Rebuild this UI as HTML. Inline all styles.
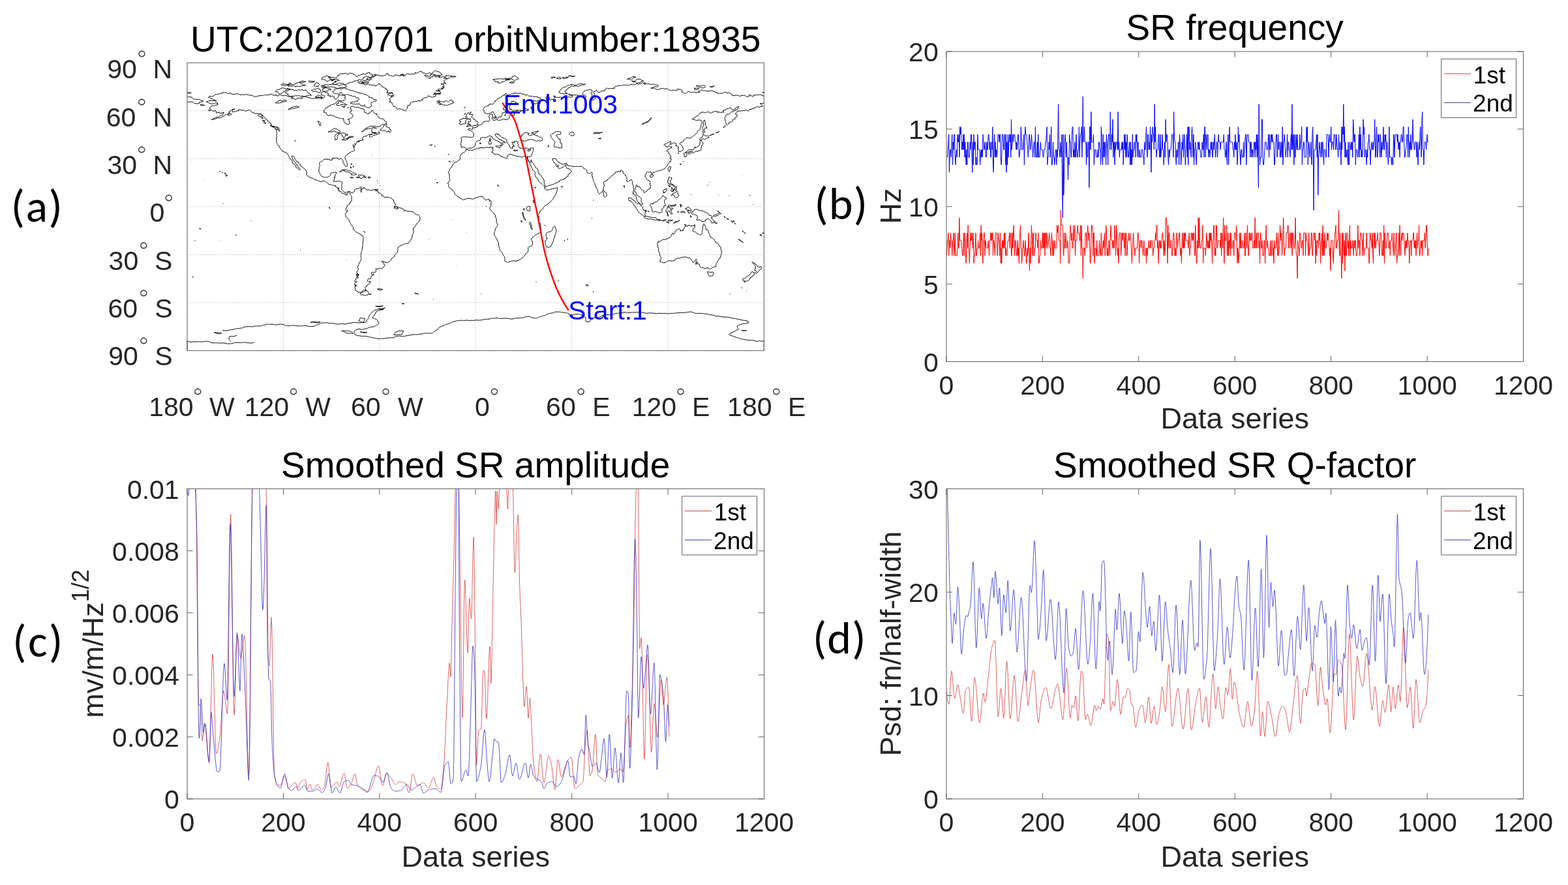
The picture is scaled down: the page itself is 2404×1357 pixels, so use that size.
<!DOCTYPE html><html><head><meta charset="utf-8"><title>figure</title><style>html,body{margin:0;padding:0;background:#fff;overflow:hidden}svg{display:block}</style></head><body><svg xmlns="http://www.w3.org/2000/svg" width="2404" height="1357" viewBox="0 0 2404 1357">
<rect width="2404" height="1357" fill="#fff"/>
<text x="16.8" y="340.0" font-size="70" text-anchor="start" fill="#000" font-family="Carlito, Calibri, 'Liberation Sans', sans-serif" letter-spacing="1.5">(a)</text>
<text x="1248.4" y="335.5" font-size="70" text-anchor="start" fill="#000" font-family="Carlito, Calibri, 'Liberation Sans', sans-serif" letter-spacing="1.2">(b)</text>
<text x="19.2" y="1007.0" font-size="70" text-anchor="start" fill="#000" font-family="Carlito, Calibri, 'Liberation Sans', sans-serif" letter-spacing="2.5">(c)</text>
<text x="1245.9" y="1002.0" font-size="70" text-anchor="start" fill="#000" font-family="Carlito, Calibri, 'Liberation Sans', sans-serif" letter-spacing="1.2">(d)</text>
<g>
<polyline points="1451.7,392.0 1452.5,368.8 1453.2,368.8 1453.9,357.1 1454.7,392.0 1455.4,368.8 1456.2,368.8 1456.9,380.4 1457.6,357.1 1458.4,368.8 1459.1,368.8 1459.8,392.0 1460.6,368.8 1461.3,368.8 1462.1,357.1 1462.8,392.0 1463.5,380.4 1464.3,357.1 1465.0,392.0 1465.7,392.0 1466.5,392.0 1467.2,392.0 1468.0,380.4 1468.7,357.1 1469.4,380.4 1470.2,380.4 1470.9,333.9 1471.6,368.8 1472.4,368.8 1473.1,368.8 1473.8,368.8 1474.6,380.4 1475.3,392.0 1476.1,392.0 1476.8,380.4 1477.5,357.1 1478.3,392.0 1479.0,357.1 1479.7,357.1 1480.5,392.0 1481.2,403.6 1482.0,368.8 1482.7,357.1 1483.4,380.4 1484.2,345.5 1484.9,380.4 1485.6,380.4 1486.4,403.6 1487.1,380.4 1487.9,357.1 1488.6,368.8 1489.3,368.8 1490.1,357.1 1490.8,368.8 1491.5,380.4 1492.3,357.1 1493.0,403.6 1493.8,392.0 1494.5,392.0 1495.2,380.4 1496.0,357.1 1496.7,392.0 1497.4,392.0 1498.2,380.4 1498.9,380.4 1499.6,368.8 1500.4,380.4 1501.1,380.4 1501.9,380.4 1502.6,357.1 1503.3,392.0 1504.1,345.5 1504.8,368.8 1505.5,357.1 1506.3,392.0 1507.0,403.6 1507.8,368.8 1508.5,357.1 1509.2,357.1 1510.0,392.0 1510.7,368.8 1511.4,368.8 1512.2,380.4 1512.9,380.4 1513.7,380.4 1514.4,380.4 1515.1,368.8 1515.9,380.4 1516.6,392.0 1517.3,368.8 1518.1,368.8 1518.8,357.1 1519.5,368.8 1520.3,357.1 1521.0,368.8 1521.8,357.1 1522.5,392.0 1523.2,368.8 1524.0,368.8 1524.7,380.4 1525.4,392.0 1526.2,357.1 1526.9,357.1 1527.7,357.1 1528.4,357.1 1529.1,392.0 1529.9,380.4 1530.6,357.1 1531.3,368.8 1532.1,368.8 1532.8,392.0 1533.6,357.1 1534.3,403.6 1535.0,380.4 1535.8,403.6 1536.5,368.8 1537.2,380.4 1538.0,368.8 1538.7,380.4 1539.5,357.1 1540.2,380.4 1540.9,357.1 1541.7,392.0 1542.4,380.4 1543.1,392.0 1543.9,392.0 1544.6,380.4 1545.3,368.8 1546.1,368.8 1546.8,368.8 1547.6,357.1 1548.3,380.4 1549.0,357.1 1549.8,357.1 1550.5,392.0 1551.2,392.0 1552.0,357.1 1552.7,380.4 1553.5,357.1 1554.2,345.5 1554.9,368.8 1555.7,392.0 1556.4,368.8 1557.1,368.8 1557.9,380.4 1558.6,392.0 1559.4,392.0 1560.1,368.8 1560.8,392.0 1561.6,380.4 1562.3,403.6 1563.0,368.8 1563.8,357.1 1564.5,345.5 1565.2,380.4 1566.0,380.4 1566.7,403.6 1567.5,380.4 1568.2,380.4 1568.9,368.8 1569.7,380.4 1570.4,392.0 1571.1,392.0 1571.9,368.8 1572.6,380.4 1573.4,403.6 1574.1,403.6 1574.8,380.4 1575.6,392.0 1576.3,380.4 1577.0,357.1 1577.8,392.0 1578.5,415.2 1579.3,380.4 1580.0,403.6 1580.7,368.8 1581.5,345.5 1582.2,368.8 1582.9,392.0 1583.7,357.1 1584.4,357.1 1585.1,392.0 1585.9,392.0 1586.6,380.4 1587.4,380.4 1588.1,357.1 1588.8,368.8 1589.6,368.8 1590.3,368.8 1591.0,380.4 1591.8,357.1 1592.5,403.6 1593.3,403.6 1594.0,392.0 1594.7,392.0 1595.5,368.8 1596.2,380.4 1596.9,380.4 1597.7,380.4 1598.4,357.1 1599.2,380.4 1599.9,357.1 1600.6,380.4 1601.4,357.1 1602.1,392.0 1602.8,357.1 1603.6,357.1 1604.3,380.4 1605.1,357.1 1605.8,368.8 1606.5,380.4 1607.3,368.8 1608.0,368.8 1608.7,357.1 1609.5,380.4 1610.2,380.4 1610.9,392.0 1611.7,368.8 1612.4,357.1 1613.2,368.8 1613.9,392.0 1614.6,368.8 1615.4,392.0 1616.1,380.4 1616.8,368.8 1617.6,380.4 1618.3,380.4 1619.1,380.4 1619.8,380.4 1620.5,345.5 1621.3,357.1 1622.0,345.5 1622.7,345.5 1623.5,368.8 1624.2,368.8 1625.0,368.8 1625.7,403.6 1626.4,322.3 1627.2,345.5 1627.9,345.5 1628.6,345.5 1629.4,345.5 1630.1,380.4 1630.8,392.0 1631.6,357.1 1632.3,380.4 1633.1,380.4 1633.8,357.1 1634.5,368.8 1635.3,380.4 1636.0,380.4 1636.7,368.8 1637.5,380.4 1638.2,403.6 1639.0,403.6 1639.7,403.6 1640.4,368.8 1641.2,345.5 1641.9,357.1 1642.6,368.8 1643.4,357.1 1644.1,380.4 1644.9,380.4 1645.6,345.5 1646.3,368.8 1647.1,357.1 1647.8,345.5 1648.5,392.0 1649.3,368.8 1650.0,368.8 1650.7,368.8 1651.5,357.1 1652.2,345.5 1653.0,357.1 1653.7,357.1 1654.4,357.1 1655.2,368.8 1655.9,368.8 1656.6,345.5 1657.4,392.0 1658.1,345.5 1658.9,380.4 1659.6,380.4 1660.3,426.8 1661.1,380.4 1661.8,380.4 1662.5,380.4 1663.3,392.0 1664.0,357.1 1664.8,357.1 1665.5,357.1 1666.2,380.4 1667.0,357.1 1667.7,345.5 1668.4,357.1 1669.2,368.8 1669.9,357.1 1670.7,380.4 1671.4,403.6 1672.1,403.6 1672.9,368.8 1673.6,345.5 1674.3,345.5 1675.1,357.1 1675.8,392.0 1676.5,357.1 1677.3,357.1 1678.0,403.6 1678.8,380.4 1679.5,380.4 1680.2,380.4 1681.0,392.0 1681.7,368.8 1682.4,392.0 1683.2,392.0 1683.9,392.0 1684.7,392.0 1685.4,368.8 1686.1,380.4 1686.9,392.0 1687.6,392.0 1688.3,357.1 1689.1,392.0 1689.8,392.0 1690.6,380.4 1691.3,368.8 1692.0,380.4 1692.8,368.8 1693.5,357.1 1694.2,392.0 1695.0,368.8 1695.7,345.5 1696.4,357.1 1697.2,392.0 1697.9,380.4 1698.7,392.0 1699.4,392.0 1700.1,368.8 1700.9,380.4 1701.6,392.0 1702.3,357.1 1703.1,345.5 1703.8,368.8 1704.6,368.8 1705.3,368.8 1706.0,380.4 1706.8,368.8 1707.5,380.4 1708.2,380.4 1709.0,345.5 1709.7,357.1 1710.5,392.0 1711.2,368.8 1711.9,345.5 1712.7,368.8 1713.4,392.0 1714.1,380.4 1714.9,403.6 1715.6,368.8 1716.3,357.1 1717.1,357.1 1717.8,357.1 1718.6,392.0 1719.3,380.4 1720.0,357.1 1720.8,368.8 1721.5,357.1 1722.2,357.1 1723.0,368.8 1723.7,380.4 1724.5,357.1 1725.2,392.0 1725.9,357.1 1726.7,357.1 1727.4,392.0 1728.1,392.0 1728.9,368.8 1729.6,368.8 1730.4,357.1 1731.1,368.8 1731.8,368.8 1732.6,357.1 1733.3,368.8 1734.0,368.8 1734.8,392.0 1735.5,403.6 1736.3,380.4 1737.0,368.8 1737.7,357.1 1738.5,380.4 1739.2,380.4 1739.9,392.0 1740.7,380.4 1741.4,380.4 1742.1,380.4 1742.9,380.4 1743.6,380.4 1744.4,357.1 1745.1,357.1 1745.8,368.8 1746.6,403.6 1747.3,380.4 1748.0,368.8 1748.8,368.8 1749.5,380.4 1750.3,368.8 1751.0,368.8 1751.7,380.4 1752.5,392.0 1753.2,380.4 1753.9,368.8 1754.7,392.0 1755.4,392.0 1756.2,392.0 1756.9,380.4 1757.6,403.6 1758.4,380.4 1759.1,392.0 1759.8,380.4 1760.6,380.4 1761.3,368.8 1762.0,380.4 1762.8,380.4 1763.5,368.8 1764.3,380.4 1765.0,368.8 1765.7,368.8 1766.5,368.8 1767.2,380.4 1767.9,392.0 1768.7,380.4 1769.4,380.4 1770.2,368.8 1770.9,368.8 1771.6,357.1 1772.4,368.8 1773.1,345.5 1773.8,345.5 1774.6,380.4 1775.3,368.8 1776.1,403.6 1776.8,380.4 1777.5,368.8 1778.3,380.4 1779.0,368.8 1779.7,380.4 1780.5,380.4 1781.2,368.8 1782.0,357.1 1782.7,357.1 1783.4,368.8 1784.2,392.0 1784.9,368.8 1785.6,380.4 1786.4,392.0 1787.1,333.9 1787.8,333.9 1788.6,333.9 1789.3,368.8 1790.1,403.6 1790.8,345.5 1791.5,380.4 1792.3,357.1 1793.0,357.1 1793.7,380.4 1794.5,380.4 1795.2,368.8 1796.0,368.8 1796.7,392.0 1797.4,392.0 1798.2,380.4 1798.9,357.1 1799.6,357.1 1800.4,368.8 1801.1,392.0 1801.9,380.4 1802.6,392.0 1803.3,392.0 1804.1,357.1 1804.8,368.8 1805.5,380.4 1806.3,368.8 1807.0,368.8 1807.7,357.1 1808.5,357.1 1809.2,380.4 1810.0,392.0 1810.7,380.4 1811.4,403.6 1812.2,368.8 1812.9,357.1 1813.6,380.4 1814.4,380.4 1815.1,357.1 1815.9,380.4 1816.6,357.1 1817.3,357.1 1818.1,368.8 1818.8,368.8 1819.5,368.8 1820.3,368.8 1821.0,368.8 1821.8,380.4 1822.5,368.8 1823.2,357.1 1824.0,392.0 1824.7,380.4 1825.4,380.4 1826.2,357.1 1826.9,357.1 1827.6,368.8 1828.4,357.1 1829.1,368.8 1829.9,357.1 1830.6,357.1 1831.3,392.0 1832.1,392.0 1832.8,345.5 1833.5,380.4 1834.3,403.6 1835.0,403.6 1835.8,368.8 1836.5,380.4 1837.2,333.9 1838.0,380.4 1838.7,333.9 1839.4,368.8 1840.2,380.4 1840.9,380.4 1841.7,380.4 1842.4,368.8 1843.1,368.8 1843.9,345.5 1844.6,403.6 1845.3,380.4 1846.1,380.4 1846.8,380.4 1847.6,380.4 1848.3,392.0 1849.0,380.4 1849.8,357.1 1850.5,368.8 1851.2,380.4 1852.0,368.8 1852.7,380.4 1853.4,380.4 1854.2,357.1 1854.9,380.4 1855.7,357.1 1856.4,368.8 1857.1,357.1 1857.9,380.4 1858.6,403.6 1859.3,368.8 1860.1,368.8 1860.8,345.5 1861.6,345.5 1862.3,392.0 1863.0,380.4 1863.8,392.0 1864.5,345.5 1865.2,345.5 1866.0,380.4 1866.7,380.4 1867.5,368.8 1868.2,368.8 1868.9,368.8 1869.7,368.8 1870.4,368.8 1871.1,380.4 1871.9,357.1 1872.6,392.0 1873.3,357.1 1874.1,368.8 1874.8,380.4 1875.6,333.9 1876.3,380.4 1877.0,403.6 1877.8,345.5 1878.5,368.8 1879.2,368.8 1880.0,368.8 1880.7,345.5 1881.5,392.0 1882.2,392.0 1882.9,357.1 1883.7,392.0 1884.4,368.8 1885.1,380.4 1885.9,357.1 1886.6,392.0 1887.4,357.1 1888.1,380.4 1888.8,380.4 1889.6,380.4 1890.3,368.8 1891.0,368.8 1891.8,392.0 1892.5,357.1 1893.2,357.1 1894.0,357.1 1894.7,368.8 1895.5,345.5 1896.2,357.1 1896.9,403.6 1897.7,380.4 1898.4,392.0 1899.1,403.6 1899.9,380.4 1900.6,357.1 1901.4,380.4 1902.1,357.1 1902.8,380.4 1903.6,380.4 1904.3,368.8 1905.0,368.8 1905.8,380.4 1906.5,380.4 1907.3,380.4 1908.0,357.1 1908.7,392.0 1909.5,392.0 1910.2,357.1 1910.9,368.8 1911.7,380.4 1912.4,345.5 1913.2,368.8 1913.9,392.0 1914.6,392.0 1915.4,357.1 1916.1,368.8 1916.8,357.1 1917.6,368.8 1918.3,368.8 1919.0,357.1 1919.8,357.1 1920.5,380.4 1921.3,380.4 1922.0,380.4 1922.7,368.8 1923.5,380.4 1924.2,333.9 1924.9,380.4 1925.7,380.4 1926.4,357.1 1927.2,380.4 1927.9,357.1 1928.6,357.1 1929.4,357.1 1930.1,380.4 1930.8,368.8 1931.6,403.6 1932.3,357.1 1933.1,357.1 1933.8,380.4 1934.5,380.4 1935.3,368.8 1936.0,392.0 1936.7,392.0 1937.5,392.0 1938.2,368.8 1938.9,368.8 1939.7,403.6 1940.4,368.8 1941.2,345.5 1941.9,368.8 1942.6,380.4 1943.4,368.8 1944.1,380.4 1944.8,380.4 1945.6,392.0 1946.3,392.0 1947.1,392.0 1947.8,368.8 1948.5,392.0 1949.3,392.0 1950.0,368.8 1950.7,368.8 1951.5,392.0 1952.2,380.4 1953.0,403.6 1953.7,368.8 1954.4,380.4 1955.2,380.4 1955.9,380.4 1956.6,368.8 1957.4,357.1 1958.1,380.4 1958.9,392.0 1959.6,357.1 1960.3,392.0 1961.1,380.4 1961.8,380.4 1962.5,345.5 1963.3,357.1 1964.0,368.8 1964.7,357.1 1965.5,392.0 1966.2,380.4 1967.0,357.1 1967.7,333.9 1968.4,368.8 1969.2,392.0 1969.9,380.4 1970.6,380.4 1971.4,380.4 1972.1,357.1 1972.9,357.1 1973.6,357.1 1974.3,345.5 1975.1,345.5 1975.8,380.4 1976.5,380.4 1977.3,357.1 1978.0,357.1 1978.8,380.4 1979.5,357.1 1980.2,357.1 1981.0,392.0 1981.7,357.1 1982.4,357.1 1983.2,368.8 1983.9,380.4 1984.6,380.4 1985.4,368.8 1986.1,333.9 1986.9,380.4 1987.6,392.0 1988.3,392.0 1989.1,426.8 1989.8,368.8 1990.5,380.4 1991.3,380.4 1992.0,392.0 1992.8,357.1 1993.5,357.1 1994.2,368.8 1995.0,380.4 1995.7,380.4 1996.4,368.8 1997.2,368.8 1997.9,392.0 1998.7,357.1 1999.4,357.1 2000.1,357.1 2000.9,357.1 2001.6,392.0 2002.3,357.1 2003.1,368.8 2003.8,368.8 2004.5,368.8 2005.3,380.4 2006.0,392.0 2006.8,357.1 2007.5,392.0 2008.2,380.4 2009.0,380.4 2009.7,380.4 2010.4,357.1 2011.2,357.1 2011.9,392.0 2012.7,392.0 2013.4,368.8 2014.1,357.1 2014.9,357.1 2015.6,368.8 2016.3,357.1 2017.1,403.6 2017.8,368.8 2018.6,392.0 2019.3,368.8 2020.0,368.8 2020.8,368.8 2021.5,380.4 2022.2,357.1 2023.0,368.8 2023.7,357.1 2024.5,403.6 2025.2,380.4 2025.9,368.8 2026.7,357.1 2027.4,392.0 2028.1,345.5 2028.9,392.0 2029.6,368.8 2030.3,392.0 2031.1,357.1 2031.8,380.4 2032.6,380.4 2033.3,380.4 2034.0,368.8 2034.8,357.1 2035.5,368.8 2036.2,357.1 2037.0,368.8 2037.7,368.8 2038.5,392.0 2039.2,380.4 2039.9,415.2 2040.7,368.8 2041.4,368.8 2042.1,368.8 2042.9,368.8 2043.6,392.0 2044.4,403.6 2045.1,380.4 2045.8,380.4 2046.6,357.1 2047.3,357.1 2048.0,345.5 2048.8,380.4 2049.5,380.4 2050.2,368.8 2051.0,368.8 2051.7,368.8 2052.5,322.3 2053.2,380.4 2053.9,392.0 2054.7,357.1 2055.4,392.0 2056.1,392.0 2056.9,426.8 2057.6,357.1 2058.4,403.6 2059.1,357.1 2059.8,380.4 2060.6,392.0 2061.3,368.8 2062.0,415.2 2062.8,357.1 2063.5,392.0 2064.3,392.0 2065.0,357.1 2065.7,357.1 2066.5,380.4 2067.2,368.8 2067.9,392.0 2068.7,368.8 2069.4,345.5 2070.2,392.0 2070.9,368.8 2071.6,380.4 2072.4,380.4 2073.1,380.4 2073.8,368.8 2074.6,380.4 2075.3,392.0 2076.0,368.8 2076.8,380.4 2077.5,368.8 2078.3,368.8 2079.0,392.0 2079.7,392.0 2080.5,392.0 2081.2,380.4 2081.9,345.5 2082.7,380.4 2083.4,368.8 2084.2,368.8 2084.9,392.0 2085.6,357.1 2086.4,357.1 2087.1,357.1 2087.8,368.8 2088.6,368.8 2089.3,392.0 2090.1,357.1 2090.8,380.4 2091.5,392.0 2092.3,380.4 2093.0,380.4 2093.7,380.4 2094.5,380.4 2095.2,357.1 2095.9,380.4 2096.7,380.4 2097.4,380.4 2098.2,380.4 2098.9,403.6 2099.6,403.6 2100.4,357.1 2101.1,357.1 2101.8,368.8 2102.6,368.8 2103.3,380.4 2104.1,357.1 2104.8,392.0 2105.5,403.6 2106.3,357.1 2107.0,357.1 2107.7,380.4 2108.5,357.1 2109.2,380.4 2110.0,368.8 2110.7,368.8 2111.4,368.8 2112.2,357.1 2112.9,368.8 2113.6,368.8 2114.4,380.4 2115.1,392.0 2115.8,357.1 2116.6,357.1 2117.3,357.1 2118.1,380.4 2118.8,392.0 2119.5,392.0 2120.3,368.8 2121.0,392.0 2121.7,345.5 2122.5,403.6 2123.2,357.1 2124.0,380.4 2124.7,380.4 2125.4,380.4 2126.2,368.8 2126.9,357.1 2127.6,357.1 2128.4,357.1 2129.1,380.4 2129.9,380.4 2130.6,368.8 2131.3,392.0 2132.1,368.8 2132.8,368.8 2133.5,368.8 2134.3,357.1 2135.0,368.8 2135.8,380.4 2136.5,392.0 2137.2,357.1 2138.0,380.4 2138.7,392.0 2139.4,380.4 2140.2,368.8 2140.9,357.1 2141.6,403.6 2142.4,392.0 2143.1,392.0 2143.9,380.4 2144.6,357.1 2145.3,392.0 2146.1,345.5 2146.8,380.4 2147.5,392.0 2148.3,368.8 2149.0,357.1 2149.8,368.8 2150.5,357.1 2151.2,357.1 2152.0,357.1 2152.7,368.8 2153.4,380.4 2154.2,392.0 2154.9,368.8 2155.7,380.4 2156.4,368.8 2157.1,380.4 2157.9,357.1 2158.6,368.8 2159.3,368.8 2160.1,380.4 2160.8,403.6 2161.5,380.4 2162.3,368.8 2163.0,368.8 2163.8,392.0 2164.5,368.8 2165.2,368.8 2166.0,368.8 2166.7,357.1 2167.4,357.1 2168.2,380.4 2168.9,368.8 2169.7,380.4 2170.4,368.8 2171.1,392.0 2171.9,368.8 2172.6,357.1 2173.3,380.4 2174.1,368.8 2174.8,368.8 2175.6,345.5 2176.3,392.0 2177.0,392.0 2177.8,380.4 2178.5,368.8 2179.2,380.4 2180.0,368.8 2180.7,392.0 2181.4,368.8 2182.2,368.8 2182.9,368.8 2183.7,368.8 2184.4,357.1 2185.1,380.4 2185.9,368.8 2186.6,345.5 2187.3,345.5 2188.1,368.8 2188.8,392.0 2189.6,392.0 2190.3,380.4" fill="none" stroke="#ff0000" stroke-width="1.0" stroke-linejoin="round" />
<polyline points="1451.7,241.1 1452.5,241.1 1453.2,229.5 1453.9,217.8 1454.7,206.2 1455.4,264.3 1456.2,241.1 1456.9,229.5 1457.6,229.5 1458.4,241.1 1459.1,217.8 1459.8,206.2 1460.6,252.7 1461.3,217.8 1462.1,229.5 1462.8,206.2 1463.5,206.2 1464.3,241.1 1465.0,252.7 1465.7,241.1 1466.5,229.5 1467.2,241.1 1468.0,206.2 1468.7,217.8 1469.4,217.8 1470.2,206.2 1470.9,241.1 1471.6,194.6 1472.4,206.2 1473.1,194.6 1473.8,206.2 1474.6,229.5 1475.3,217.8 1476.1,229.5 1476.8,206.2 1477.5,229.5 1478.3,206.2 1479.0,241.1 1479.7,217.8 1480.5,241.1 1481.2,252.7 1482.0,229.5 1482.7,252.7 1483.4,217.8 1484.2,217.8 1484.9,241.1 1485.6,241.1 1486.4,241.1 1487.1,217.8 1487.9,229.5 1488.6,206.2 1489.3,206.2 1490.1,241.1 1490.8,264.3 1491.5,217.8 1492.3,252.7 1493.0,206.2 1493.8,229.5 1494.5,217.8 1495.2,217.8 1496.0,252.7 1496.7,241.1 1497.4,252.7 1498.2,252.7 1498.9,206.2 1499.6,229.5 1500.4,229.5 1501.1,229.5 1501.9,229.5 1502.6,252.7 1503.3,241.1 1504.1,229.5 1504.8,241.1 1505.5,229.5 1506.3,241.1 1507.0,206.2 1507.8,217.8 1508.5,229.5 1509.2,229.5 1510.0,217.8 1510.7,217.8 1511.4,241.1 1512.2,241.1 1512.9,217.8 1513.7,229.5 1514.4,229.5 1515.1,206.2 1515.9,206.2 1516.6,217.8 1517.3,229.5 1518.1,217.8 1518.8,241.1 1519.5,241.1 1520.3,217.8 1521.0,229.5 1521.8,194.6 1522.5,252.7 1523.2,264.3 1524.0,217.8 1524.7,206.2 1525.4,241.1 1526.2,217.8 1526.9,241.1 1527.7,229.5 1528.4,241.1 1529.1,229.5 1529.9,206.2 1530.6,206.2 1531.3,206.2 1532.1,217.8 1532.8,206.2 1533.6,206.2 1534.3,241.1 1535.0,252.7 1535.8,241.1 1536.5,206.2 1537.2,206.2 1538.0,206.2 1538.7,229.5 1539.5,229.5 1540.2,206.2 1540.9,206.2 1541.7,252.7 1542.4,206.2 1543.1,264.3 1543.9,217.8 1544.6,252.7 1545.3,206.2 1546.1,241.1 1546.8,217.8 1547.6,206.2 1548.3,217.8 1549.0,206.2 1549.8,241.1 1550.5,183.0 1551.2,229.5 1552.0,217.8 1552.7,206.2 1553.5,217.8 1554.2,206.2 1554.9,206.2 1555.7,206.2 1556.4,217.8 1557.1,217.8 1557.9,229.5 1558.6,217.8 1559.4,229.5 1560.1,217.8 1560.8,206.2 1561.6,206.2 1562.3,241.1 1563.0,241.1 1563.8,229.5 1564.5,229.5 1565.2,194.6 1566.0,206.2 1566.7,229.5 1567.5,229.5 1568.2,229.5 1568.9,217.8 1569.7,206.2 1570.4,252.7 1571.1,217.8 1571.9,194.6 1572.6,206.2 1573.4,206.2 1574.1,206.2 1574.8,217.8 1575.6,229.5 1576.3,241.1 1577.0,229.5 1577.8,206.2 1578.5,206.2 1579.3,229.5 1580.0,229.5 1580.7,217.8 1581.5,206.2 1582.2,217.8 1582.9,229.5 1583.7,241.1 1584.4,229.5 1585.1,217.8 1585.9,217.8 1586.6,241.1 1587.4,194.6 1588.1,241.1 1588.8,241.1 1589.6,241.1 1590.3,217.8 1591.0,241.1 1591.8,206.2 1592.5,241.1 1593.3,241.1 1594.0,241.1 1594.7,229.5 1595.5,217.8 1596.2,229.5 1596.9,229.5 1597.7,229.5 1598.4,229.5 1599.2,241.1 1599.9,241.1 1600.6,229.5 1601.4,229.5 1602.1,229.5 1602.8,217.8 1603.6,217.8 1604.3,206.2 1605.1,194.6 1605.8,252.7 1606.5,241.1 1607.3,241.1 1608.0,217.8 1608.7,229.5 1609.5,206.2 1610.2,241.1 1610.9,229.5 1611.7,194.6 1612.4,252.7 1613.2,252.7 1613.9,241.1 1614.6,217.8 1615.4,241.1 1616.1,241.1 1616.8,252.7 1617.6,241.1 1618.3,229.5 1619.1,229.5 1619.8,252.7 1620.5,229.5 1621.3,241.1 1622.0,194.6 1622.7,159.8 1623.5,229.5 1624.2,229.5 1625.0,241.1 1625.7,217.8 1626.4,229.5 1627.2,241.1 1627.9,206.2 1628.6,287.5 1629.4,333.9 1630.1,206.2 1630.8,299.1 1631.6,264.3 1632.3,217.8 1633.1,206.2 1633.8,217.8 1634.5,241.1 1635.3,217.8 1636.0,241.1 1636.7,241.1 1637.5,275.9 1638.2,241.1 1639.0,252.7 1639.7,206.2 1640.4,217.8 1641.2,217.8 1641.9,241.1 1642.6,241.1 1643.4,206.2 1644.1,194.6 1644.9,194.6 1645.6,241.1 1646.3,229.5 1647.1,241.1 1647.8,217.8 1648.5,241.1 1649.3,241.1 1650.0,206.2 1650.7,229.5 1651.5,241.1 1652.2,241.1 1653.0,229.5 1653.7,229.5 1654.4,194.6 1655.2,241.1 1655.9,217.8 1656.6,206.2 1657.4,206.2 1658.1,194.6 1658.9,241.1 1659.6,206.2 1660.3,148.2 1661.1,217.8 1661.8,206.2 1662.5,194.6 1663.3,217.8 1664.0,217.8 1664.8,217.8 1665.5,252.7 1666.2,217.8 1667.0,241.1 1667.7,241.1 1668.4,217.8 1669.2,217.8 1669.9,287.5 1670.7,194.6 1671.4,194.6 1672.1,229.5 1672.9,171.4 1673.6,217.8 1674.3,217.8 1675.1,217.8 1675.8,217.8 1676.5,206.2 1677.3,252.7 1678.0,241.1 1678.8,229.5 1679.5,229.5 1680.2,229.5 1681.0,241.1 1681.7,241.1 1682.4,241.1 1683.2,229.5 1683.9,241.1 1684.7,217.8 1685.4,217.8 1686.1,229.5 1686.9,229.5 1687.6,252.7 1688.3,194.6 1689.1,206.2 1689.8,241.1 1690.6,252.7 1691.3,206.2 1692.0,241.1 1692.8,217.8 1693.5,241.1 1694.2,217.8 1695.0,229.5 1695.7,252.7 1696.4,206.2 1697.2,217.8 1697.9,229.5 1698.7,252.7 1699.4,206.2 1700.1,206.2 1700.9,206.2 1701.6,229.5 1702.3,171.4 1703.1,217.8 1703.8,229.5 1704.6,206.2 1705.3,217.8 1706.0,183.0 1706.8,241.1 1707.5,217.8 1708.2,217.8 1709.0,252.7 1709.7,217.8 1710.5,229.5 1711.2,217.8 1711.9,217.8 1712.7,217.8 1713.4,229.5 1714.1,171.4 1714.9,229.5 1715.6,217.8 1716.3,241.1 1717.1,229.5 1717.8,229.5 1718.6,229.5 1719.3,229.5 1720.0,217.8 1720.8,229.5 1721.5,217.8 1722.2,252.7 1723.0,229.5 1723.7,206.2 1724.5,229.5 1725.2,206.2 1725.9,241.1 1726.7,217.8 1727.4,241.1 1728.1,206.2 1728.9,217.8 1729.6,241.1 1730.4,241.1 1731.1,229.5 1731.8,217.8 1732.6,252.7 1733.3,217.8 1734.0,252.7 1734.8,229.5 1735.5,252.7 1736.3,206.2 1737.0,241.1 1737.7,229.5 1738.5,229.5 1739.2,217.8 1739.9,217.8 1740.7,241.1 1741.4,206.2 1742.1,217.8 1742.9,206.2 1743.6,241.1 1744.4,217.8 1745.1,217.8 1745.8,241.1 1746.6,241.1 1747.3,229.5 1748.0,241.1 1748.8,241.1 1749.5,241.1 1750.3,229.5 1751.0,229.5 1751.7,229.5 1752.5,241.1 1753.2,241.1 1753.9,252.7 1754.7,217.8 1755.4,229.5 1756.2,229.5 1756.9,206.2 1757.6,194.6 1758.4,229.5 1759.1,241.1 1759.8,206.2 1760.6,206.2 1761.3,229.5 1762.0,217.8 1762.8,229.5 1763.5,194.6 1764.3,217.8 1765.0,264.3 1765.7,206.2 1766.5,217.8 1767.2,194.6 1767.9,206.2 1768.7,206.2 1769.4,229.5 1770.2,159.8 1770.9,217.8 1771.6,194.6 1772.4,229.5 1773.1,241.1 1773.8,229.5 1774.6,229.5 1775.3,229.5 1776.1,206.2 1776.8,206.2 1777.5,241.1 1778.3,241.1 1779.0,206.2 1779.7,241.1 1780.5,229.5 1781.2,229.5 1782.0,206.2 1782.7,229.5 1783.4,229.5 1784.2,252.7 1784.9,241.1 1785.6,217.8 1786.4,241.1 1787.1,183.0 1787.8,217.8 1788.6,206.2 1789.3,206.2 1790.1,217.8 1790.8,241.1 1791.5,252.7 1792.3,229.5 1793.0,241.1 1793.7,229.5 1794.5,229.5 1795.2,229.5 1796.0,217.8 1796.7,206.2 1797.4,206.2 1798.2,206.2 1798.9,241.1 1799.6,171.4 1800.4,206.2 1801.1,217.8 1801.9,217.8 1802.6,241.1 1803.3,252.7 1804.1,229.5 1804.8,241.1 1805.5,241.1 1806.3,217.8 1807.0,217.8 1807.7,252.7 1808.5,206.2 1809.2,217.8 1810.0,229.5 1810.7,252.7 1811.4,241.1 1812.2,217.8 1812.9,229.5 1813.6,206.2 1814.4,241.1 1815.1,217.8 1815.9,206.2 1816.6,229.5 1817.3,252.7 1818.1,229.5 1818.8,229.5 1819.5,206.2 1820.3,241.1 1821.0,194.6 1821.8,252.7 1822.5,194.6 1823.2,194.6 1824.0,229.5 1824.7,217.8 1825.4,229.5 1826.2,241.1 1826.9,206.2 1827.6,194.6 1828.4,217.8 1829.1,241.1 1829.9,206.2 1830.6,252.7 1831.3,229.5 1832.1,229.5 1832.8,217.8 1833.5,241.1 1834.3,252.7 1835.0,229.5 1835.8,229.5 1836.5,217.8 1837.2,217.8 1838.0,229.5 1838.7,217.8 1839.4,229.5 1840.2,229.5 1840.9,241.1 1841.7,241.1 1842.4,241.1 1843.1,217.8 1843.9,229.5 1844.6,229.5 1845.3,206.2 1846.1,241.1 1846.8,194.6 1847.6,194.6 1848.3,241.1 1849.0,206.2 1849.8,217.8 1850.5,229.5 1851.2,206.2 1852.0,206.2 1852.7,241.1 1853.4,229.5 1854.2,229.5 1854.9,241.1 1855.7,229.5 1856.4,217.8 1857.1,229.5 1857.9,217.8 1858.6,241.1 1859.3,241.1 1860.1,217.8 1860.8,229.5 1861.6,217.8 1862.3,206.2 1863.0,229.5 1863.8,241.1 1864.5,229.5 1865.2,217.8 1866.0,217.8 1866.7,241.1 1867.5,217.8 1868.2,206.2 1868.9,217.8 1869.7,217.8 1870.4,217.8 1871.1,229.5 1871.9,217.8 1872.6,217.8 1873.3,217.8 1874.1,217.8 1874.8,217.8 1875.6,217.8 1876.3,206.2 1877.0,229.5 1877.8,229.5 1878.5,241.1 1879.2,241.1 1880.0,217.8 1880.7,241.1 1881.5,252.7 1882.2,217.8 1882.9,206.2 1883.7,252.7 1884.4,217.8 1885.1,194.6 1885.9,217.8 1886.6,217.8 1887.4,217.8 1888.1,217.8 1888.8,217.8 1889.6,217.8 1890.3,229.5 1891.0,229.5 1891.8,241.1 1892.5,217.8 1893.2,229.5 1894.0,206.2 1894.7,229.5 1895.5,229.5 1896.2,217.8 1896.9,252.7 1897.7,241.1 1898.4,194.6 1899.1,217.8 1899.9,206.2 1900.6,229.5 1901.4,241.1 1902.1,252.7 1902.8,229.5 1903.6,229.5 1904.3,241.1 1905.0,241.1 1905.8,241.1 1906.5,217.8 1907.3,241.1 1908.0,229.5 1908.7,217.8 1909.5,206.2 1910.2,206.2 1910.9,252.7 1911.7,217.8 1912.4,206.2 1913.2,206.2 1913.9,206.2 1914.6,217.8 1915.4,217.8 1916.1,217.8 1916.8,241.1 1917.6,217.8 1918.3,217.8 1919.0,241.1 1919.8,229.5 1920.5,229.5 1921.3,241.1 1922.0,229.5 1922.7,217.8 1923.5,217.8 1924.2,241.1 1924.9,217.8 1925.7,229.5 1926.4,206.2 1927.2,241.1 1927.9,206.2 1928.6,229.5 1929.4,287.5 1930.1,159.8 1930.8,206.2 1931.6,252.7 1932.3,241.1 1933.1,241.1 1933.8,241.1 1934.5,183.0 1935.3,183.0 1936.0,241.1 1936.7,252.7 1937.5,252.7 1938.2,241.1 1938.9,229.5 1939.7,217.8 1940.4,217.8 1941.2,217.8 1941.9,229.5 1942.6,229.5 1943.4,229.5 1944.1,217.8 1944.8,206.2 1945.6,241.1 1946.3,206.2 1947.1,229.5 1947.8,229.5 1948.5,206.2 1949.3,206.2 1950.0,217.8 1950.7,206.2 1951.5,217.8 1952.2,217.8 1953.0,217.8 1953.7,252.7 1954.4,252.7 1955.2,229.5 1955.9,217.8 1956.6,206.2 1957.4,206.2 1958.1,241.1 1958.9,229.5 1959.6,206.2 1960.3,229.5 1961.1,217.8 1961.8,217.8 1962.5,241.1 1963.3,241.1 1964.0,217.8 1964.7,229.5 1965.5,241.1 1966.2,194.6 1967.0,252.7 1967.7,217.8 1968.4,217.8 1969.2,206.2 1969.9,217.8 1970.6,229.5 1971.4,241.1 1972.1,229.5 1972.9,229.5 1973.6,206.2 1974.3,241.1 1975.1,217.8 1975.8,217.8 1976.5,229.5 1977.3,229.5 1978.0,241.1 1978.8,217.8 1979.5,206.2 1980.2,229.5 1981.0,159.8 1981.7,229.5 1982.4,217.8 1983.2,206.2 1983.9,252.7 1984.6,206.2 1985.4,241.1 1986.1,241.1 1986.9,206.2 1987.6,217.8 1988.3,229.5 1989.1,206.2 1989.8,229.5 1990.5,229.5 1991.3,229.5 1992.0,229.5 1992.8,206.2 1993.5,229.5 1994.2,217.8 1995.0,217.8 1995.7,194.6 1996.4,252.7 1997.2,229.5 1997.9,229.5 1998.7,217.8 1999.4,217.8 2000.1,241.1 2000.9,241.1 2001.6,241.1 2002.3,241.1 2003.1,194.6 2003.8,217.8 2004.5,194.6 2005.3,252.7 2006.0,229.5 2006.8,217.8 2007.5,229.5 2008.2,241.1 2009.0,229.5 2009.7,217.8 2010.4,241.1 2011.2,252.7 2011.9,206.2 2012.7,194.6 2013.4,229.5 2014.1,322.3 2014.9,229.5 2015.6,229.5 2016.3,229.5 2017.1,229.5 2017.8,217.8 2018.6,206.2 2019.3,241.1 2020.0,206.2 2020.8,299.1 2021.5,241.1 2022.2,229.5 2023.0,217.8 2023.7,229.5 2024.5,241.1 2025.2,229.5 2025.9,217.8 2026.7,241.1 2027.4,217.8 2028.1,217.8 2028.9,241.1 2029.6,252.7 2030.3,229.5 2031.1,229.5 2031.8,229.5 2032.6,241.1 2033.3,241.1 2034.0,206.2 2034.8,206.2 2035.5,206.2 2036.2,206.2 2037.0,241.1 2037.7,217.8 2038.5,206.2 2039.2,217.8 2039.9,217.8 2040.7,194.6 2041.4,229.5 2042.1,217.8 2042.9,217.8 2043.6,217.8 2044.4,229.5 2045.1,206.2 2045.8,206.2 2046.6,206.2 2047.3,229.5 2048.0,229.5 2048.8,206.2 2049.5,217.8 2050.2,229.5 2051.0,229.5 2051.7,241.1 2052.5,206.2 2053.2,229.5 2053.9,229.5 2054.7,217.8 2055.4,229.5 2056.1,252.7 2056.9,194.6 2057.6,229.5 2058.4,194.6 2059.1,206.2 2059.8,159.8 2060.6,217.8 2061.3,194.6 2062.0,241.1 2062.8,217.8 2063.5,241.1 2064.3,241.1 2065.0,229.5 2065.7,229.5 2066.5,252.7 2067.2,217.8 2067.9,252.7 2068.7,252.7 2069.4,217.8 2070.2,229.5 2070.9,229.5 2071.6,217.8 2072.4,229.5 2073.1,217.8 2073.8,241.1 2074.6,183.0 2075.3,194.6 2076.0,217.8 2076.8,206.2 2077.5,206.2 2078.3,252.7 2079.0,229.5 2079.7,229.5 2080.5,229.5 2081.2,241.1 2081.9,241.1 2082.7,229.5 2083.4,206.2 2084.2,241.1 2084.9,194.6 2085.6,229.5 2086.4,206.2 2087.1,241.1 2087.8,229.5 2088.6,241.1 2089.3,229.5 2090.1,183.0 2090.8,206.2 2091.5,194.6 2092.3,241.1 2093.0,229.5 2093.7,229.5 2094.5,241.1 2095.2,252.7 2095.9,229.5 2096.7,241.1 2097.4,217.8 2098.2,217.8 2098.9,206.2 2099.6,229.5 2100.4,229.5 2101.1,252.7 2101.8,229.5 2102.6,217.8 2103.3,229.5 2104.1,229.5 2104.8,217.8 2105.5,229.5 2106.3,217.8 2107.0,217.8 2107.7,183.0 2108.5,241.1 2109.2,241.1 2110.0,206.2 2110.7,194.6 2111.4,241.1 2112.2,241.1 2112.9,206.2 2113.6,217.8 2114.4,206.2 2115.1,229.5 2115.8,241.1 2116.6,206.2 2117.3,229.5 2118.1,241.1 2118.8,217.8 2119.5,229.5 2120.3,217.8 2121.0,194.6 2121.7,229.5 2122.5,229.5 2123.2,206.2 2124.0,217.8 2124.7,206.2 2125.4,241.1 2126.2,217.8 2126.9,217.8 2127.6,241.1 2128.4,252.7 2129.1,241.1 2129.9,194.6 2130.6,241.1 2131.3,241.1 2132.1,241.1 2132.8,241.1 2133.5,252.7 2134.3,241.1 2135.0,252.7 2135.8,252.7 2136.5,206.2 2137.2,206.2 2138.0,241.1 2138.7,217.8 2139.4,206.2 2140.2,206.2 2140.9,206.2 2141.6,206.2 2142.4,217.8 2143.1,206.2 2143.9,229.5 2144.6,217.8 2145.3,217.8 2146.1,241.1 2146.8,217.8 2147.5,217.8 2148.3,206.2 2149.0,206.2 2149.8,217.8 2150.5,217.8 2151.2,194.6 2152.0,194.6 2152.7,217.8 2153.4,241.1 2154.2,241.1 2154.9,229.5 2155.7,229.5 2156.4,217.8 2157.1,206.2 2157.9,206.2 2158.6,241.1 2159.3,194.6 2160.1,217.8 2160.8,241.1 2161.5,217.8 2162.3,229.5 2163.0,206.2 2163.8,229.5 2164.5,229.5 2165.2,217.8 2166.0,183.0 2166.7,217.8 2167.4,217.8 2168.2,229.5 2168.9,229.5 2169.7,217.8 2170.4,217.8 2171.1,217.8 2171.9,241.1 2172.6,217.8 2173.3,229.5 2174.1,252.7 2174.8,229.5 2175.6,217.8 2176.3,229.5 2177.0,206.2 2177.8,194.6 2178.5,217.8 2179.2,241.1 2180.0,183.0 2180.7,171.4 2181.4,229.5 2182.2,229.5 2182.9,252.7 2183.7,229.5 2184.4,217.8 2185.1,217.8 2185.9,217.8 2186.6,229.5 2187.3,217.8 2188.1,206.2 2188.8,217.8 2189.6,217.8 2190.3,217.8" fill="none" stroke="#0000ff" stroke-width="1.0" stroke-linejoin="round" />
</g>
<path d="M1451.0 554.5V545.7M1451.0 79.0V87.8M1598.4 554.5V545.7M1598.4 79.0V87.8M1745.8 554.5V545.7M1745.8 79.0V87.8M1893.2 554.5V545.7M1893.2 79.0V87.8M2040.7 554.5V545.7M2040.7 79.0V87.8M2188.1 554.5V545.7M2188.1 79.0V87.8M2335.5 554.5V545.7M2335.5 79.0V87.8M1451.0 554.5H1459.8M2335.5 554.5H2326.7M1451.0 435.6H1459.8M2335.5 435.6H2326.7M1451.0 316.8H1459.8M2335.5 316.8H2326.7M1451.0 197.9H1459.8M2335.5 197.9H2326.7M1451.0 79.0H1459.8M2335.5 79.0H2326.7" stroke="#606060" stroke-width="1" fill="none"/>
<rect x="1451.0" y="79.0" width="884.5" height="475.5" fill="none" stroke="#606060" stroke-width="1"/>
<text x="1451.0" y="604.8" font-size="41" text-anchor="middle" fill="#262626" font-family="'Liberation Sans', Arial, Helvetica, sans-serif" >0</text>
<text x="1598.4" y="604.8" font-size="41" text-anchor="middle" fill="#262626" font-family="'Liberation Sans', Arial, Helvetica, sans-serif" >200</text>
<text x="1745.8" y="604.8" font-size="41" text-anchor="middle" fill="#262626" font-family="'Liberation Sans', Arial, Helvetica, sans-serif" >400</text>
<text x="1893.2" y="604.8" font-size="41" text-anchor="middle" fill="#262626" font-family="'Liberation Sans', Arial, Helvetica, sans-serif" >600</text>
<text x="2040.7" y="604.8" font-size="41" text-anchor="middle" fill="#262626" font-family="'Liberation Sans', Arial, Helvetica, sans-serif" >800</text>
<text x="2188.1" y="604.8" font-size="41" text-anchor="middle" fill="#262626" font-family="'Liberation Sans', Arial, Helvetica, sans-serif" >1000</text>
<text x="2335.5" y="604.8" font-size="41" text-anchor="middle" fill="#262626" font-family="'Liberation Sans', Arial, Helvetica, sans-serif" >1200</text>
<text x="1438.7" y="569.8" font-size="41" text-anchor="end" fill="#262626" font-family="'Liberation Sans', Arial, Helvetica, sans-serif" >0</text>
<text x="1438.7" y="450.9" font-size="41" text-anchor="end" fill="#262626" font-family="'Liberation Sans', Arial, Helvetica, sans-serif" >5</text>
<text x="1438.7" y="332.1" font-size="41" text-anchor="end" fill="#262626" font-family="'Liberation Sans', Arial, Helvetica, sans-serif" >10</text>
<text x="1438.7" y="213.2" font-size="41" text-anchor="end" fill="#262626" font-family="'Liberation Sans', Arial, Helvetica, sans-serif" >15</text>
<text x="1438.7" y="94.3" font-size="41" text-anchor="end" fill="#262626" font-family="'Liberation Sans', Arial, Helvetica, sans-serif" >20</text>
<text x="1893.2" y="656.8" font-size="45" text-anchor="middle" fill="#262626" font-family="'Liberation Sans', Arial, Helvetica, sans-serif" >Data series</text>
<text x="1893.2" y="61.2" font-size="55" text-anchor="middle" fill="#000" font-family="'Liberation Sans', Arial, Helvetica, sans-serif" >SR frequency</text>
<text transform="translate(1380.5,316) rotate(-90)" font-size="45" text-anchor="middle" fill="#262626" font-family="'Liberation Sans', Arial, Helvetica, sans-serif">Hz</text>
<rect x="2209.7" y="90.4" width="114.8" height="90.0" fill="#fff" stroke="#606060" stroke-width="1"/>
<path d="M2213.9 113.0h41.2" stroke="#d04444" stroke-width="1.0"/>
<path d="M2213.9 157.4h41.2" stroke="#3a3aa8" stroke-width="1.0"/>
<text x="2258.7" y="127.6" font-size="37" text-anchor="start" fill="#000" font-family="'Liberation Sans', Arial, Helvetica, sans-serif" >1st</text>
<text x="2258.1" y="171.0" font-size="37" text-anchor="start" fill="#000" font-family="'Liberation Sans', Arial, Helvetica, sans-serif" >2nd</text>
<clipPath id="cc"><rect x="287.0" y="749.5" width="884.5" height="475.5"/></clipPath>
<g clip-path="url(#cc)">
<polyline points="287.3,700.0 288.0,700.0 288.8,700.0 289.5,700.0 290.3,700.0 291.0,700.0 291.7,700.0 292.5,700.0 293.2,700.0 294.0,700.0 294.7,700.0 295.4,700.0 296.2,700.0 296.9,700.0 297.7,700.0 298.4,700.0 299.1,700.9 299.9,728.1 300.6,775.6 301.4,825.4 302.1,894.7 302.8,972.3 303.6,1039.7 304.3,1078.8 305.1,1082.3 305.8,1081.2 306.5,1080.2 307.3,1081.4 308.0,1095.0 308.8,1115.2 309.5,1131.9 310.2,1135.7 311.0,1131.1 311.7,1123.4 312.5,1115.4 313.2,1109.9 313.9,1109.4 314.7,1112.8 315.4,1119.0 316.2,1127.1 316.9,1136.3 317.6,1145.8 318.4,1154.7 319.1,1162.3 319.9,1167.6 320.6,1170.0 321.3,1163.2 322.1,1141.8 322.8,1110.9 323.6,1076.0 324.3,1042.8 325.0,1016.5 325.8,1002.8 326.5,1006.0 327.3,1023.2 328.0,1049.6 328.7,1080.6 329.5,1111.2 330.2,1136.9 331.0,1152.8 331.7,1155.6 332.4,1154.5 333.2,1152.3 333.9,1149.2 334.7,1145.4 335.4,1141.2 336.1,1136.6 336.9,1132.0 337.6,1125.0 338.4,1115.2 339.1,1103.5 339.8,1091.3 340.6,1079.6 341.3,1069.6 342.1,1062.5 342.8,1059.3 343.5,1060.5 344.3,1064.6 345.0,1070.4 345.8,1077.2 346.5,1084.0 347.2,1089.9 348.0,1093.8 348.7,1094.5 349.5,1070.7 350.2,1020.3 350.9,955.3 351.7,887.7 352.4,829.5 353.2,792.8 353.9,788.9 354.6,817.2 355.4,867.6 356.1,930.0 356.9,994.1 357.6,1049.9 358.3,1087.1 359.1,1096.3 359.8,1084.5 360.6,1061.6 361.3,1033.2 362.0,1005.3 362.8,983.5 363.5,973.7 364.3,975.1 365.0,979.7 365.7,986.3 366.5,993.6 367.2,1000.6 368.0,1006.1 368.7,1008.9 369.4,1008.2 370.2,1005.0 370.9,999.9 371.7,993.8 372.4,987.4 373.1,981.5 373.9,976.7 374.6,974.0 375.4,975.6 376.1,990.4 376.8,1016.6 377.6,1050.0 378.3,1086.8 379.1,1122.9 379.8,1154.4 380.5,1177.3 381.3,1187.7 382.0,1174.7 382.8,1130.0 383.5,1062.9 384.2,983.0 385.0,900.2 385.7,824.0 386.5,764.3 387.2,724.9 387.9,700.2 388.7,700.0 389.4,700.0 390.2,700.0 390.9,700.0 391.6,700.0 392.4,700.0 393.1,700.0 393.9,700.0 394.6,700.0 395.3,700.0 396.1,700.0 396.8,700.0 397.6,700.0 398.3,700.0 399.0,700.0 399.8,700.0 400.5,700.0 401.3,700.0 402.0,700.0 402.7,700.0 403.5,700.0 404.2,700.0 405.0,700.0 405.7,700.0 406.4,702.1 407.2,714.2 407.9,735.2 408.7,792.5 409.4,926.8 410.1,994.3 410.9,1007.0 411.6,1015.8 412.4,1020.7 413.1,1021.0 413.8,1006.2 414.6,981.5 415.3,958.0 416.1,946.8 416.8,961.3 417.5,1001.1 418.3,1054.7 419.0,1110.9 419.8,1158.3 420.5,1185.5 421.2,1190.9 422.0,1194.6 422.7,1197.7 423.5,1200.2 424.2,1202.1 424.9,1203.3 425.7,1203.9 426.4,1204.0 427.2,1204.0 427.9,1204.0 428.6,1204.0 429.4,1203.9 430.1,1203.9 430.9,1203.2 431.6,1201.7 432.3,1199.6 433.1,1197.3 433.8,1194.9 434.6,1192.8 435.3,1191.1 436.0,1190.1 436.8,1190.2 437.5,1191.5 438.3,1193.9 439.0,1196.8 439.7,1200.1 440.5,1203.3 441.2,1206.2 442.0,1208.3 442.7,1209.3 443.4,1209.2 444.2,1208.4 444.9,1207.2 445.7,1205.8 446.4,1204.4 447.1,1203.3 447.9,1202.7 448.6,1202.2 449.4,1201.6 450.1,1201.2 450.8,1200.8 451.6,1200.5 452.3,1200.3 453.1,1200.2 453.8,1201.2 454.5,1203.3 455.3,1205.8 456.0,1207.8 456.8,1208.5 457.5,1207.5 458.2,1205.4 459.0,1202.8 459.7,1200.5 460.5,1199.2 461.2,1198.6 461.9,1198.0 462.7,1197.5 463.4,1197.0 464.2,1196.6 464.9,1196.2 465.6,1196.0 466.4,1195.8 467.1,1195.6 467.9,1195.6 468.6,1197.4 469.3,1201.1 470.1,1205.5 470.8,1209.0 471.6,1210.3 472.3,1209.4 473.0,1207.4 473.8,1205.2 474.5,1203.5 475.3,1203.0 476.0,1204.2 476.7,1206.4 477.5,1208.8 478.2,1210.7 479.0,1211.2 479.7,1210.9 480.4,1210.4 481.2,1209.6 481.9,1208.6 482.7,1207.5 483.4,1206.4 484.1,1205.4 484.9,1204.4 485.6,1203.7 486.4,1203.2 487.1,1203.0 487.8,1203.4 488.6,1204.5 489.3,1205.9 490.1,1207.6 490.8,1209.1 491.5,1210.4 492.3,1211.1 493.0,1211.2 493.8,1210.8 494.5,1210.3 495.2,1209.5 496.0,1208.5 496.7,1207.4 497.5,1205.7 498.2,1201.6 498.9,1195.7 499.7,1188.9 500.4,1182.0 501.2,1175.8 501.9,1171.2 502.6,1169.0 503.4,1170.6 504.1,1176.6 504.9,1185.2 505.6,1194.5 506.3,1202.4 507.1,1207.1 507.8,1207.5 508.6,1207.2 509.3,1206.7 510.0,1205.9 510.8,1205.1 511.5,1204.1 512.3,1203.1 513.0,1202.1 513.7,1201.2 514.5,1200.4 515.2,1199.8 516.0,1199.4 516.7,1199.3 517.4,1200.1 518.2,1201.8 518.9,1203.7 519.7,1205.2 520.4,1205.7 521.1,1205.0 521.9,1203.3 522.6,1201.0 523.4,1198.2 524.1,1195.2 524.8,1192.2 525.6,1189.5 526.3,1187.3 527.1,1185.9 527.8,1185.5 528.5,1187.5 529.3,1191.8 530.0,1197.1 530.8,1202.5 531.5,1206.7 532.2,1208.5 533.0,1208.4 533.7,1208.0 534.5,1207.3 535.2,1206.5 535.9,1205.5 536.7,1204.4 537.4,1203.2 538.2,1202.0 538.9,1200.7 539.6,1198.9 540.4,1196.5 541.1,1193.8 541.9,1191.2 542.6,1188.9 543.3,1187.2 544.1,1186.4 544.8,1187.6 545.6,1191.3 546.3,1196.2 547.0,1200.8 547.8,1203.7 548.5,1204.8 549.3,1205.7 550.0,1206.6 550.7,1207.3 551.5,1208.0 552.2,1208.6 553.0,1209.2 553.7,1209.6 554.4,1210.1 555.2,1210.5 555.9,1210.8 556.7,1211.2 557.4,1211.5 558.1,1211.8 558.9,1212.1 559.6,1212.5 560.4,1212.8 561.1,1213.1 561.8,1213.4 562.6,1213.7 563.3,1213.9 564.1,1214.0 564.8,1214.0 565.5,1213.6 566.3,1212.9 567.0,1211.8 567.8,1210.5 568.5,1209.0 569.2,1207.4 570.0,1205.6 570.7,1203.9 571.5,1202.1 572.2,1200.4 572.9,1198.2 573.7,1195.5 574.4,1192.5 575.2,1189.3 575.9,1186.1 576.6,1183.0 577.4,1180.1 578.1,1177.7 578.9,1175.9 579.6,1174.7 580.3,1174.4 581.1,1176.0 581.8,1179.3 582.6,1183.8 583.3,1188.9 584.0,1194.1 584.8,1198.8 585.5,1202.5 586.3,1204.6 587.0,1204.5 587.7,1202.8 588.5,1200.0 589.2,1196.5 590.0,1192.9 590.7,1189.7 591.4,1187.3 592.2,1186.4 592.9,1186.5 593.7,1186.8 594.4,1187.3 595.1,1187.9 595.9,1188.7 596.6,1189.5 597.4,1190.3 598.1,1191.2 598.8,1192.1 599.6,1192.9 600.3,1193.8 601.1,1195.0 601.8,1196.3 602.5,1197.7 603.3,1199.0 604.0,1200.3 604.8,1201.4 605.5,1202.3 606.2,1202.8 607.0,1203.0 607.7,1202.6 608.5,1201.8 609.2,1200.7 609.9,1199.6 610.7,1198.8 611.4,1198.4 612.2,1198.4 612.9,1198.5 613.6,1198.5 614.4,1198.6 615.1,1198.8 615.9,1198.9 616.6,1199.1 617.3,1199.3 618.1,1199.6 618.8,1199.8 619.6,1200.1 620.3,1200.5 621.0,1200.8 621.8,1201.2 622.5,1202.5 623.3,1204.7 624.0,1207.3 624.7,1210.2 625.5,1212.8 626.2,1214.8 627.0,1215.8 627.7,1215.2 628.4,1212.1 629.2,1207.2 629.9,1201.4 630.7,1195.6 631.4,1190.6 632.1,1187.3 632.9,1186.4 633.6,1187.2 634.4,1188.8 635.1,1191.0 635.8,1193.5 636.6,1196.3 637.3,1199.0 638.1,1201.4 638.8,1203.3 639.5,1204.5 640.3,1204.8 641.0,1204.7 641.8,1204.4 642.5,1204.0 643.2,1203.6 644.0,1203.0 644.7,1202.5 645.5,1201.9 646.2,1201.4 646.9,1201.0 647.7,1200.6 648.4,1200.3 649.2,1200.2 649.9,1200.4 650.6,1200.9 651.4,1201.8 652.1,1203.0 652.9,1204.2 653.6,1205.4 654.3,1206.6 655.1,1207.6 655.8,1208.2 656.6,1208.5 657.3,1208.2 658.0,1207.2 658.8,1205.7 659.5,1203.8 660.3,1201.7 661.0,1199.5 661.7,1197.3 662.5,1195.3 663.2,1193.7 664.0,1192.5 664.7,1191.9 665.4,1192.4 666.2,1194.2 666.9,1197.0 667.7,1200.1 668.4,1203.0 669.1,1205.1 669.9,1206.1 670.6,1207.0 671.4,1207.7 672.1,1208.4 672.8,1209.0 673.6,1209.5 674.3,1209.9 675.1,1210.2 675.8,1210.3 676.5,1209.5 677.3,1205.9 678.0,1200.0 678.8,1192.6 679.5,1184.2 680.2,1175.5 681.0,1165.7 681.7,1152.7 682.5,1137.5 683.2,1121.2 683.9,1105.1 684.7,1090.1 685.4,1076.5 686.2,1061.4 686.9,1045.9 687.6,1032.1 688.4,1021.7 689.1,1016.6 689.9,1022.8 690.6,1037.9 691.3,1036.4 692.1,1002.4 692.8,962.6 693.6,934.8 694.3,909.6 695.0,885.0 695.8,858.9 696.5,829.0 697.3,789.8 698.0,752.5 698.7,726.5 699.5,705.5 700.2,700.0 701.0,700.0 701.7,700.0 702.4,704.7 703.2,727.9 703.9,762.6 704.7,824.7 705.4,887.9 706.1,944.8 706.9,1004.9 707.6,1057.8 708.4,1093.2 709.1,1100.1 709.8,1065.8 710.6,1005.6 711.3,941.8 712.1,896.7 712.8,889.3 713.5,902.8 714.3,925.9 715.0,953.1 715.8,978.6 716.5,996.7 717.2,1001.2 718.0,977.6 718.7,940.8 719.5,917.2 720.2,920.0 720.9,930.7 721.7,942.3 722.4,948.5 723.2,937.5 723.9,906.6 724.6,868.6 725.4,836.6 726.1,823.6 726.9,848.3 727.6,905.2 728.3,972.7 729.1,1047.5 729.8,1140.3 730.6,1173.3 731.3,1165.0 732.0,1149.8 732.8,1133.5 733.5,1122.1 734.3,1119.7 735.0,1119.2 735.7,1119.0 736.5,1118.7 737.2,1118.3 738.0,1113.5 738.7,1093.9 739.4,1066.8 740.2,1041.7 740.9,1027.7 741.7,1027.4 742.4,1028.5 743.1,1030.9 743.9,1049.5 744.6,1078.6 745.4,1100.8 746.1,1102.1 746.8,1090.8 747.6,1072.0 748.3,1049.3 749.1,1026.2 749.8,1006.3 750.5,993.0 751.3,991.3 752.0,1020.1 752.8,1047.6 753.5,1036.6 754.2,999.0 755.0,953.3 755.7,915.2 756.5,877.9 757.2,841.1 757.9,808.5 758.7,779.9 759.4,753.6 760.2,753.1 760.9,803.9 761.6,777.1 762.4,752.7 763.1,760.9 763.9,779.5 764.6,780.6 765.3,754.8 766.1,740.0 766.8,740.0 767.6,740.0 768.3,740.0 769.0,740.0 769.8,740.0 770.5,740.0 771.3,740.0 772.0,740.0 772.7,740.0 773.5,740.0 774.2,740.0 775.0,740.0 775.7,740.0 776.4,743.1 777.2,757.5 777.9,773.8 778.7,780.5 779.4,756.0 780.1,740.0 780.9,740.0 781.6,740.0 782.4,740.0 783.1,740.0 783.8,740.0 784.6,740.0 785.3,740.0 786.1,740.1 786.8,760.8 787.5,803.3 788.3,848.7 789.0,877.8 789.8,877.0 790.5,859.8 791.2,837.1 792.0,818.4 792.7,806.7 793.5,796.0 794.2,789.0 794.9,795.4 795.7,843.6 796.4,888.6 797.2,910.4 797.9,927.2 798.6,942.8 799.4,961.6 800.1,985.5 800.9,1011.5 801.6,1035.7 802.3,1057.9 803.1,1078.6 803.8,1083.9 804.6,1078.4 805.3,1068.9 806.0,1059.2 806.8,1052.9 807.5,1054.9 808.3,1069.7 809.0,1088.4 809.7,1101.0 810.5,1099.0 811.2,1086.6 812.0,1073.8 812.7,1070.5 813.4,1080.2 814.2,1096.8 814.9,1113.5 815.7,1128.5 816.4,1144.9 817.1,1159.7 817.9,1169.8 818.6,1176.2 819.4,1182.1 820.1,1187.4 820.8,1191.8 821.6,1195.3 822.3,1197.6 823.1,1198.6 823.8,1197.1 824.5,1192.0 825.3,1184.4 826.0,1175.7 826.8,1167.2 827.5,1160.3 828.2,1156.2 829.0,1156.4 829.7,1160.8 830.5,1168.4 831.2,1177.4 831.9,1186.6 832.7,1194.4 833.4,1199.4 834.2,1200.2 834.9,1198.2 835.6,1194.4 836.4,1189.1 837.1,1183.1 837.9,1176.8 838.6,1170.7 839.3,1165.5 840.1,1161.5 840.8,1159.5 841.6,1159.5 842.3,1160.8 843.0,1162.9 843.8,1165.6 844.5,1168.7 845.3,1172.0 846.0,1175.8 846.7,1181.6 847.5,1188.6 848.2,1196.0 849.0,1202.8 849.7,1208.0 850.4,1210.8 851.2,1209.6 851.9,1203.2 852.7,1193.5 853.4,1182.7 854.1,1172.8 854.9,1166.2 855.6,1164.7 856.4,1166.9 857.1,1171.1 857.8,1176.4 858.6,1182.0 859.3,1186.9 860.1,1190.3 860.8,1191.4 861.5,1190.8 862.3,1189.4 863.0,1187.3 863.8,1184.8 864.5,1182.1 865.2,1179.4 866.0,1176.8 866.7,1174.6 867.5,1172.8 868.2,1171.0 868.9,1169.2 869.7,1167.5 870.4,1165.9 871.2,1164.6 871.9,1163.5 872.6,1162.8 873.4,1162.2 874.1,1161.7 874.9,1161.3 875.6,1161.1 876.3,1161.4 877.1,1166.7 877.8,1176.1 878.6,1186.8 879.3,1196.0 880.0,1202.1 880.8,1207.4 881.5,1209.3 882.3,1209.1 883.0,1208.8 883.7,1208.2 884.5,1207.6 885.2,1206.8 886.0,1206.0 886.7,1205.3 887.4,1204.5 888.2,1203.9 888.9,1203.3 889.7,1202.9 890.4,1202.4 891.1,1201.9 891.9,1201.3 892.6,1200.5 893.4,1199.5 894.1,1197.8 894.8,1189.2 895.6,1174.5 896.3,1157.9 897.1,1143.6 897.8,1134.9 898.5,1127.7 899.3,1122.2 900.0,1120.0 900.8,1125.1 901.5,1137.4 902.2,1153.4 903.0,1169.8 903.7,1182.9 904.5,1189.4 905.2,1189.3 905.9,1188.1 906.7,1186.3 907.4,1184.0 908.2,1181.3 908.9,1174.8 909.6,1164.6 910.4,1152.6 911.1,1140.9 911.9,1131.3 912.6,1125.9 913.3,1128.0 914.1,1141.4 914.8,1160.3 915.6,1177.9 916.3,1187.6 917.0,1189.0 917.8,1189.9 918.5,1190.6 919.3,1191.1 920.0,1191.6 920.7,1192.0 921.5,1192.6 922.2,1193.2 923.0,1194.0 923.7,1194.9 924.4,1195.9 925.2,1196.8 925.9,1197.5 926.7,1198.2 927.4,1198.5 928.1,1198.4 928.9,1195.3 929.6,1190.1 930.4,1184.8 931.1,1181.2 931.8,1180.4 932.6,1180.1 933.3,1179.7 934.1,1179.5 934.8,1179.3 935.5,1179.1 936.3,1179.0 937.0,1179.0 937.8,1179.2 938.5,1179.6 939.2,1180.2 940.0,1180.9 940.7,1181.7 941.5,1182.5 942.2,1183.2 942.9,1183.7 943.7,1184.0 944.4,1183.9 945.2,1183.6 945.9,1183.1 946.6,1182.4 947.4,1181.7 948.1,1180.9 948.9,1180.2 949.6,1179.6 950.3,1179.2 951.1,1179.0 951.8,1179.4 952.6,1180.6 953.3,1182.0 954.0,1183.2 954.8,1184.0 955.5,1182.0 956.3,1173.5 957.0,1160.3 957.7,1145.0 958.5,1129.8 959.2,1117.2 960.0,1109.5 960.7,1105.6 961.4,1102.1 962.2,1099.3 962.9,1097.4 963.7,1097.0 964.4,1118.4 965.1,1145.7 965.9,1146.0 966.6,1133.5 967.4,1114.0 968.1,1091.0 968.8,1068.1 969.6,1046.1 970.3,1021.3 971.1,992.2 971.8,955.1 972.5,901.8 973.3,843.6 974.0,794.2 974.8,764.1 975.5,741.8 976.2,715.1 977.0,700.0 977.7,712.9 978.5,743.2 979.2,819.7 979.9,934.0 980.7,994.9 981.4,991.4 982.2,983.8 982.9,977.8 983.6,981.7 984.4,1006.6 985.1,1045.4 985.9,1089.3 986.6,1129.5 987.3,1157.2 988.1,1163.7 988.8,1144.6 989.6,1108.5 990.3,1066.1 991.0,1027.9 991.8,1004.8 992.5,1003.4 993.3,1010.3 994.0,1020.0 994.7,1036.2 995.5,1061.7 996.2,1091.4 997.0,1120.0 997.7,1142.4 998.4,1153.5 999.2,1150.2 999.9,1137.0 1000.7,1118.8 1001.4,1099.9 1002.1,1085.1 1002.9,1078.9 1003.6,1081.5 1004.4,1088.5 1005.1,1098.3 1005.8,1109.0 1006.6,1119.1 1007.3,1126.9 1008.1,1130.6 1008.8,1127.6 1009.5,1116.9 1010.3,1101.2 1011.0,1083.1 1011.8,1065.4 1012.5,1051.0 1013.2,1042.5 1014.0,1042.7 1014.7,1050.9 1015.5,1062.9 1016.2,1074.2 1016.9,1080.5 1017.7,1079.3 1018.4,1074.3 1019.2,1066.8 1019.9,1058.1 1020.6,1049.6 1021.4,1042.7 1022.1,1038.5 1022.9,1039.4 1023.6,1050.8 1024.3,1071.4 1025.1,1098.4 1025.8,1129.3" fill="none" stroke="#d83c3c" stroke-width="1.0" stroke-linejoin="round" stroke-opacity="0.8"/>
<polyline points="287.3,752.0 288.0,758.4 288.8,760.0 289.5,755.2 290.3,737.1 291.0,715.6 291.7,701.3 292.5,700.0 293.2,700.0 294.0,700.0 294.7,700.0 295.4,700.0 296.2,700.0 296.9,700.0 297.7,705.8 298.4,721.8 299.1,741.1 299.9,758.5 300.6,777.0 301.4,800.2 302.1,832.6 302.8,912.1 303.6,1020.8 304.3,1105.3 305.1,1131.8 305.8,1131.8 306.5,1112.0 307.3,1087.1 308.0,1071.5 308.8,1074.1 309.5,1086.4 310.2,1102.4 311.0,1116.6 311.7,1123.5 312.5,1121.1 313.2,1115.0 313.9,1109.8 314.7,1109.6 315.4,1113.8 316.2,1121.1 316.9,1130.3 317.6,1140.4 318.4,1150.4 319.1,1159.0 319.9,1165.2 320.6,1168.0 321.3,1158.5 322.1,1132.5 322.8,1105.0 323.6,1091.4 324.3,1094.4 325.0,1102.4 325.8,1113.1 326.5,1123.8 327.3,1132.3 328.0,1140.3 328.7,1148.8 329.5,1157.3 330.2,1165.4 331.0,1172.6 331.7,1178.3 332.4,1182.2 333.2,1183.6 333.9,1183.5 334.7,1183.4 335.4,1183.2 336.1,1182.8 336.9,1182.4 337.6,1176.0 338.4,1161.4 339.1,1140.9 339.8,1116.7 340.6,1090.9 341.3,1065.9 342.1,1043.9 342.8,1027.0 343.5,1017.6 344.3,1017.7 345.0,1026.0 345.8,1039.2 346.5,1053.8 347.2,1066.3 348.0,1073.2 348.7,1064.4 349.5,1025.5 350.2,967.9 350.9,904.3 351.7,847.4 352.4,809.9 353.2,803.5 353.9,821.7 354.6,856.2 355.4,900.8 356.1,949.7 356.9,996.8 357.6,1036.1 358.3,1061.7 359.1,1067.8 359.8,1058.4 360.6,1040.1 361.3,1017.5 362.0,995.3 362.8,977.9 363.5,970.1 364.3,975.7 365.0,992.2 365.7,1014.3 366.5,1036.5 367.2,1053.3 368.0,1059.2 368.7,1042.0 369.4,1009.0 370.2,979.7 370.9,972.1 371.7,977.1 372.4,987.2 373.1,1001.1 373.9,1017.4 374.6,1035.0 375.4,1052.4 376.1,1068.5 376.8,1087.2 377.6,1109.6 378.3,1133.4 379.1,1156.4 379.8,1176.1 380.5,1190.3 381.3,1196.7 382.0,1183.3 382.8,1137.5 383.5,1068.9 384.2,987.3 385.0,902.7 385.7,825.1 386.5,764.5 387.2,724.8 387.9,700.2 388.7,700.0 389.4,700.0 390.2,700.0 390.9,700.0 391.6,700.0 392.4,700.0 393.1,700.0 393.9,700.0 394.6,700.0 395.3,700.0 396.1,700.2 396.8,719.0 397.6,747.0 398.3,772.8 399.0,800.0 399.8,828.3 400.5,862.0 401.3,895.5 402.0,922.2 402.7,935.5 403.5,930.1 404.2,912.0 405.0,891.2 405.7,860.2 406.4,824.8 407.2,793.5 407.9,775.3 408.7,785.4 409.4,842.2 410.1,921.6 410.9,996.2 411.6,1038.6 412.4,1042.1 413.1,1042.9 413.8,1043.6 414.6,1044.9 415.3,1061.6 416.1,1096.4 416.8,1129.5 417.5,1146.7 418.3,1160.1 419.0,1171.4 419.8,1180.3 420.5,1186.7 421.2,1190.8 422.0,1194.4 422.7,1197.5 423.5,1200.1 424.2,1202.3 424.9,1204.0 425.7,1205.3 426.4,1206.2 427.2,1206.9 427.9,1207.6 428.6,1208.1 429.4,1208.4 430.1,1208.5 430.9,1207.4 431.6,1205.0 432.3,1201.8 433.1,1198.1 433.8,1194.3 434.6,1190.8 435.3,1188.1 436.0,1186.6 436.8,1186.7 437.5,1188.5 438.3,1191.6 439.0,1195.4 439.7,1199.6 440.5,1203.4 441.2,1206.6 442.0,1208.4 442.7,1209.4 443.4,1210.2 444.2,1211.0 444.9,1211.6 445.7,1212.0 446.4,1212.2 447.1,1212.1 447.9,1211.7 448.6,1211.0 449.4,1210.2 450.1,1209.2 450.8,1208.2 451.6,1207.3 452.3,1206.6 453.1,1206.0 453.8,1205.7 454.5,1206.1 455.3,1207.6 456.0,1209.5 456.8,1211.3 457.5,1212.2 458.2,1212.1 459.0,1211.7 459.7,1211.1 460.5,1210.3 461.2,1209.4 461.9,1208.5 462.7,1207.5 463.4,1206.5 464.2,1205.6 464.9,1204.9 465.6,1204.3 466.4,1204.0 467.1,1204.0 467.9,1204.9 468.6,1206.7 469.3,1208.9 470.1,1211.0 470.8,1212.6 471.6,1213.1 472.3,1213.1 473.0,1213.1 473.8,1213.1 474.5,1213.1 475.3,1213.1 476.0,1213.1 476.7,1213.1 477.5,1213.1 478.2,1213.1 479.0,1213.1 479.7,1213.1 480.4,1213.0 481.2,1212.6 481.9,1212.0 482.7,1211.3 483.4,1210.7 484.1,1210.2 484.9,1210.0 485.6,1210.1 486.4,1210.3 487.1,1210.6 487.8,1211.1 488.6,1211.6 489.3,1212.1 490.1,1212.7 490.8,1213.2 491.5,1213.8 492.3,1214.2 493.0,1214.6 493.8,1214.8 494.5,1214.9 495.2,1214.6 496.0,1213.9 496.7,1212.8 497.5,1211.4 498.2,1209.8 498.9,1208.1 499.7,1205.6 500.4,1201.7 501.2,1197.1 501.9,1192.5 502.6,1188.8 503.4,1186.6 504.1,1186.9 504.9,1189.8 505.6,1194.5 506.3,1200.3 507.1,1206.1 507.8,1211.3 508.6,1214.8 509.3,1215.9 510.0,1215.3 510.8,1214.1 511.5,1212.4 512.3,1210.6 513.0,1208.9 513.7,1207.5 514.5,1206.7 515.2,1206.7 516.0,1207.4 516.7,1208.6 517.4,1210.0 518.2,1211.6 518.9,1213.2 519.7,1214.5 520.4,1215.5 521.1,1215.9 521.9,1215.4 522.6,1213.9 523.4,1211.6 524.1,1208.9 524.8,1206.1 525.6,1203.3 526.3,1200.9 527.1,1199.2 527.8,1198.3 528.5,1198.0 529.3,1197.6 530.0,1197.3 530.8,1197.1 531.5,1196.9 532.2,1196.7 533.0,1196.6 533.7,1196.5 534.5,1196.6 535.2,1197.4 535.9,1198.6 536.7,1200.1 537.4,1201.5 538.2,1202.6 538.9,1203.1 539.6,1203.3 540.4,1203.5 541.1,1203.7 541.9,1203.8 542.6,1203.9 543.3,1204.0 544.1,1204.1 544.8,1204.2 545.6,1204.3 546.3,1204.4 547.0,1204.6 547.8,1204.8 548.5,1205.0 549.3,1205.3 550.0,1205.6 550.7,1205.9 551.5,1206.2 552.2,1206.6 553.0,1207.0 553.7,1207.5 554.4,1208.0 555.2,1208.4 555.9,1208.9 556.7,1209.5 557.4,1210.0 558.1,1210.5 558.9,1211.1 559.6,1211.8 560.4,1212.7 561.1,1213.7 561.8,1214.5 562.6,1214.9 563.3,1214.7 564.1,1213.8 564.8,1212.4 565.5,1210.6 566.3,1208.5 567.0,1206.1 567.8,1203.5 568.5,1200.9 569.2,1198.4 570.0,1196.0 570.7,1193.8 571.5,1191.9 572.2,1190.4 572.9,1189.5 573.7,1189.1 574.4,1189.1 575.2,1189.2 575.9,1189.3 576.6,1189.4 577.4,1189.5 578.1,1189.7 578.9,1189.9 579.6,1190.1 580.3,1190.6 581.1,1191.4 581.8,1192.4 582.6,1193.6 583.3,1194.8 584.0,1196.0 584.8,1197.1 585.5,1198.0 586.3,1198.8 587.0,1199.2 587.7,1199.2 588.5,1198.1 589.2,1196.0 590.0,1193.2 590.7,1190.3 591.4,1187.6 592.2,1185.6 592.9,1184.5 593.7,1185.0 594.4,1186.8 595.1,1189.8 595.9,1193.4 596.6,1197.3 597.4,1201.2 598.1,1204.6 598.8,1207.2 599.6,1208.6 600.3,1209.4 601.1,1210.1 601.8,1210.7 602.5,1211.3 603.3,1211.9 604.0,1212.3 604.8,1212.6 605.5,1212.9 606.2,1213.1 607.0,1213.1 607.7,1213.1 608.5,1213.1 609.2,1213.0 609.9,1212.9 610.7,1212.8 611.4,1212.7 612.2,1212.6 612.9,1212.5 613.6,1212.3 614.4,1212.2 615.1,1211.9 615.9,1211.3 616.6,1210.5 617.3,1209.6 618.1,1208.5 618.8,1207.5 619.6,1206.4 620.3,1205.4 621.0,1204.5 621.8,1203.8 622.5,1203.3 623.3,1203.0 624.0,1203.1 624.7,1203.6 625.5,1204.5 626.2,1205.6 627.0,1206.8 627.7,1208.0 628.4,1209.2 629.2,1210.2 629.9,1210.9 630.7,1211.2 631.4,1211.1 632.1,1211.0 632.9,1210.6 633.6,1210.2 634.4,1209.7 635.1,1209.1 635.8,1208.4 636.6,1207.7 637.3,1207.0 638.1,1206.3 638.8,1205.7 639.5,1205.0 640.3,1204.4 641.0,1203.9 641.8,1203.5 642.5,1203.2 643.2,1203.0 644.0,1203.1 644.7,1204.1 645.5,1206.0 646.2,1208.4 646.9,1211.0 647.7,1213.3 648.4,1215.0 649.2,1215.9 649.9,1215.8 650.6,1215.5 651.4,1215.1 652.1,1214.5 652.9,1213.9 653.6,1213.2 654.3,1212.6 655.1,1212.0 655.8,1211.5 656.6,1211.2 657.3,1211.0 658.0,1210.8 658.8,1210.6 659.5,1210.5 660.3,1210.3 661.0,1210.1 661.7,1210.0 662.5,1209.9 663.2,1209.8 664.0,1209.6 664.7,1209.6 665.4,1209.5 666.2,1209.4 666.9,1209.4 667.7,1209.4 668.4,1209.5 669.1,1209.8 669.9,1210.3 670.6,1211.0 671.4,1211.7 672.1,1212.4 672.8,1213.1 673.6,1213.8 674.3,1214.3 675.1,1214.7 675.8,1214.9 676.5,1214.1 677.3,1210.6 678.0,1205.1 678.8,1198.4 679.5,1191.2 680.2,1184.3 681.0,1178.5 681.7,1174.6 682.5,1173.0 683.2,1171.8 683.9,1170.8 684.7,1169.9 685.4,1169.1 686.2,1168.6 686.9,1168.3 687.6,1168.4 688.4,1173.6 689.1,1183.3 689.9,1193.7 690.6,1200.9 691.3,1202.1 692.1,1201.6 692.8,1200.7 693.6,1199.2 694.3,1197.3 695.0,1194.8 695.8,1159.9 696.5,1084.1 697.3,991.5 698.0,906.4 698.7,840.6 699.5,779.4 700.2,731.9 701.0,700.1 701.7,700.0 702.4,700.0 703.2,765.6 703.9,903.7 704.7,1000.0 705.4,1085.4 706.1,1157.1 706.9,1196.1 707.6,1198.3 708.4,1197.1 709.1,1195.2 709.8,1192.8 710.6,1190.1 711.3,1187.4 712.1,1184.8 712.8,1182.7 713.5,1181.3 714.3,1180.7 715.0,1181.7 715.8,1184.0 716.5,1186.9 717.2,1189.2 718.0,1189.9 718.7,1181.9 719.5,1163.9 720.2,1140.4 720.9,1115.9 721.7,1093.5 722.4,1065.5 723.2,1034.9 723.9,1008.2 724.6,991.8 725.4,990.5 726.1,996.9 726.9,1008.5 727.6,1023.7 728.3,1051.6 729.1,1115.4 729.8,1178.1 730.6,1198.6 731.3,1198.0 732.0,1196.8 732.8,1194.9 733.5,1192.5 734.3,1189.6 735.0,1186.3 735.7,1182.8 736.5,1179.0 737.2,1175.1 738.0,1170.4 738.7,1162.7 739.4,1153.0 740.2,1142.6 740.9,1132.6 741.7,1124.4 742.4,1119.3 743.1,1118.7 743.9,1124.9 744.6,1136.1 745.4,1149.1 746.1,1160.9 746.8,1169.7 747.6,1179.1 748.3,1187.9 749.1,1194.9 749.8,1198.4 750.5,1197.8 751.3,1194.5 752.0,1189.2 752.8,1182.4 753.5,1174.8 754.2,1167.0 755.0,1159.5 755.7,1152.6 756.5,1143.7 757.2,1135.7 757.9,1132.5 758.7,1133.3 759.4,1134.9 760.2,1136.4 760.9,1137.1 761.6,1137.3 762.4,1137.4 763.1,1137.5 763.9,1137.7 764.6,1138.9 765.3,1147.4 766.1,1161.5 766.8,1177.3 767.6,1191.3 768.3,1199.5 769.0,1200.3 769.8,1199.6 770.5,1198.5 771.3,1196.9 772.0,1195.1 772.7,1192.9 773.5,1190.7 774.2,1188.4 775.0,1186.1 775.7,1183.4 776.4,1179.7 777.2,1175.5 777.9,1171.0 778.7,1166.7 779.4,1162.8 780.1,1159.8 780.9,1157.9 781.6,1157.7 782.4,1161.6 783.1,1168.7 783.8,1177.0 784.6,1184.5 785.3,1189.3 786.1,1189.7 786.8,1187.8 787.5,1184.6 788.3,1180.7 789.0,1176.6 789.8,1173.1 790.5,1170.7 791.2,1170.1 792.0,1171.8 792.7,1175.6 793.5,1180.5 794.2,1185.7 794.9,1190.4 795.7,1193.7 796.4,1195.0 797.2,1194.5 797.9,1193.1 798.6,1191.1 799.4,1188.6 800.1,1185.7 800.9,1182.7 801.6,1179.6 802.3,1176.7 803.1,1174.1 803.8,1172.0 804.6,1170.6 805.3,1170.0 806.0,1171.2 806.8,1175.0 807.5,1180.2 808.3,1185.6 809.0,1190.2 809.7,1192.8 810.5,1192.0 811.2,1187.3 812.0,1181.0 812.7,1175.1 813.4,1171.9 814.2,1172.6 814.9,1175.5 815.7,1179.7 816.4,1184.1 817.1,1187.8 817.9,1190.0 818.6,1190.8 819.4,1191.6 820.1,1192.2 820.8,1192.7 821.6,1193.1 822.3,1193.5 823.1,1193.9 823.8,1194.3 824.5,1194.7 825.3,1195.2 826.0,1195.6 826.8,1196.0 827.5,1196.4 828.2,1196.8 829.0,1197.3 829.7,1197.9 830.5,1198.7 831.2,1200.6 831.9,1203.5 832.7,1206.6 833.4,1208.8 834.2,1209.2 834.9,1208.6 835.6,1207.3 836.4,1205.7 837.1,1203.9 837.9,1202.3 838.6,1201.1 839.3,1200.4 840.1,1200.1 840.8,1199.8 841.6,1199.5 842.3,1199.3 843.0,1199.0 843.8,1198.9 844.5,1198.7 845.3,1198.7 846.0,1198.6 846.7,1198.6 847.5,1199.0 848.2,1199.8 849.0,1200.7 849.7,1201.8 850.4,1203.0 851.2,1204.1 851.9,1205.0 852.7,1205.7 853.4,1206.0 854.1,1205.9 854.9,1205.7 855.6,1205.2 856.4,1204.6 857.1,1203.8 857.8,1202.9 858.6,1201.9 859.3,1200.8 860.1,1199.6 860.8,1198.4 861.5,1196.8 862.3,1194.6 863.0,1192.0 863.8,1189.3 864.5,1186.7 865.2,1184.2 866.0,1181.4 866.7,1178.2 867.5,1175.0 868.2,1172.0 868.9,1169.4 869.7,1167.5 870.4,1166.5 871.2,1167.5 871.9,1172.9 872.6,1180.4 873.4,1187.3 874.1,1191.2 874.9,1191.4 875.6,1191.2 876.3,1190.9 877.1,1190.6 877.8,1190.4 878.6,1190.1 879.3,1190.0 880.0,1190.5 880.8,1193.0 881.5,1196.7 882.3,1200.1 883.0,1202.0 883.7,1200.2 884.5,1192.7 885.2,1182.3 886.0,1172.2 886.7,1165.1 887.4,1161.6 888.2,1158.2 888.9,1155.3 889.7,1152.7 890.4,1150.7 891.1,1149.3 891.9,1148.6 892.6,1149.1 893.4,1151.0 894.1,1153.5 894.8,1155.8 895.6,1157.0 896.3,1147.5 897.1,1121.9 897.8,1099.3 898.5,1096.4 899.3,1106.6 900.0,1121.4 900.8,1134.4 901.5,1140.5 902.2,1144.1 903.0,1147.2 903.7,1150.6 904.5,1155.2 905.2,1160.6 905.9,1165.9 906.7,1170.6 907.4,1174.0 908.2,1175.4 908.9,1175.2 909.6,1174.5 910.4,1173.5 911.1,1172.4 911.9,1171.3 912.6,1170.5 913.3,1170.0 914.1,1170.3 914.8,1171.9 915.6,1174.4 916.3,1177.4 917.0,1180.3 917.8,1182.7 918.5,1184.1 919.3,1183.9 920.0,1180.6 920.7,1175.0 921.5,1168.5 922.2,1162.1 923.0,1156.3 923.7,1149.0 924.4,1141.7 925.2,1135.7 925.9,1132.6 926.7,1135.2 927.4,1145.4 928.1,1159.7 928.9,1174.5 929.6,1186.3 930.4,1191.4 931.1,1185.8 931.8,1171.1 932.6,1152.6 933.3,1135.8 934.1,1126.1 934.8,1127.9 935.5,1139.1 936.3,1155.3 937.0,1172.5 937.8,1186.4 938.5,1193.1 939.2,1190.4 940.0,1181.9 940.7,1170.5 941.5,1158.9 942.2,1150.1 942.9,1146.8 943.7,1149.9 944.4,1157.5 945.2,1167.7 945.9,1178.9 946.6,1189.2 947.4,1196.9 948.1,1200.4 948.9,1196.9 949.6,1186.7 950.3,1173.8 951.1,1161.8 951.8,1154.6 952.6,1156.0 953.3,1166.0 954.0,1179.9 954.8,1192.8 955.5,1200.1 956.3,1195.5 957.0,1176.7 957.7,1149.1 958.5,1118.0 959.2,1089.1 960.0,1067.7 960.7,1059.3 961.4,1059.7 962.2,1061.0 962.9,1063.2 963.7,1066.6 964.4,1115.0 965.1,1174.4 965.9,1178.2 966.6,1166.1 967.4,1146.5 968.1,1122.4 968.8,1097.0 969.6,1062.8 970.3,1012.3 971.1,954.4 971.8,898.2 972.5,852.5 973.3,826.5 974.0,828.1 974.8,853.2 975.5,890.8 976.2,931.0 977.0,992.8 977.7,1061.4 978.5,1100.9 979.2,1097.6 979.9,1082.3 980.7,1060.8 981.4,1037.8 982.2,1018.3 982.9,1006.9 983.6,1007.8 984.4,1018.3 985.1,1033.2 985.9,1047.3 986.6,1055.3 987.3,1053.7 988.1,1046.2 988.8,1036.5 989.6,1027.6 990.3,1017.0 991.0,1005.3 991.8,995.2 992.5,988.8 993.3,989.8 994.0,1003.3 994.7,1025.6 995.5,1051.2 996.2,1074.7 997.0,1090.9 997.7,1094.7 998.4,1088.7 999.2,1076.9 999.9,1061.8 1000.7,1045.8 1001.4,1031.2 1002.1,1020.6 1002.9,1016.4 1003.6,1027.2 1004.4,1055.5 1005.1,1093.2 1005.8,1132.0 1006.6,1163.6 1007.3,1180.0 1008.1,1173.9 1008.8,1148.6 1009.5,1113.1 1010.3,1076.2 1011.0,1047.0 1011.8,1034.3 1012.5,1035.0 1013.2,1037.3 1014.0,1040.9 1014.7,1045.7 1015.5,1051.3 1016.2,1057.7 1016.9,1064.5 1017.7,1074.9 1018.4,1093.0 1019.2,1113.3 1019.9,1130.1 1020.6,1137.9 1021.4,1129.9 1022.1,1110.2 1022.9,1090.0 1023.6,1080.7 1024.3,1084.5 1025.1,1095.8 1025.8,1114.5" fill="none" stroke="#3030c8" stroke-width="1.0" stroke-linejoin="round" stroke-opacity="0.8"/>
</g>
<path d="M287.0 1225.0V1216.2M287.0 749.5V758.3M434.4 1225.0V1216.2M434.4 749.5V758.3M581.8 1225.0V1216.2M581.8 749.5V758.3M729.2 1225.0V1216.2M729.2 749.5V758.3M876.7 1225.0V1216.2M876.7 749.5V758.3M1024.1 1225.0V1216.2M1024.1 749.5V758.3M1171.5 1225.0V1216.2M1171.5 749.5V758.3M287.0 1225.0H295.8M1171.5 1225.0H1162.7M287.0 1129.9H295.8M1171.5 1129.9H1162.7M287.0 1034.8H295.8M1171.5 1034.8H1162.7M287.0 939.7H295.8M1171.5 939.7H1162.7M287.0 844.6H295.8M1171.5 844.6H1162.7M287.0 749.5H295.8M1171.5 749.5H1162.7" stroke="#606060" stroke-width="1" fill="none"/>
<rect x="287.0" y="749.5" width="884.5" height="475.5" fill="none" stroke="#606060" stroke-width="1"/>
<text x="287.0" y="1275.3" font-size="41" text-anchor="middle" fill="#262626" font-family="'Liberation Sans', Arial, Helvetica, sans-serif" >0</text>
<text x="434.4" y="1275.3" font-size="41" text-anchor="middle" fill="#262626" font-family="'Liberation Sans', Arial, Helvetica, sans-serif" >200</text>
<text x="581.8" y="1275.3" font-size="41" text-anchor="middle" fill="#262626" font-family="'Liberation Sans', Arial, Helvetica, sans-serif" >400</text>
<text x="729.2" y="1275.3" font-size="41" text-anchor="middle" fill="#262626" font-family="'Liberation Sans', Arial, Helvetica, sans-serif" >600</text>
<text x="876.7" y="1275.3" font-size="41" text-anchor="middle" fill="#262626" font-family="'Liberation Sans', Arial, Helvetica, sans-serif" >800</text>
<text x="1024.1" y="1275.3" font-size="41" text-anchor="middle" fill="#262626" font-family="'Liberation Sans', Arial, Helvetica, sans-serif" >1000</text>
<text x="1171.5" y="1275.3" font-size="41" text-anchor="middle" fill="#262626" font-family="'Liberation Sans', Arial, Helvetica, sans-serif" >1200</text>
<text x="274.7" y="1240.3" font-size="41" text-anchor="end" fill="#262626" font-family="'Liberation Sans', Arial, Helvetica, sans-serif" >0</text>
<text x="274.7" y="1145.2" font-size="41" text-anchor="end" fill="#262626" font-family="'Liberation Sans', Arial, Helvetica, sans-serif" >0.002</text>
<text x="274.7" y="1050.1" font-size="41" text-anchor="end" fill="#262626" font-family="'Liberation Sans', Arial, Helvetica, sans-serif" >0.004</text>
<text x="274.7" y="955.0" font-size="41" text-anchor="end" fill="#262626" font-family="'Liberation Sans', Arial, Helvetica, sans-serif" >0.006</text>
<text x="274.7" y="859.9" font-size="41" text-anchor="end" fill="#262626" font-family="'Liberation Sans', Arial, Helvetica, sans-serif" >0.008</text>
<text x="274.7" y="764.8" font-size="41" text-anchor="end" fill="#262626" font-family="'Liberation Sans', Arial, Helvetica, sans-serif" >0.01</text>
<text x="729.2" y="1328.7" font-size="45" text-anchor="middle" fill="#262626" font-family="'Liberation Sans', Arial, Helvetica, sans-serif" >Data series</text>
<text x="729.2" y="731.7" font-size="55" text-anchor="middle" fill="#000" font-family="'Liberation Sans', Arial, Helvetica, sans-serif" >Smoothed SR amplitude</text>
<text transform="translate(158.2,987) rotate(-90)" font-size="45" text-anchor="middle" fill="#262626" font-family="'Liberation Sans', Arial, Helvetica, sans-serif">mv/m/Hz<tspan font-size="36" dy="-22">1/2</tspan></text>
<rect x="1045.7" y="760.9" width="114.8" height="90.0" fill="#fff" stroke="#606060" stroke-width="1"/>
<path d="M1049.9 783.5h41.2" stroke="#d04444" stroke-width="1.0"/>
<path d="M1049.9 827.9h41.2" stroke="#3a3aa8" stroke-width="1.0"/>
<text x="1094.7" y="798.1" font-size="37" text-anchor="start" fill="#000" font-family="'Liberation Sans', Arial, Helvetica, sans-serif" >1st</text>
<text x="1094.1" y="841.5" font-size="37" text-anchor="start" fill="#000" font-family="'Liberation Sans', Arial, Helvetica, sans-serif" >2nd</text>
<g>
<polyline points="1451.5,1060.0 1452.2,1069.2 1453.0,1075.0 1453.7,1078.2 1454.5,1079.6 1455.2,1079.7 1455.9,1073.1 1456.7,1059.8 1457.4,1044.7 1458.2,1032.8 1458.9,1028.8 1459.6,1032.1 1460.4,1039.5 1461.1,1048.9 1461.9,1058.5 1462.6,1066.4 1463.3,1070.8 1464.1,1070.6 1464.8,1067.8 1465.6,1063.5 1466.3,1058.6 1467.0,1054.1 1467.8,1051.0 1468.5,1050.0 1469.3,1051.8 1470.0,1055.5 1470.7,1060.2 1471.5,1065.0 1472.2,1069.2 1473.0,1073.8 1473.7,1078.9 1474.4,1084.1 1475.2,1088.7 1475.9,1092.1 1476.7,1093.9 1477.4,1092.2 1478.1,1084.7 1478.9,1074.2 1479.6,1064.1 1480.4,1057.7 1481.1,1056.4 1481.8,1055.7 1482.6,1055.1 1483.3,1054.6 1484.1,1054.2 1484.8,1054.0 1485.5,1054.2 1486.3,1059.7 1487.0,1070.8 1487.8,1084.2 1488.5,1096.7 1489.2,1105.0 1490.0,1105.9 1490.7,1097.8 1491.5,1083.6 1492.2,1067.0 1492.9,1051.6 1493.7,1041.1 1494.4,1038.8 1495.2,1041.6 1495.9,1047.3 1496.6,1055.1 1497.4,1064.4 1498.1,1074.3 1498.9,1084.2 1499.6,1093.2 1500.3,1100.7 1501.1,1105.9 1501.8,1108.1 1502.6,1106.4 1503.3,1101.2 1504.0,1093.7 1504.8,1085.0 1505.5,1076.4 1506.3,1069.0 1507.0,1064.1 1507.7,1062.8 1508.5,1066.0 1509.2,1071.5 1510.0,1076.1 1510.7,1076.7 1511.4,1073.6 1512.2,1067.9 1512.9,1060.6 1513.7,1052.8 1514.4,1045.5 1515.1,1039.1 1515.9,1032.1 1516.6,1024.6 1517.4,1017.1 1518.1,1010.0 1518.8,1003.6 1519.6,998.3 1520.3,994.5 1521.1,991.6 1521.8,988.9 1522.5,986.5 1523.3,984.4 1524.0,982.9 1524.8,982.0 1525.5,983.1 1526.2,994.6 1527.0,1014.9 1527.7,1039.7 1528.5,1064.7 1529.2,1085.5 1529.9,1097.9 1530.7,1098.6 1531.4,1091.9 1532.2,1081.4 1532.9,1069.9 1533.6,1060.4 1534.4,1055.7 1535.1,1058.2 1535.9,1066.4 1536.6,1077.5 1537.3,1088.9 1538.1,1097.6 1538.8,1101.0 1539.6,1095.1 1540.3,1080.6 1541.0,1061.4 1541.8,1041.4 1542.5,1024.4 1543.3,1014.4 1544.0,1014.7 1544.7,1024.5 1545.5,1040.6 1546.2,1059.6 1547.0,1078.3 1547.7,1093.4 1548.4,1101.7 1549.2,1101.4 1549.9,1096.2 1550.7,1087.9 1551.4,1077.5 1552.1,1066.2 1552.9,1055.2 1553.6,1045.7 1554.4,1038.8 1555.1,1035.8 1555.8,1038.6 1556.6,1047.3 1557.3,1060.0 1558.1,1074.4 1558.8,1088.3 1559.5,1099.6 1560.3,1106.0 1561.0,1106.3 1561.8,1103.7 1562.5,1099.1 1563.2,1093.1 1564.0,1086.3 1564.7,1079.1 1565.5,1072.0 1566.2,1065.7 1566.9,1060.2 1567.7,1054.2 1568.4,1047.8 1569.2,1041.5 1569.9,1035.7 1570.6,1031.1 1571.4,1028.2 1572.1,1027.4 1572.9,1033.3 1573.6,1045.3 1574.3,1059.7 1575.1,1072.9 1575.8,1081.3 1576.6,1081.8 1577.3,1076.4 1578.0,1068.4 1578.8,1060.6 1579.5,1055.1 1580.3,1049.6 1581.0,1044.1 1581.7,1038.9 1582.5,1034.3 1583.2,1030.6 1584.0,1028.2 1584.7,1027.3 1585.4,1029.6 1586.2,1035.7 1586.9,1044.8 1587.7,1055.7 1588.4,1067.7 1589.1,1079.7 1589.9,1090.6 1590.6,1099.7 1591.4,1105.8 1592.1,1108.1 1592.8,1105.5 1593.6,1099.1 1594.3,1090.7 1595.1,1082.3 1595.8,1075.8 1596.5,1072.2 1597.3,1069.2 1598.0,1066.2 1598.8,1063.5 1599.5,1061.1 1600.2,1058.9 1601.0,1057.1 1601.7,1055.7 1602.5,1054.7 1603.2,1054.2 1603.9,1054.5 1604.7,1056.3 1605.4,1059.4 1606.2,1063.4 1606.9,1067.9 1607.6,1072.7 1608.4,1077.3 1609.1,1081.3 1609.9,1084.5 1610.6,1086.4 1611.3,1086.7 1612.1,1085.6 1612.8,1083.4 1613.6,1080.2 1614.3,1076.5 1615.0,1072.4 1615.8,1068.2 1616.5,1064.2 1617.3,1060.6 1618.0,1057.6 1618.7,1055.3 1619.5,1052.8 1620.2,1050.6 1621.0,1049.0 1621.7,1048.5 1622.4,1050.2 1623.2,1054.1 1623.9,1059.8 1624.7,1066.6 1625.4,1074.1 1626.1,1081.8 1626.9,1089.0 1627.6,1095.4 1628.4,1100.3 1629.1,1103.3 1629.8,1103.5 1630.6,1097.4 1631.3,1086.0 1632.1,1071.4 1632.8,1055.7 1633.5,1041.2 1634.3,1030.1 1635.0,1024.6 1635.8,1026.5 1636.5,1034.5 1637.2,1046.8 1638.0,1061.3 1638.7,1076.0 1639.5,1088.8 1640.2,1097.8 1640.9,1101.0 1641.7,1096.4 1642.4,1087.9 1643.2,1081.7 1643.9,1081.5 1644.6,1082.8 1645.4,1084.2 1646.1,1085.0 1646.9,1082.6 1647.6,1076.5 1648.3,1070.1 1649.1,1067.0 1649.8,1070.8 1650.6,1080.2 1651.3,1091.5 1652.0,1101.1 1652.8,1105.3 1653.5,1100.6 1654.3,1088.4 1655.0,1071.8 1655.7,1054.3 1656.5,1039.3 1657.2,1030.1 1658.0,1028.8 1658.7,1029.6 1659.4,1030.9 1660.2,1033.5 1660.9,1044.1 1661.7,1060.7 1662.4,1079.1 1663.1,1094.8 1663.9,1103.4 1664.6,1103.1 1665.4,1100.3 1666.1,1097.0 1666.8,1095.1 1667.6,1095.5 1668.3,1097.4 1669.1,1100.3 1669.8,1103.7 1670.5,1107.1 1671.3,1110.0 1672.0,1111.9 1672.8,1112.3 1673.5,1110.3 1674.2,1106.1 1675.0,1100.6 1675.7,1094.6 1676.5,1088.9 1677.2,1084.2 1677.9,1081.6 1678.7,1081.8 1679.4,1085.4 1680.2,1089.2 1680.9,1089.8 1681.6,1088.3 1682.4,1086.0 1683.1,1083.8 1683.9,1082.6 1684.6,1083.2 1685.3,1085.1 1686.1,1087.1 1686.8,1088.0 1687.6,1086.6 1688.3,1083.3 1689.0,1079.1 1689.8,1075.0 1690.5,1072.0 1691.3,1071.6 1692.0,1078.1 1692.7,1080.0 1693.5,1066.0 1694.2,1041.1 1695.0,1012.6 1695.7,987.6 1696.4,973.2 1697.2,972.2 1697.9,973.5 1698.7,975.8 1699.4,979.0 1700.1,992.5 1700.9,1029.8 1701.6,1069.7 1702.4,1089.6 1703.1,1088.7 1703.8,1086.0 1704.6,1082.5 1705.3,1078.9 1706.1,1076.4 1706.8,1075.6 1707.5,1078.4 1708.3,1082.1 1709.0,1082.4 1709.8,1077.2 1710.5,1068.4 1711.2,1058.3 1712.0,1049.0 1712.7,1042.8 1713.5,1042.0 1714.2,1047.5 1714.9,1057.6 1715.7,1069.8 1716.4,1081.7 1717.2,1091.0 1717.9,1095.3 1718.6,1093.8 1719.4,1088.8 1720.1,1082.2 1720.9,1075.5 1721.6,1070.3 1722.3,1068.4 1723.1,1068.7 1723.8,1069.3 1724.6,1069.8 1725.3,1069.9 1726.0,1067.3 1726.8,1062.9 1727.5,1058.5 1728.3,1055.8 1729.0,1055.7 1729.7,1055.9 1730.5,1056.3 1731.2,1056.9 1732.0,1059.8 1732.7,1066.3 1733.4,1073.7 1734.2,1078.9 1734.9,1080.1 1735.7,1080.5 1736.4,1080.9 1737.1,1083.1 1737.9,1088.5 1738.6,1095.8 1739.4,1103.4 1740.1,1110.1 1740.8,1114.4 1741.6,1115.0 1742.3,1112.7 1743.1,1108.6 1743.8,1103.4 1744.5,1098.0 1745.3,1093.0 1746.0,1089.4 1746.8,1087.6 1747.5,1086.1 1748.2,1084.8 1749.0,1083.7 1749.7,1082.7 1750.5,1081.9 1751.2,1081.4 1751.9,1081.2 1752.7,1083.1 1753.4,1089.4 1754.2,1097.5 1754.9,1104.7 1755.6,1108.1 1756.4,1106.5 1757.1,1101.9 1757.9,1095.3 1758.6,1087.7 1759.3,1080.2 1760.1,1073.8 1760.8,1069.5 1761.6,1068.7 1762.3,1075.5 1763.0,1087.9 1763.8,1100.7 1764.5,1108.8 1765.3,1108.9 1766.0,1105.4 1766.7,1099.9 1767.5,1093.7 1768.2,1088.0 1769.0,1083.9 1769.7,1082.7 1770.4,1086.3 1771.2,1093.7 1771.9,1102.1 1772.7,1108.7 1773.4,1111.0 1774.1,1110.1 1774.9,1107.9 1775.6,1104.7 1776.4,1101.0 1777.1,1096.8 1777.8,1092.4 1778.6,1085.1 1779.3,1075.5 1780.1,1065.8 1780.8,1057.7 1781.5,1053.2 1782.3,1053.8 1783.0,1058.7 1783.8,1066.3 1784.5,1074.9 1785.2,1082.9 1786.0,1088.9 1786.7,1091.1 1787.5,1086.8 1788.2,1076.0 1788.9,1061.5 1789.7,1045.9 1790.4,1031.8 1791.2,1021.9 1791.9,1018.9 1792.6,1025.7 1793.4,1040.5 1794.1,1059.9 1794.9,1080.4 1795.6,1098.4 1796.3,1110.6 1797.1,1113.7 1797.8,1112.1 1798.6,1108.7 1799.3,1103.8 1800.0,1097.8 1800.8,1091.1 1801.5,1084.0 1802.3,1077.0 1803.0,1070.4 1803.7,1064.6 1804.5,1059.9 1805.2,1056.8 1806.0,1055.6 1806.7,1057.0 1807.4,1061.1 1808.2,1067.2 1808.9,1074.9 1809.7,1083.4 1810.4,1092.1 1811.1,1100.5 1811.9,1107.8 1812.6,1113.6 1813.4,1117.2 1814.1,1117.9 1814.8,1115.4 1815.6,1110.4 1816.3,1103.4 1817.1,1095.1 1817.8,1086.2 1818.5,1077.3 1819.3,1069.2 1820.0,1062.4 1820.8,1057.7 1821.5,1055.6 1822.2,1058.7 1823.0,1068.4 1823.7,1082.0 1824.5,1096.6 1825.2,1109.5 1825.9,1117.9 1826.7,1119.4 1827.4,1117.8 1828.2,1114.6 1828.9,1110.3 1829.6,1105.0 1830.4,1099.2 1831.1,1093.1 1831.9,1087.0 1832.6,1081.3 1833.3,1076.2 1834.1,1072.2 1834.8,1069.0 1835.6,1065.7 1836.3,1062.5 1837.0,1059.7 1837.8,1057.4 1838.5,1056.0 1839.3,1055.8 1840.0,1061.8 1840.7,1073.4 1841.5,1087.1 1842.2,1099.5 1843.0,1107.1 1843.7,1107.5 1844.4,1104.0 1845.2,1098.0 1845.9,1090.6 1846.7,1083.0 1847.4,1076.0 1848.1,1070.8 1848.9,1068.5 1849.6,1071.0 1850.4,1079.5 1851.1,1091.0 1851.8,1102.7 1852.6,1111.7 1853.3,1115.2 1854.1,1112.1 1854.8,1104.1 1855.5,1092.6 1856.3,1079.2 1857.0,1065.2 1857.8,1052.2 1858.5,1041.5 1859.2,1034.7 1860.0,1033.3 1860.7,1040.2 1861.5,1053.1 1862.2,1067.9 1862.9,1080.4 1863.7,1086.7 1864.4,1084.3 1865.2,1076.4 1865.9,1066.4 1866.6,1057.5 1867.4,1052.9 1868.1,1054.4 1868.9,1059.8 1869.6,1067.5 1870.3,1075.9 1871.1,1083.4 1871.8,1088.7 1872.6,1093.0 1873.3,1097.1 1874.0,1100.3 1874.8,1102.2 1875.5,1101.1 1876.3,1093.8 1877.0,1082.5 1877.7,1070.2 1878.5,1059.9 1879.2,1054.4 1880.0,1055.2 1880.7,1058.7 1881.4,1062.8 1882.2,1065.6 1882.9,1064.7 1883.7,1057.5 1884.4,1046.8 1885.1,1035.6 1885.9,1027.1 1886.6,1024.7 1887.4,1035.3 1888.1,1053.7 1888.8,1069.2 1889.6,1072.1 1890.3,1065.9 1891.1,1056.5 1891.8,1048.3 1892.5,1045.7 1893.3,1047.1 1894.0,1050.1 1894.8,1054.4 1895.5,1059.7 1896.2,1065.7 1897.0,1071.9 1897.7,1078.2 1898.5,1084.0 1899.2,1089.2 1899.9,1093.3 1900.7,1096.5 1901.4,1099.8 1902.2,1103.1 1902.9,1106.3 1903.6,1109.1 1904.4,1111.6 1905.1,1113.5 1905.9,1114.8 1906.6,1115.2 1907.3,1113.7 1908.1,1109.7 1908.8,1103.9 1909.6,1097.1 1910.3,1090.2 1911.0,1083.8 1911.8,1078.8 1912.5,1075.9 1913.3,1076.0 1914.0,1079.4 1914.7,1085.2 1915.5,1092.4 1916.2,1099.9 1917.0,1106.7 1917.7,1111.7 1918.4,1113.8 1919.2,1113.2 1919.9,1111.1 1920.7,1108.0 1921.4,1103.9 1922.1,1099.2 1922.9,1094.0 1923.6,1088.0 1924.4,1077.2 1925.1,1063.0 1925.8,1048.4 1926.6,1036.2 1927.3,1029.3 1928.1,1031.0 1928.8,1042.8 1929.5,1061.3 1930.3,1082.9 1931.0,1103.8 1931.8,1120.4 1932.5,1128.9 1933.2,1125.7 1934.0,1112.7 1934.7,1098.4 1935.5,1091.1 1936.2,1094.7 1936.9,1104.0 1937.7,1115.3 1938.4,1125.0 1939.2,1129.4 1939.9,1125.6 1940.6,1115.3 1941.4,1101.9 1942.1,1088.6 1942.9,1078.7 1943.6,1075.5 1944.3,1076.3 1945.1,1078.1 1945.8,1080.7 1946.6,1083.9 1947.3,1087.5 1948.0,1091.4 1948.8,1095.2 1949.5,1098.8 1950.3,1102.4 1951.0,1107.0 1951.7,1112.1 1952.5,1117.2 1953.2,1122.0 1954.0,1125.9 1954.7,1128.5 1955.4,1129.4 1956.2,1127.8 1956.9,1123.9 1957.7,1118.4 1958.4,1112.1 1959.1,1105.6 1959.9,1099.8 1960.6,1095.5 1961.4,1092.9 1962.1,1090.8 1962.8,1088.7 1963.6,1086.8 1964.3,1085.2 1965.1,1084.0 1965.8,1083.1 1966.5,1082.6 1967.3,1082.7 1968.0,1083.5 1968.8,1084.7 1969.5,1086.3 1970.2,1088.1 1971.0,1089.9 1971.7,1092.6 1972.5,1096.7 1973.2,1101.7 1973.9,1107.0 1974.7,1112.2 1975.4,1116.8 1976.2,1120.2 1976.9,1122.1 1977.6,1121.7 1978.4,1118.6 1979.1,1113.4 1979.9,1106.7 1980.6,1099.3 1981.3,1091.9 1982.1,1085.1 1982.8,1079.3 1983.6,1072.9 1984.3,1065.9 1985.0,1058.8 1985.8,1052.0 1986.5,1045.9 1987.3,1040.9 1988.0,1037.4 1988.7,1035.9 1989.5,1038.8 1990.2,1049.5 1991.0,1064.9 1991.7,1081.8 1992.4,1097.0 1993.2,1107.2 1993.9,1109.2 1994.7,1103.4 1995.4,1092.7 1996.1,1080.0 1996.9,1068.2 1997.6,1060.2 1998.4,1057.9 1999.1,1056.8 1999.8,1055.9 2000.6,1055.3 2001.3,1055.0 2002.1,1058.9 2002.8,1067.0 2003.5,1065.4 2004.3,1061.2 2005.0,1055.6 2005.8,1049.6 2006.5,1044.3 2007.2,1038.9 2008.0,1032.7 2008.7,1026.5 2009.5,1021.4 2010.2,1018.0 2010.9,1017.3 2011.7,1017.4 2012.4,1017.5 2013.2,1017.7 2013.9,1017.9 2014.6,1018.2 2015.4,1018.6 2016.1,1019.7 2016.9,1026.8 2017.6,1038.7 2018.3,1052.8 2019.1,1066.5 2019.8,1077.2 2020.6,1082.4 2021.3,1078.7 2022.0,1065.9 2022.8,1049.1 2023.5,1033.0 2024.3,1022.9 2025.0,1022.9 2025.7,1030.5 2026.5,1040.4 2027.2,1048.0 2028.0,1054.0 2028.7,1060.1 2029.4,1066.0 2030.2,1071.3 2030.9,1075.8 2031.7,1079.1 2032.4,1080.9 2033.1,1080.4 2033.9,1075.5 2034.6,1071.2 2035.4,1073.2 2036.1,1081.7 2036.8,1093.7 2037.6,1106.5 2038.3,1117.3 2039.1,1123.3 2039.8,1122.0 2040.5,1114.3 2041.3,1101.9 2042.0,1086.6 2042.8,1070.5 2043.5,1055.2 2044.2,1042.7 2045.0,1034.8 2045.7,1033.0 2046.5,1033.3 2047.2,1033.6 2047.9,1033.9 2048.7,1033.6 2049.4,1029.2 2050.2,1022.3 2050.9,1015.6 2051.6,1011.8 2052.4,1011.8 2053.1,1012.4 2053.9,1013.2 2054.6,1014.5 2055.3,1016.0 2056.1,1017.8 2056.8,1019.8 2057.6,1024.7 2058.3,1035.3 2059.0,1050.0 2059.8,1066.8 2060.5,1084.0 2061.3,1099.5 2062.0,1111.7 2062.7,1118.6 2063.5,1117.6 2064.2,1104.7 2065.0,1082.6 2065.7,1055.4 2066.4,1026.9 2067.2,1001.0 2067.9,981.5 2068.7,972.3 2069.4,975.2 2070.1,986.5 2070.9,1003.9 2071.6,1024.9 2072.4,1047.4 2073.1,1068.8 2073.8,1086.9 2074.6,1099.4 2075.3,1103.9 2076.1,1099.1 2076.8,1087.1 2077.5,1070.4 2078.3,1051.6 2079.0,1033.2 2079.8,1017.9 2080.5,1008.1 2081.2,1006.2 2082.0,1009.7 2082.7,1016.0 2083.5,1023.7 2084.2,1031.2 2084.9,1037.2 2085.7,1040.8 2086.4,1044.3 2087.2,1047.5 2087.9,1050.1 2088.6,1052.0 2089.4,1052.8 2090.1,1051.1 2090.9,1045.5 2091.6,1037.1 2092.3,1027.4 2093.1,1017.6 2093.8,1009.2 2094.6,1003.5 2095.3,1001.7 2096.0,1004.2 2096.8,1009.9 2097.5,1018.0 2098.3,1027.9 2099.0,1038.8 2099.7,1049.8 2100.5,1060.2 2101.2,1069.3 2102.0,1076.6 2102.7,1084.1 2103.4,1089.2 2104.2,1088.4 2104.9,1082.2 2105.7,1073.1 2106.4,1063.6 2107.1,1056.0 2107.9,1052.8 2108.6,1054.6 2109.4,1059.5 2110.1,1066.7 2110.8,1075.5 2111.6,1085.0 2112.3,1094.3 2113.1,1102.6 2113.8,1109.2 2114.5,1113.1 2115.3,1113.4 2116.0,1109.4 2116.8,1102.1 2117.5,1093.3 2118.2,1084.7 2119.0,1077.8 2119.7,1074.3 2120.5,1075.3 2121.2,1079.6 2121.9,1085.1 2122.7,1090.1 2123.4,1092.5 2124.2,1090.9 2124.9,1086.1 2125.6,1079.0 2126.4,1070.9 2127.1,1062.8 2127.9,1055.9 2128.6,1051.3 2129.3,1050.2 2130.1,1057.1 2130.8,1069.8 2131.6,1083.0 2132.3,1091.6 2133.0,1090.3 2133.8,1079.6 2134.5,1065.7 2135.3,1055.0 2136.0,1053.5 2136.7,1060.4 2137.5,1071.0 2138.2,1081.1 2139.0,1086.6 2139.7,1085.3 2140.4,1080.0 2141.2,1072.5 2141.9,1064.3 2142.7,1056.8 2143.4,1051.5 2144.1,1050.2 2144.9,1056.3 2145.6,1066.6 2146.4,1075.1 2147.1,1075.7 2147.8,1064.4 2148.6,1044.3 2149.3,1019.8 2150.1,995.1 2150.8,974.5 2151.5,962.3 2152.3,962.2 2153.0,973.2 2153.8,991.8 2154.5,1014.8 2155.2,1038.9 2156.0,1060.9 2156.7,1077.4 2157.5,1085.2 2158.2,1084.0 2158.9,1079.2 2159.7,1072.3 2160.4,1064.9 2161.2,1058.2 2161.9,1053.8 2162.6,1053.4 2163.4,1061.4 2164.1,1075.8 2164.9,1092.4 2165.6,1107.4 2166.3,1116.7 2167.1,1116.2 2167.8,1104.6 2168.6,1086.3 2169.3,1066.3 2170.0,1049.8 2170.8,1041.7 2171.5,1043.5 2172.3,1050.2 2173.0,1060.3 2173.7,1072.1 2174.5,1084.3 2175.2,1095.4 2176.0,1103.7 2176.7,1107.9 2177.4,1107.6 2178.2,1105.4 2178.9,1102.2 2179.7,1098.4 2180.4,1094.6 2181.1,1091.4 2181.9,1089.3 2182.6,1088.0 2183.4,1087.1 2184.1,1086.2 2184.8,1085.2 2185.6,1083.7 2186.3,1081.3 2187.1,1075.4 2187.8,1066.4 2188.5,1054.8 2189.3,1041.3 2190.0,1026.7" fill="none" stroke="#d83c3c" stroke-width="1.0" stroke-linejoin="round" stroke-opacity="0.8"/>
<polyline points="1452.0,749.4 1452.7,762.8 1453.5,796.1 1454.2,830.9 1455.0,860.8 1455.7,888.7 1456.4,910.2 1457.2,927.6 1457.9,944.1 1458.7,964.5 1459.4,982.9 1460.1,986.7 1460.9,974.8 1461.6,956.8 1462.4,942.3 1463.1,939.9 1463.8,945.1 1464.6,952.2 1465.3,957.3 1466.1,953.6 1466.8,934.9 1467.5,912.7 1468.3,899.9 1469.0,903.1 1469.8,913.7 1470.5,926.0 1471.2,941.7 1472.0,962.4 1472.7,982.9 1473.5,998.2 1474.2,1003.1 1474.9,999.0 1475.7,990.4 1476.4,979.8 1477.2,969.7 1477.9,962.7 1478.6,957.2 1479.4,951.9 1480.1,947.5 1480.9,944.5 1481.6,943.6 1482.3,944.5 1483.1,945.7 1483.8,945.5 1484.6,942.1 1485.3,939.0 1486.0,936.8 1486.8,934.7 1487.5,931.7 1488.3,925.3 1489.0,912.2 1489.7,895.7 1490.5,879.4 1491.2,866.7 1492.0,861.3 1492.7,869.0 1493.4,890.1 1494.2,918.8 1494.9,949.3 1495.7,975.6 1496.4,992.0 1497.1,993.1 1497.9,980.9 1498.6,960.9 1499.4,937.9 1500.1,917.0 1500.8,903.2 1501.6,901.4 1502.3,911.0 1503.1,926.2 1503.8,940.9 1504.5,949.0 1505.3,945.3 1506.0,934.0 1506.8,925.1 1507.5,925.8 1508.2,932.4 1509.0,942.6 1509.7,954.4 1510.5,965.7 1511.2,974.5 1511.9,978.8 1512.7,977.1 1513.4,970.4 1514.2,960.5 1514.9,949.4 1515.6,939.0 1516.4,930.9 1517.1,923.7 1517.9,916.9 1518.6,910.4 1519.3,903.9 1520.1,896.4 1520.8,889.6 1521.6,885.7 1522.3,890.7 1523.0,907.9 1523.8,916.5 1524.5,904.8 1525.3,886.0 1526.0,876.1 1526.7,880.1 1527.5,889.9 1528.2,902.6 1529.0,914.9 1529.7,923.9 1530.4,926.2 1531.2,915.5 1531.9,902.2 1532.7,901.7 1533.4,916.7 1534.1,939.2 1534.9,961.2 1535.6,974.9 1536.4,971.8 1537.1,951.9 1537.8,927.7 1538.6,912.1 1539.3,912.8 1540.1,919.8 1540.8,928.9 1541.5,936.5 1542.3,939.2 1543.0,930.8 1543.8,914.5 1544.5,898.3 1545.2,890.3 1546.0,898.3 1546.7,919.5 1547.5,944.3 1548.2,963.2 1548.9,967.4 1549.7,962.7 1550.4,953.8 1551.2,942.3 1551.9,930.0 1552.6,918.4 1553.4,909.3 1554.1,904.3 1554.9,906.4 1555.6,919.0 1556.3,938.4 1557.1,960.5 1557.8,981.0 1558.6,995.6 1559.3,1000.2 1560.0,996.4 1560.8,987.7 1561.5,975.7 1562.3,961.8 1563.0,947.4 1563.7,934.2 1564.5,923.6 1565.2,917.1 1566.0,916.2 1566.7,921.4 1567.4,931.6 1568.2,945.5 1568.9,962.0 1569.7,979.8 1570.4,997.6 1571.1,1014.3 1571.9,1028.6 1572.6,1039.2 1573.4,1045.0 1574.1,1043.4 1574.8,1028.6 1575.6,1004.1 1576.3,974.6 1577.1,944.5 1577.8,918.5 1578.5,901.3 1579.3,897.0 1580.0,901.1 1580.8,906.7 1581.5,908.9 1582.2,902.5 1583.0,888.6 1583.7,870.9 1584.5,852.7 1585.2,837.7 1585.9,829.4 1586.7,831.8 1587.4,846.5 1588.2,869.2 1588.9,895.0 1589.6,919.1 1590.4,943.3 1591.1,969.5 1591.9,980.5 1592.6,978.3 1593.3,972.8 1594.1,964.9 1594.8,955.4 1595.6,945.2 1596.3,935.0 1597.0,922.5 1597.8,905.5 1598.5,888.5 1599.3,876.3 1600.0,873.9 1600.7,887.3 1601.5,912.0 1602.2,940.7 1603.0,966.4 1603.7,981.7 1604.4,982.5 1605.2,977.8 1605.9,970.1 1606.7,960.2 1607.4,949.5 1608.1,938.9 1608.9,929.5 1609.6,922.5 1610.4,918.9 1611.1,919.8 1611.8,925.2 1612.6,934.3 1613.3,945.8 1614.1,958.9 1614.8,972.5 1615.5,985.5 1616.3,996.9 1617.0,1005.7 1617.8,1010.8 1618.5,1010.7 1619.2,1001.0 1620.0,984.1 1620.7,964.0 1621.5,944.5 1622.2,929.5 1622.9,922.9 1623.7,925.8 1624.4,934.6 1625.2,948.0 1625.9,964.7 1626.6,983.4 1627.4,1002.7 1628.1,1021.4 1628.9,1038.0 1629.6,1051.4 1630.3,1060.0 1631.1,1062.5 1631.8,1043.5 1632.6,1005.3 1633.3,964.0 1634.0,935.8 1634.8,933.0 1635.5,941.6 1636.3,955.5 1637.0,971.1 1637.7,985.0 1638.5,993.9 1639.2,997.6 1640.0,1000.8 1640.7,1003.4 1641.4,1005.2 1642.2,1006.0 1642.9,1005.7 1643.7,1004.8 1644.4,1003.3 1645.1,1001.4 1645.9,997.5 1646.6,989.0 1647.4,978.6 1648.1,969.3 1648.8,963.9 1649.6,965.4 1650.3,974.9 1651.1,989.2 1651.8,1004.8 1652.5,1018.3 1653.3,1026.4 1654.0,1026.0 1654.8,1017.9 1655.5,1004.0 1656.2,986.4 1657.0,966.8 1657.7,947.2 1658.5,929.4 1659.2,915.4 1659.9,906.9 1660.7,905.8 1661.4,911.2 1662.2,921.5 1662.9,935.4 1663.6,951.5 1664.4,968.5 1665.1,984.9 1665.9,999.5 1666.6,1010.8 1667.3,1017.5 1668.1,1018.5 1668.8,1014.7 1669.6,1008.0 1670.3,1000.1 1671.0,991.1 1671.8,977.0 1672.5,959.7 1673.3,941.8 1674.0,925.7 1674.7,914.1 1675.5,909.5 1676.2,916.7 1677.0,935.6 1677.7,961.1 1678.4,987.9 1679.2,1011.1 1679.9,1025.2 1680.7,1025.8 1681.4,1014.6 1682.1,995.7 1682.9,973.2 1683.6,950.7 1684.4,932.4 1685.1,922.0 1685.8,924.9 1686.6,936.9 1687.3,931.5 1688.1,907.4 1688.8,879.9 1689.5,864.4 1690.3,862.4 1691.0,861.0 1691.8,860.2 1692.5,859.9 1693.2,867.0 1694.0,885.5 1694.7,911.5 1695.5,940.9 1696.2,969.8 1696.9,994.0 1697.7,1009.5 1698.4,1012.6 1699.2,1004.6 1699.9,992.6 1700.6,983.3 1701.4,983.1 1702.1,991.1 1702.9,1003.7 1703.6,1017.3 1704.3,1028.7 1705.1,1034.3 1705.8,1030.4 1706.6,1017.3 1707.3,998.4 1708.0,977.1 1708.8,956.9 1709.5,941.4 1710.3,933.9 1711.0,941.4 1711.7,959.5 1712.5,965.9 1713.2,957.5 1714.0,942.3 1714.7,925.6 1715.4,913.0 1716.2,909.8 1716.9,916.7 1717.7,930.3 1718.4,947.4 1719.1,964.6 1719.9,978.9 1720.6,986.9 1721.4,983.9 1722.1,967.5 1722.8,948.0 1723.6,936.8 1724.3,937.8 1725.1,941.8 1725.8,946.7 1726.5,954.8 1727.3,966.6 1728.0,980.2 1728.8,993.6 1729.5,1005.0 1730.2,1012.6 1731.0,1013.6 1731.7,994.8 1732.5,964.8 1733.2,940.8 1733.9,938.2 1734.7,951.5 1735.4,973.1 1736.2,997.4 1736.9,1018.5 1737.6,1030.5 1738.4,1031.5 1739.1,1031.2 1739.9,1030.7 1740.6,1030.0 1741.3,1029.1 1742.1,1028.0 1742.8,1020.3 1743.6,1003.4 1744.3,984.5 1745.0,970.6 1745.8,968.4 1746.5,974.8 1747.3,982.3 1748.0,984.0 1748.7,971.5 1749.5,948.2 1750.2,920.7 1751.0,895.6 1751.7,879.5 1752.4,877.5 1753.2,882.7 1753.9,892.1 1754.7,904.1 1755.4,917.5 1756.1,930.8 1756.9,942.5 1757.6,951.4 1758.4,958.2 1759.1,962.0 1759.8,958.2 1760.6,949.4 1761.3,939.3 1762.1,931.5 1762.8,929.9 1763.5,939.4 1764.3,954.9 1765.0,969.2 1765.8,974.8 1766.5,971.6 1767.2,965.0 1768.0,957.9 1768.7,952.9 1769.5,954.2 1770.2,968.1 1770.9,986.2 1771.7,998.1 1772.4,996.9 1773.2,988.1 1773.9,974.4 1774.6,958.2 1775.4,941.5 1776.1,926.9 1776.9,916.4 1777.6,912.4 1778.3,920.8 1779.1,941.5 1779.8,967.8 1780.6,993.1 1781.3,1010.5 1782.0,1013.9 1782.8,1004.9 1783.5,988.4 1784.3,968.1 1785.0,947.9 1785.7,931.5 1786.5,922.8 1787.2,924.1 1788.0,931.6 1788.7,942.4 1789.4,954.2 1790.2,964.1 1790.9,970.8 1791.7,976.4 1792.4,981.4 1793.1,986.4 1793.9,991.5 1794.6,997.2 1795.4,1004.7 1796.1,1013.8 1796.8,1022.5 1797.6,1029.0 1798.3,1031.5 1799.1,1024.4 1799.8,1007.2 1800.5,984.3 1801.3,960.4 1802.0,940.1 1802.8,928.1 1803.5,928.1 1804.2,937.8 1805.0,954.0 1805.7,974.0 1806.5,994.8 1807.2,1013.7 1807.9,1027.8 1808.7,1034.3 1809.4,1029.5 1810.2,1013.8 1810.9,992.5 1811.6,971.3 1812.4,955.6 1813.1,950.9 1813.9,959.4 1814.6,976.8 1815.3,998.1 1816.1,1018.0 1816.8,1031.5 1817.6,1034.0 1818.3,1028.9 1819.0,1018.7 1819.8,1004.6 1820.5,987.8 1821.3,969.4 1822.0,950.6 1822.7,932.5 1823.5,916.2 1824.2,902.8 1825.0,893.7 1825.7,889.8 1826.4,893.5 1827.2,905.6 1827.9,923.3 1828.7,943.9 1829.4,964.4 1830.1,982.0 1830.9,994.0 1831.6,997.5 1832.4,995.6 1833.1,992.0 1833.8,988.4 1834.6,986.1 1835.3,986.8 1836.1,989.6 1836.8,991.9 1837.5,977.0 1838.3,924.1 1839.0,863.6 1839.8,828.4 1840.5,833.9 1841.2,857.2 1842.0,892.1 1842.7,932.7 1843.5,973.6 1844.2,1009.1 1844.9,1033.5 1845.7,1041.5 1846.4,1040.2 1847.2,1037.1 1847.9,1032.4 1848.6,1026.4 1849.4,1019.5 1850.1,1011.8 1850.9,1001.5 1851.6,981.6 1852.3,954.7 1853.1,924.5 1853.8,894.4 1854.6,868.2 1855.3,849.4 1856.0,841.5 1856.8,848.9 1857.5,870.6 1858.3,901.8 1859.0,937.6 1859.7,973.0 1860.5,1003.2 1861.2,1023.3 1862.0,1028.6 1862.7,1024.7 1863.4,1017.2 1864.2,1008.1 1864.9,999.2 1865.7,989.2 1866.4,977.7 1867.1,964.8 1867.9,948.9 1868.6,925.2 1869.4,901.4 1870.1,887.6 1870.8,889.4 1871.6,900.1 1872.3,917.1 1873.1,938.0 1873.8,960.4 1874.5,982.0 1875.3,1000.5 1876.0,1013.6 1876.8,1018.8 1877.5,1015.4 1878.2,1006.2 1879.0,993.7 1879.7,980.4 1880.5,968.9 1881.2,961.7 1881.9,961.5 1882.7,968.2 1883.4,979.2 1884.2,991.5 1884.9,1002.2 1885.6,1008.3 1886.4,1008.0 1887.1,1003.7 1887.9,996.7 1888.6,987.8 1889.3,977.9 1890.1,967.9 1890.8,956.3 1891.6,941.3 1892.3,926.3 1893.0,914.5 1893.8,904.8 1894.5,895.5 1895.3,887.9 1896.0,883.3 1896.7,884.0 1897.5,894.4 1898.2,909.9 1899.0,924.4 1899.7,932.1 1900.4,935.5 1901.2,938.0 1901.9,940.9 1902.7,945.9 1903.4,957.2 1904.1,973.4 1904.9,991.4 1905.6,1008.4 1906.4,1021.3 1907.1,1027.2 1907.8,1023.4 1908.6,1010.6 1909.3,991.0 1910.1,967.0 1910.8,940.8 1911.5,914.8 1912.3,891.2 1913.0,872.4 1913.8,860.7 1914.5,858.7 1915.2,874.6 1916.0,905.3 1916.7,944.0 1917.5,983.9 1918.2,1018.2 1918.9,1040.0 1919.7,1043.3 1920.4,1032.5 1921.2,1013.1 1921.9,989.2 1922.6,965.1 1923.4,944.8 1924.1,932.6 1924.9,932.5 1925.6,944.8 1926.3,964.9 1927.1,987.8 1927.8,1008.5 1928.6,1021.9 1929.3,1022.5 1930.0,1004.6 1930.8,973.6 1931.5,937.4 1932.3,903.3 1933.0,879.2 1933.7,872.6 1934.5,889.8 1935.2,923.3 1936.0,961.7 1936.7,993.9 1937.4,1008.7 1938.2,997.6 1938.9,965.8 1939.7,922.7 1940.4,877.8 1941.1,840.6 1941.9,820.6 1942.6,828.3 1943.4,863.6 1944.1,909.3 1944.8,948.0 1945.6,961.8 1946.3,947.6 1947.1,921.3 1947.8,898.4 1948.5,893.0 1949.3,900.2 1950.0,912.0 1950.8,923.6 1951.5,930.4 1952.2,927.0 1953.0,915.1 1953.7,905.0 1954.5,905.7 1955.2,915.4 1955.9,931.3 1956.7,950.9 1957.4,971.8 1958.2,991.8 1958.9,1008.2 1959.6,1018.9 1960.4,1021.3 1961.1,1015.0 1961.9,1003.0 1962.6,988.8 1963.3,975.7 1964.1,967.2 1964.8,966.5 1965.6,973.5 1966.3,985.7 1967.0,1000.5 1967.8,1015.4 1968.5,1027.7 1969.3,1034.9 1970.0,1035.8 1970.7,1035.5 1971.5,1035.0 1972.2,1034.2 1973.0,1031.5 1973.7,1024.1 1974.4,1014.5 1975.2,1005.8 1975.9,998.5 1976.7,990.4 1977.4,982.3 1978.1,975.0 1978.9,969.2 1979.6,965.6 1980.4,965.9 1981.1,977.9 1981.8,997.8 1982.6,1018.8 1983.3,1033.9 1984.1,1036.6 1984.8,1029.4 1985.5,1016.0 1986.3,999.0 1987.0,980.8 1987.8,964.1 1988.5,951.4 1989.2,945.2 1990.0,947.5 1990.7,956.5 1991.5,968.9 1992.2,981.8 1992.9,991.9 1993.7,996.1 1994.4,990.7 1995.2,976.3 1995.9,956.6 1996.6,935.1 1997.4,915.6 1998.1,901.6 1998.9,896.9 1999.6,904.7 2000.3,922.1 2001.1,944.0 2001.8,964.9 2002.6,979.6 2003.3,982.8 2004.0,973.5 2004.8,957.5 2005.5,941.4 2006.3,931.5 2007.0,933.0 2007.7,943.1 2008.5,958.9 2009.2,977.7 2010.0,996.7 2010.7,1013.4 2011.4,1024.9 2012.2,1028.6 2012.9,1020.0 2013.7,1002.1 2014.4,981.5 2015.1,965.0 2015.9,959.2 2016.6,961.9 2017.4,967.3 2018.1,973.1 2018.8,977.0 2019.6,976.6 2020.3,970.2 2021.1,960.2 2021.8,949.5 2022.5,941.2 2023.3,935.1 2024.0,929.0 2024.8,924.0 2025.5,921.2 2026.2,921.7 2027.0,926.0 2027.7,932.0 2028.5,937.7 2029.2,943.4 2029.9,949.7 2030.7,954.7 2031.4,956.0 2032.2,946.4 2032.9,940.2 2033.6,949.6 2034.4,970.1 2035.1,996.3 2035.9,1023.1 2036.6,1045.2 2037.3,1057.5 2038.1,1050.9 2038.8,1018.9 2039.6,981.7 2040.3,961.0 2041.0,967.4 2041.8,987.3 2042.5,1012.4 2043.3,1034.5 2044.0,1045.5 2044.7,1036.9 2045.5,1011.5 2046.2,981.0 2047.0,957.1 2047.7,951.4 2048.4,965.1 2049.2,990.6 2049.9,1020.6 2050.7,1048.0 2051.4,1065.5 2052.1,1067.4 2052.9,1060.9 2053.6,1054.2 2054.4,1053.7 2055.1,1057.7 2055.8,1062.0 2056.6,1062.1 2057.3,1053.1 2058.1,1037.8 2058.8,1021.1 2059.5,1007.5 2060.3,1001.7 2061.0,1004.9 2061.8,1009.6 2062.5,1005.1 2063.2,984.1 2064.0,954.2 2064.7,924.2 2065.5,902.4 2066.2,897.3 2066.9,905.9 2067.7,921.7 2068.4,939.6 2069.2,954.9 2069.9,963.4 2070.6,969.9 2071.4,975.3 2072.1,978.5 2072.9,978.0 2073.6,971.8 2074.3,963.6 2075.1,958.2 2075.8,959.0 2076.6,964.1 2077.3,971.6 2078.0,980.1 2078.8,987.8 2079.5,993.1 2080.3,994.5 2081.0,992.2 2081.7,987.4 2082.5,981.2 2083.2,974.9 2084.0,969.3 2084.7,965.7 2085.4,965.5 2086.2,973.6 2086.9,985.7 2087.7,995.5 2088.4,997.3 2089.1,995.5 2089.9,992.4 2090.6,988.6 2091.4,985.1 2092.1,982.4 2092.8,980.8 2093.6,979.3 2094.3,978.2 2095.1,977.6 2095.8,980.0 2096.5,987.8 2097.3,998.6 2098.0,1009.4 2098.8,1017.5 2099.5,1020.0 2100.2,1010.5 2101.0,989.6 2101.7,962.8 2102.5,935.0 2103.2,911.4 2103.9,897.3 2104.7,898.1 2105.4,916.3 2106.2,944.8 2106.9,975.8 2107.6,1001.6 2108.4,1014.2 2109.1,1007.6 2109.9,985.3 2110.6,954.5 2111.3,922.2 2112.1,895.6 2112.8,881.8 2113.6,888.2 2114.3,911.8 2115.0,938.2 2115.8,953.1 2116.5,949.3 2117.3,938.1 2118.0,927.9 2118.7,918.5 2119.5,911.0 2120.2,911.1 2121.0,925.2 2121.7,949.7 2122.4,979.3 2123.2,1009.1 2123.9,1033.8 2124.7,1048.2 2125.4,1047.3 2126.1,1030.2 2126.9,1002.7 2127.6,971.0 2128.4,941.0 2129.1,919.0 2129.8,911.0 2130.6,914.9 2131.3,923.9 2132.1,935.4 2132.8,946.7 2133.5,955.2 2134.3,960.7 2135.0,965.3 2135.8,970.2 2136.5,977.3 2137.2,990.1 2138.0,992.1 2138.7,970.9 2139.5,933.2 2140.2,887.6 2140.9,842.6 2141.7,806.7 2142.4,788.4 2143.2,802.3 2143.9,846.6 2144.6,882.6 2145.4,890.2 2146.1,894.2 2146.9,896.9 2147.6,899.2 2148.3,902.1 2149.1,906.5 2149.8,915.8 2150.6,931.0 2151.3,949.8 2152.0,969.9 2152.8,989.0 2153.5,1004.8 2154.3,1014.9 2155.0,1016.9 2155.7,1009.5 2156.5,995.6 2157.2,978.9 2158.0,963.0 2158.7,951.7 2159.4,946.9 2160.2,943.3 2160.9,940.6 2161.7,939.3 2162.4,940.8 2163.1,945.9 2163.9,953.3 2164.6,961.7 2165.4,969.6 2166.1,975.8 2166.8,978.9 2167.6,975.0 2168.3,960.3 2169.1,938.5 2169.8,913.6 2170.5,889.5 2171.3,870.2 2172.0,859.5 2172.8,861.5 2173.5,876.3 2174.2,898.5 2175.0,922.3 2175.7,941.9 2176.5,951.8 2177.2,948.1 2177.9,939.6 2178.7,939.2 2179.4,947.7 2180.2,962.1 2180.9,979.9 2181.6,998.5 2182.4,1015.5 2183.1,1028.2 2183.9,1034.2 2184.6,1033.4 2185.3,1029.6 2186.1,1022.7 2186.8,1012.8 2187.6,999.8 2188.3,983.8 2189.0,964.5 2189.8,942.1" fill="none" stroke="#3030c8" stroke-width="1.0" stroke-linejoin="round" stroke-opacity="0.8"/>
</g>
<path d="M1451.0 1225.0V1216.2M1451.0 749.5V758.3M1598.4 1225.0V1216.2M1598.4 749.5V758.3M1745.8 1225.0V1216.2M1745.8 749.5V758.3M1893.2 1225.0V1216.2M1893.2 749.5V758.3M2040.7 1225.0V1216.2M2040.7 749.5V758.3M2188.1 1225.0V1216.2M2188.1 749.5V758.3M2335.5 1225.0V1216.2M2335.5 749.5V758.3M1451.0 1225.0H1459.8M2335.5 1225.0H2326.7M1451.0 1066.5H1459.8M2335.5 1066.5H2326.7M1451.0 908.0H1459.8M2335.5 908.0H2326.7M1451.0 749.5H1459.8M2335.5 749.5H2326.7" stroke="#606060" stroke-width="1" fill="none"/>
<rect x="1451.0" y="749.5" width="884.5" height="475.5" fill="none" stroke="#606060" stroke-width="1"/>
<text x="1451.0" y="1275.3" font-size="41" text-anchor="middle" fill="#262626" font-family="'Liberation Sans', Arial, Helvetica, sans-serif" >0</text>
<text x="1598.4" y="1275.3" font-size="41" text-anchor="middle" fill="#262626" font-family="'Liberation Sans', Arial, Helvetica, sans-serif" >200</text>
<text x="1745.8" y="1275.3" font-size="41" text-anchor="middle" fill="#262626" font-family="'Liberation Sans', Arial, Helvetica, sans-serif" >400</text>
<text x="1893.2" y="1275.3" font-size="41" text-anchor="middle" fill="#262626" font-family="'Liberation Sans', Arial, Helvetica, sans-serif" >600</text>
<text x="2040.7" y="1275.3" font-size="41" text-anchor="middle" fill="#262626" font-family="'Liberation Sans', Arial, Helvetica, sans-serif" >800</text>
<text x="2188.1" y="1275.3" font-size="41" text-anchor="middle" fill="#262626" font-family="'Liberation Sans', Arial, Helvetica, sans-serif" >1000</text>
<text x="2335.5" y="1275.3" font-size="41" text-anchor="middle" fill="#262626" font-family="'Liberation Sans', Arial, Helvetica, sans-serif" >1200</text>
<text x="1438.7" y="1240.3" font-size="41" text-anchor="end" fill="#262626" font-family="'Liberation Sans', Arial, Helvetica, sans-serif" >0</text>
<text x="1438.7" y="1081.8" font-size="41" text-anchor="end" fill="#262626" font-family="'Liberation Sans', Arial, Helvetica, sans-serif" >10</text>
<text x="1438.7" y="923.3" font-size="41" text-anchor="end" fill="#262626" font-family="'Liberation Sans', Arial, Helvetica, sans-serif" >20</text>
<text x="1438.7" y="764.8" font-size="41" text-anchor="end" fill="#262626" font-family="'Liberation Sans', Arial, Helvetica, sans-serif" >30</text>
<text x="1893.2" y="1328.7" font-size="45" text-anchor="middle" fill="#262626" font-family="'Liberation Sans', Arial, Helvetica, sans-serif" >Data series</text>
<text x="1893.2" y="731.7" font-size="55" text-anchor="middle" fill="#000" font-family="'Liberation Sans', Arial, Helvetica, sans-serif" >Smoothed SR Q-factor</text>
<text transform="translate(1380.5,987) rotate(-90)" font-size="45" text-anchor="middle" fill="#262626" font-family="'Liberation Sans', Arial, Helvetica, sans-serif">Psd: fn/half-width</text>
<rect x="2209.7" y="760.9" width="114.8" height="90.0" fill="#fff" stroke="#606060" stroke-width="1"/>
<path d="M2213.9 783.5h41.2" stroke="#d04444" stroke-width="1.0"/>
<path d="M2213.9 827.9h41.2" stroke="#3a3aa8" stroke-width="1.0"/>
<text x="2258.7" y="798.1" font-size="37" text-anchor="start" fill="#000" font-family="'Liberation Sans', Arial, Helvetica, sans-serif" >1st</text>
<text x="2258.1" y="841.5" font-size="37" text-anchor="start" fill="#000" font-family="'Liberation Sans', Arial, Helvetica, sans-serif" >2nd</text>
<path d="M287.0 96.3V537.6M434.4 96.3V537.6M581.8 96.3V537.6M729.2 96.3V537.6M876.6 96.3V537.6M1024.0 96.3V537.6M1171.4 96.3V537.6M287.0 537.6H1171.4M287.0 464.1H1171.4M287.0 390.5H1171.4M287.0 316.9H1171.4M287.0 243.4H1171.4M287.0 169.8H1171.4M287.0 96.3H1171.4" stroke="#a0a0a0" stroke-width="1" stroke-dasharray="1 2.3" fill="none"/>
<path d="M316.2 155.9L317.2 155.6L318.1 156.1L319.1 155.7L319.7 154.9L321.1 154.7L322.4 154.5L323.8 154.3L325.1 153.7L326.1 154.0L327.0 153.7L326.8 154.9L328.1 154.5L329.4 154.4L330.5 155.4L332.0 154.9L330.5 154.8L330.0 153.4L328.4 153.3L327.0 152.4L326.3 151.6L325.3 151.2L324.0 151.0L322.9 150.2L322.0 149.9L321.2 149.5L320.3 149.6L319.4 149.3L320.4 148.9L320.9 148.0L321.9 147.4L323.1 147.7L324.3 147.4L325.3 148.0L326.8 147.5L328.3 146.8L329.0 145.6L330.1 144.8L331.5 144.6L332.7 145.0L333.9 144.4L335.1 143.9L336.3 143.8L337.6 143.9L338.6 143.1L339.7 143.3L340.8 143.4L340.9 142.0L342.3 141.7L343.4 141.6L344.5 141.9L345.5 142.1L346.4 141.8L347.2 142.5L348.2 142.6L349.0 143.5L350.1 143.6L351.1 143.1L352.2 142.8L353.2 142.9L354.2 143.3L355.3 143.4L355.0 143.9L356.0 144.3L356.9 144.8L357.9 144.5L359.0 144.4L360.2 144.3L361.4 144.1L362.8 143.9L364.1 143.6L365.4 144.2L366.6 144.8L367.8 145.2L368.9 145.7L370.0 144.9L371.3 145.1L372.2 145.2L373.2 145.4L374.8 145.1L376.4 144.8L377.4 144.8L378.3 145.0L379.3 145.1L380.1 145.6L381.5 145.6L382.8 146.1L384.0 146.3L385.2 145.9L386.4 146.1L387.5 146.6L388.4 147.2L389.2 148.1L390.3 148.3L391.4 147.8L392.6 147.9L393.9 148.0L394.9 147.4L396.1 147.0L397.6 146.9L399.0 146.3L399.9 146.8L400.9 146.4L401.8 146.7L402.7 146.6L403.7 146.4L404.5 145.7L405.4 145.5L406.4 145.6L407.4 146.0L408.5 146.0L409.6 145.7L410.3 144.8L411.2 145.3L412.0 145.8L412.9 145.5L413.8 145.3L414.5 144.1L415.3 144.5L416.2 144.4L417.4 144.5L418.1 145.6L419.1 146.1L420.2 146.6L421.1 146.2L422.1 146.1L422.9 145.5L423.6 144.8L423.5 145.8L423.8 146.8L425.4 147.3L426.8 146.3L427.8 145.6L429.3 145.4L430.7 145.8L431.7 146.2L432.6 146.6L433.6 147.0L434.6 146.8L436.1 146.2L437.6 146.3L439.2 146.7L440.3 147.8L441.2 147.8L442.0 148.1L442.9 148.0L443.7 148.3L444.9 147.8L446.2 148.0L447.8 148.5L449.4 149.3L448.5 149.5L447.7 149.8L446.7 150.0L445.9 150.5L447.1 150.8L448.1 151.3L449.2 151.2L450.4 151.0L451.2 151.5L452.0 151.9L452.7 152.8L453.8 152.7L454.4 152.0L455.1 151.2L456.0 150.8L457.0 150.7L458.1 150.4L459.2 150.2L460.4 151.1L461.7 151.7L462.7 150.4L464.4 150.5L462.9 150.6L461.9 149.5L462.7 149.0L463.4 148.5L464.9 148.2L466.5 148.5L467.4 148.3L468.3 148.3L469.5 148.3L470.5 148.8L472.0 149.0L473.0 150.2L474.3 149.8L475.7 150.0L476.7 150.5L477.8 150.6L478.7 151.1L479.8 151.2L480.8 150.8L481.8 151.0L482.8 150.8L483.8 150.7L484.7 150.6L485.6 150.7L486.5 150.7L487.5 150.7L487.0 149.3L488.0 148.8L489.2 148.8L489.8 149.8L491.0 149.9L492.1 149.9L493.1 149.7L492.8 150.8L493.1 152.0L493.4 150.6L494.6 150.0L495.6 150.0L496.6 150.0L497.3 148.8L497.8 147.5L496.7 146.2L495.1 146.1L493.6 145.7L492.1 145.1L492.5 143.8L492.4 142.4L492.8 141.6L493.6 141.1L494.5 141.1L495.3 140.7L496.9 140.6L498.5 140.9L498.8 141.8L499.3 142.5L500.1 142.0L501.0 142.1L502.0 142.6L503.0 143.1L503.7 144.0L504.4 144.8L503.1 145.0L502.2 146.1L503.4 146.6L504.4 147.2L505.5 146.3L506.9 146.6L506.0 147.7L506.6 149.0L507.3 148.2L508.2 147.7L509.0 147.1L510.1 147.0L510.6 147.8L511.3 148.3L512.2 148.5L513.0 148.8L512.4 149.5L512.3 150.5L513.1 151.7L514.5 152.2L516.1 151.7L517.2 150.5L518.1 149.4L518.9 148.3L518.9 146.9L519.2 145.6L520.0 145.6L520.9 145.7L521.7 145.9L522.6 145.8L523.6 145.8L524.4 146.3L525.3 146.2L526.3 146.1L527.9 146.7L529.5 147.3L529.7 148.5L529.0 149.5L527.9 150.0L528.9 150.3L529.5 151.2L529.2 152.4L528.3 153.4L527.2 154.1L525.9 154.1L524.6 154.2L523.7 154.3L522.8 154.4L522.0 154.8L521.1 154.4L519.7 154.1L518.4 153.7L517.7 154.9L516.8 156.2L515.5 157.1L514.7 158.1L513.3 158.9L511.8 159.8L510.7 159.7L510.1 160.6L509.2 160.4L508.3 160.0L507.5 160.7L506.4 161.0L506.1 162.6L504.7 162.4L503.4 163.0L502.9 163.9L502.4 164.9L501.3 164.9L500.2 164.9L499.5 165.6L498.6 165.9L498.2 166.8L497.8 167.6L497.1 168.5L496.8 169.6L496.8 171.1L496.6 172.5L497.4 172.1L498.4 172.3L499.3 172.5L500.2 172.8L500.4 174.2L501.2 175.2L501.8 176.2L502.4 177.0L503.3 177.3L504.3 177.3L505.0 176.8L505.9 176.5L507.1 176.6L508.3 176.8L509.4 177.2L510.6 177.5L511.9 177.6L513.0 178.4L513.9 179.0L514.7 179.7L516.3 179.8L517.7 180.4L519.1 180.8L520.4 181.4L521.4 181.3L522.3 181.7L523.3 181.9L524.3 181.6L525.6 182.0L527.0 181.9L526.8 182.8L526.8 183.8L527.0 185.1L527.5 186.3L528.2 187.7L529.2 189.0L530.1 189.4L530.9 190.0L531.8 190.3L532.7 190.7L533.8 190.6L534.9 190.7L535.8 189.5L536.1 188.0L535.8 187.1L535.7 186.1L535.5 185.1L534.9 184.3L533.9 183.7L533.2 182.8L534.2 182.7L535.2 182.7L536.2 182.4L537.1 181.9L538.4 181.0L539.8 180.1L540.7 179.4L541.3 178.4L541.2 177.6L541.0 176.7L539.9 175.8L539.3 174.5L537.9 173.5L536.4 172.8L536.8 171.7L537.1 170.6L538.3 170.7L539.3 170.1L538.7 169.0L538.1 167.9L537.5 167.0L537.9 166.0L537.4 165.2L537.3 164.2L538.1 163.6L539.1 163.5L540.1 162.7L541.2 163.5L542.3 163.6L543.2 164.2L544.5 164.2L545.7 164.5L546.9 164.6L547.9 164.0L548.9 164.8L550.1 164.7L551.6 165.3L553.1 166.2L553.8 167.2L554.7 166.2L556.0 166.2L556.9 167.1L558.2 167.2L558.5 168.3L558.2 169.4L558.7 170.8L559.0 172.4L560.0 172.9L561.2 172.8L562.3 173.4L563.1 174.3L564.2 174.4L565.3 174.6L565.3 173.3L566.6 172.8L567.5 172.4L568.4 172.0L569.4 171.3L569.0 170.1L569.9 169.8L570.5 169.1L571.8 169.9L572.5 171.3L573.0 172.3L573.6 173.3L574.6 173.9L575.7 174.3L577.0 174.7L578.4 174.8L577.4 176.2L578.3 177.1L579.0 178.1L580.0 179.0L580.6 180.1L581.8 180.7L582.8 181.6L583.8 181.7L584.7 182.2L585.7 182.1L586.7 182.4L587.5 182.9L588.4 183.1L589.0 184.0L589.4 185.1L590.6 186.0L592.1 186.3L592.4 187.7L592.4 189.2L591.6 189.7L590.6 190.0L589.8 190.5L588.9 190.9L587.8 190.9L586.8 190.9L585.6 190.9L584.7 191.7L584.2 192.4L583.2 192.7L582.6 193.4L581.8 193.9L580.7 194.0L579.7 194.3L578.7 194.0L577.6 194.1L576.3 193.8L575.0 193.4L573.6 193.3L572.2 193.6L571.3 193.7L570.4 193.4L569.4 193.3L568.5 193.6L567.3 193.5L566.1 193.9L565.0 194.7L564.1 195.6L562.5 196.1L560.9 196.6L559.8 197.2L559.1 198.3L558.3 199.2L557.4 200.0L556.7 200.6L555.9 201.1L555.1 201.5L554.5 202.2L555.5 201.9L556.5 201.7L557.6 201.0L558.5 200.1L559.5 199.3L560.5 198.5L561.8 197.9L563.2 197.8L564.8 197.8L565.7 196.6L566.6 197.0L567.6 196.9L568.5 196.7L569.4 196.3L570.4 197.1L571.5 197.6L570.3 198.2L569.3 199.0L569.8 200.3L570.0 201.7L570.1 202.8L570.7 203.7L571.5 204.1L572.3 204.5L573.1 204.9L573.9 204.9L575.0 204.7L576.0 204.5L577.1 204.6L578.1 204.4L578.8 203.7L579.7 203.4L580.1 202.5L580.6 201.7L581.5 202.9L582.3 204.2L580.8 205.0L579.3 205.9L578.0 206.4L576.5 206.6L575.1 207.0L573.7 207.4L572.5 207.7L571.5 208.3L570.8 208.9L570.1 209.5L569.3 209.8L568.5 210.3L567.7 210.1L566.8 210.1L566.5 209.0L566.6 207.9L567.4 206.9L568.7 206.6L569.9 206.4L571.0 205.9L570.0 205.8L569.0 205.7L568.1 206.0L567.1 205.9L565.7 206.3L564.4 206.4L563.3 207.4L562.1 208.3L560.9 209.1L559.4 209.1L558.2 209.3L557.0 209.8L556.2 210.6L555.8 211.6L555.3 213.2L556.0 214.5L557.4 214.2L556.5 214.6L555.8 215.2L554.5 215.2L553.0 215.4L551.6 215.7L550.8 216.1L549.9 216.3L549.0 216.5L548.1 216.7L549.0 216.6L549.9 216.3L550.8 216.2L551.6 216.7L550.1 217.4L548.8 217.2L547.4 217.4L546.7 217.7L547.0 218.5L546.9 219.4L545.9 220.3L545.2 221.6L544.4 220.9L543.7 220.1L544.2 221.4L544.7 222.3L544.3 223.2L543.7 224.0L543.3 225.0L542.7 225.7L542.3 224.9L541.8 224.0L541.5 222.8L541.3 221.6L541.4 222.6L542.0 223.5L542.1 224.5L542.5 225.5L542.4 227.2L543.2 228.7L543.5 229.7L543.7 230.7L542.8 231.5L541.5 231.6L540.3 232.1L539.1 232.4L538.1 233.0L537.3 233.8L536.1 233.8L534.9 234.8L534.6 235.6L533.2 236.3L531.9 237.3L531.3 238.0L530.5 238.5L529.9 239.2L529.5 240.0L529.0 240.8L529.0 241.7L529.1 242.6L529.5 243.4L529.7 244.4L530.3 245.4L530.7 246.3L531.4 247.1L531.4 248.3L532.1 249.5L532.4 250.8L532.4 251.7L532.4 252.7L532.4 253.7L531.7 255.2L530.9 255.4L529.7 255.2L529.5 254.2L528.5 253.5L527.8 252.0L527.2 250.7L526.0 249.8L525.5 248.5L526.3 247.1L525.5 245.6L524.6 244.5L523.6 243.6L522.6 243.2L521.3 243.5L520.1 244.4L519.6 244.1L518.5 243.0L516.9 242.4L515.6 242.2L514.2 242.7L513.1 242.9L512.0 242.4L511.0 242.5L510.1 242.7L509.1 242.9L509.6 243.6L509.6 244.6L510.1 245.1L509.6 245.4L508.6 245.1L507.6 245.6L506.7 245.7L505.9 245.6L504.9 245.0L504.2 244.1L503.1 244.2L502.0 244.4L501.1 244.2L500.2 243.9L498.8 244.1L497.7 244.5L496.6 244.6L495.5 245.6L494.3 246.6L493.3 247.5L491.9 247.6L491.3 248.2L490.7 248.8L489.9 249.8L489.9 251.5L490.1 252.5L490.4 253.5L490.2 254.6L489.7 255.7L489.7 256.6L489.2 257.4L489.2 258.2L489.3 259.1L489.0 259.9L488.9 260.8L488.7 262.0L489.2 263.3L489.9 264.5L490.0 265.5L490.4 266.4L491.2 267.4L492.1 268.2L492.6 269.6L493.6 270.9L495.0 271.0L496.3 271.3L497.3 272.6L498.3 272.1L499.5 271.8L500.4 272.0L501.2 271.6L502.1 271.5L502.9 271.1L503.8 270.8L504.7 270.6L505.3 270.0L506.1 269.6L506.9 268.2L507.0 267.2L506.9 266.2L507.4 265.5L508.2 265.2L509.1 264.7L510.5 264.7L511.8 264.2L512.8 264.2L513.8 264.2L515.2 264.2L516.0 264.7L516.0 266.0L515.1 266.4L514.5 267.2L514.1 268.0L514.0 268.9L513.6 270.5L513.5 272.1L512.8 271.6L512.3 271.6L512.3 271.8L512.8 273.1L512.7 274.1L512.3 275.0L512.0 276.5L511.5 277.0L510.8 278.0L511.5 278.5L512.3 277.9L513.3 278.0L514.0 278.0L514.2 278.2L515.7 278.2L516.9 278.2L517.9 277.7L518.7 277.7L519.4 278.0L520.4 277.7L521.9 278.2L522.6 278.7L523.3 279.2L524.3 279.4L525.1 280.2L524.3 281.3L524.1 282.6L524.1 283.6L523.8 284.8L524.1 285.3L524.1 286.5L524.0 287.5L523.8 288.5L523.3 289.7L523.6 290.2L524.3 291.5L525.3 292.4L526.5 293.4L527.3 294.4L528.2 294.9L529.2 295.4L530.5 295.1L531.4 294.6L532.9 294.1L533.6 293.4L535.1 293.4L536.4 293.9L537.3 294.4L538.1 295.1L539.1 295.6L540.5 295.9L541.3 294.9L542.2 294.1L543.2 293.9L543.2 292.9L543.7 292.0L543.7 291.0L544.5 290.4L545.2 289.7L546.7 289.7L546.9 289.2L547.9 289.4L548.9 289.5L549.8 288.8L550.8 288.3L551.8 287.6L552.8 286.5L553.8 286.5L554.5 287.3L554.0 288.0L553.3 288.5L552.6 289.0L553.3 290.1L553.3 291.5L552.3 292.7L552.9 293.6L553.1 294.6L554.0 294.6L554.4 293.7L554.8 292.7L554.7 291.2L553.8 290.1L555.2 289.3L556.7 289.0L557.2 288.0L557.5 287.0L557.8 287.9L558.2 288.8L559.1 288.7L559.9 289.0L560.7 289.8L561.7 290.2L561.7 291.0L562.8 291.1L563.9 291.2L565.2 291.2L566.6 291.0L567.8 291.9L568.8 291.9L569.8 292.2L571.2 291.5L571.2 291.0L572.7 290.9L574.2 290.7L575.7 290.7L577.1 290.7L576.1 290.9L575.2 291.5L575.9 292.7L576.9 292.5L577.9 292.7L578.7 293.5L579.8 293.9L580.1 294.9L580.1 295.9L581.3 295.9L582.3 296.4L583.2 296.7L584.0 297.4L584.9 298.1L585.5 299.1L585.5 300.3L586.5 300.3L588.0 300.9L588.9 302.3L590.4 302.8L591.9 302.7L593.0 302.4L594.1 302.2L595.4 302.5L596.6 302.7L597.5 303.2L598.4 303.4L599.2 303.7L600.8 304.5L601.9 305.7L602.2 306.7L603.2 306.7L603.7 307.9L603.9 309.0L604.4 310.1L604.8 311.2L605.1 312.3L606.4 312.8L606.7 313.6L606.6 314.5L605.4 315.3L604.6 316.5L605.4 317.2L606.5 317.4L607.6 317.3L608.7 317.2L609.8 317.4L609.5 318.7L609.8 319.9L610.8 319.2L611.8 318.4L613.2 318.8L614.7 319.2L615.9 319.2L616.8 320.0L618.0 320.2L618.9 320.9L619.4 321.6L620.1 322.1L619.6 323.6L621.0 322.7L622.6 322.8L623.5 323.7L624.8 323.9L626.0 324.3L627.2 324.1L628.2 323.9L629.1 324.0L630.0 324.4L631.0 324.1L631.9 324.5L632.9 324.9L633.8 325.4L634.6 326.0L635.5 326.6L636.1 327.5L637.0 328.0L637.8 328.7L638.6 329.2L639.5 329.5L640.6 329.2L641.7 329.5L642.7 330.4L643.1 331.9L643.5 333.4L644.0 334.8L644.0 335.9L643.7 337.0L643.2 337.9L643.0 339.0L642.3 339.7L641.7 340.5L640.7 341.1L639.8 342.0L639.1 343.0L638.3 343.9L637.5 345.4L636.6 346.9L635.9 348.0L634.9 348.8L634.1 349.1L634.0 350.0L633.5 350.8L633.4 352.0L633.6 353.1L634.2 354.3L633.6 355.4L633.8 356.4L633.9 357.4L633.3 358.2L632.9 359.1L632.3 360.4L631.9 361.8L631.7 363.4L631.4 365.0L631.1 366.0L630.5 366.8L629.8 367.6L629.0 368.2L628.8 369.4L628.7 370.6L627.6 371.3L626.5 371.9L626.0 373.3L624.7 373.2L623.3 373.3L622.4 373.5L621.5 373.8L620.6 374.1L619.6 374.3L618.5 374.5L617.7 375.3L616.3 375.6L615.0 376.0L613.6 377.0L612.3 378.0L610.9 379.0L610.1 380.4L609.9 381.3L609.8 382.2L610.1 383.6L609.6 384.8L609.6 386.1L609.1 387.3L608.1 387.8L607.3 388.5L606.6 389.6L605.9 390.7L605.2 391.7L604.6 392.9L603.7 394.1L602.4 394.9L601.6 395.4L600.7 395.9L600.3 397.1L599.7 398.3L598.9 399.1L598.0 399.8L597.4 400.5L597.0 401.3L595.6 401.8L594.3 402.8L593.3 402.6L592.4 402.3L591.1 402.5L590.1 401.8L588.9 401.3L588.0 401.2L587.2 401.5L586.7 400.5L585.7 400.1L585.5 401.3L586.2 401.9L587.1 402.3L587.9 402.9L588.7 403.5L588.4 404.3L588.2 405.2L589.0 405.7L589.9 406.2L589.7 407.4L588.9 408.1L588.5 409.0L588.0 409.8L587.5 410.6L586.6 411.2L585.7 411.5L584.7 411.4L583.8 411.8L582.5 411.4L581.3 411.5L580.0 411.9L578.9 412.3L577.5 412.4L576.1 412.1L576.6 413.5L576.4 414.5L576.1 415.5L576.6 416.7L575.2 417.5L573.7 417.3L572.5 418.0L571.4 417.5L570.3 417.0L569.3 417.7L569.6 418.9L569.6 420.2L570.4 420.6L571.2 420.9L572.5 419.9L573.2 421.4L572.2 422.1L571.0 422.1L569.9 422.8L569.0 423.6L569.1 424.8L568.8 426.0L568.0 427.3L566.9 428.4L565.8 427.3L564.5 427.5L563.9 428.7L563.4 429.6L563.1 430.5L564.6 431.0L565.6 432.2L566.9 432.1L567.1 430.8L567.7 431.7L568.0 432.7L567.6 433.8L567.1 434.9L565.5 435.3L564.1 436.3L563.4 436.8L562.9 437.6L562.6 438.4L562.6 439.3L561.3 439.2L560.4 440.3L559.4 441.2L560.7 442.4L560.2 443.9L560.8 445.0L561.9 445.2L560.7 445.2L559.6 444.7L558.5 444.7L557.5 444.8L556.6 445.2L556.0 446.0L555.3 446.6L554.7 447.7L554.8 448.8L553.8 449.1L552.4 448.5L550.8 448.1L549.9 448.6L548.9 448.2L548.6 447.3L548.1 446.4L546.4 446.3L545.2 445.2L545.0 444.2L544.2 443.5L545.0 442.0L544.3 441.3L543.7 440.5L544.8 439.7L544.9 438.4L544.5 437.1L543.5 436.3L543.3 434.9L544.5 433.9L545.7 432.8L547.2 431.9L546.2 432.0L545.2 432.0L544.3 431.7L543.5 431.2L544.4 430.0L545.7 429.2L545.5 428.1L545.4 427.0L546.3 426.3L546.4 425.1L547.7 426.0L549.4 426.0L549.2 425.0L548.2 424.8L547.9 423.8L548.7 423.2L549.4 421.8L550.6 420.9L549.7 420.6L548.9 420.2L548.5 421.7L548.1 423.4L546.7 422.9L546.3 421.6L547.3 420.9L547.8 419.9L547.4 418.8L547.4 417.7L547.2 416.7L547.6 415.7L548.1 414.8L548.6 413.9L549.4 413.3L549.5 411.9L548.6 410.8L548.3 409.5L548.4 408.2L549.4 407.9L549.5 406.8L549.6 405.7L550.2 404.9L550.8 404.0L551.0 402.9L551.3 401.9L552.1 401.1L552.6 400.1L553.2 399.3L553.5 398.3L553.9 397.4L553.8 396.4L553.7 395.4L553.4 394.5L553.2 393.6L553.1 392.7L553.3 391.7L553.8 390.7L553.3 389.3L553.5 387.8L554.1 387.1L554.2 386.2L554.5 385.3L555.0 384.6L555.0 383.4L555.3 382.3L555.5 381.1L555.5 380.0L555.7 378.7L555.8 377.4L556.0 376.1L556.3 374.8L556.3 373.4L556.1 372.0L556.5 370.7L557.0 369.4L557.0 368.4L556.8 367.5L557.1 366.5L556.7 365.5L557.0 364.5L556.4 363.7L556.6 362.7L556.3 361.8L555.1 361.1L553.8 360.6L553.5 359.6L552.3 359.2L551.1 358.5L549.9 358.0L548.9 357.2L547.7 356.5L546.5 356.0L545.4 355.4L544.5 354.5L543.5 353.6L542.5 352.7L541.8 351.9L541.5 350.8L541.8 350.0L541.7 349.0L541.4 348.1L540.6 347.4L539.8 346.9L539.6 345.5L538.6 344.7L537.8 343.6L537.3 342.4L536.4 341.4L535.8 340.2L535.6 338.8L535.1 337.5L534.1 336.3L533.5 335.6L533.2 334.6L532.4 333.7L531.4 332.9L530.5 332.5L529.7 331.9L530.5 330.9L529.9 329.7L529.2 328.5L529.6 327.6L530.0 326.8L531.0 326.0L531.9 325.3L532.5 324.4L533.2 323.6L532.7 322.3L531.7 323.6L531.0 323.1L530.5 322.3L530.1 321.0L530.5 319.6L531.2 319.2L531.7 317.7L532.0 316.7L532.7 316.0L532.4 315.0L533.9 314.5L534.6 313.9L535.4 313.5L535.9 312.3L535.9 311.4L536.1 310.6L537.0 310.4L537.8 310.3L538.1 309.5L538.8 308.9L539.3 307.6L538.8 306.9L539.3 305.4L539.1 304.3L538.8 303.2L539.3 302.2L539.1 301.4L538.8 300.5L537.8 299.3L537.1 298.6L536.6 297.1L537.1 296.6L536.6 296.4L536.1 295.6L534.9 294.9L533.6 295.1L533.2 295.9L531.9 296.6L531.4 297.1L532.1 297.8L532.7 298.6L531.9 298.8L531.7 299.1L530.5 299.3L530.0 297.8L529.7 298.3L529.0 298.1L528.5 297.1L527.5 296.8L526.8 296.6L525.8 296.6L525.5 297.1L524.1 296.4L523.6 295.6L523.8 295.4L523.8 294.6L523.1 294.1L522.1 293.7L521.4 293.4L521.1 292.7L520.5 292.2L520.6 292.9L520.1 293.4L519.6 292.9L518.7 292.7L518.4 292.2L518.8 291.4L518.7 290.5L518.2 290.0L518.7 289.7L517.7 289.0L516.7 288.0L516.2 287.3L515.0 286.3L513.8 285.3L514.0 284.8L514.5 285.3L514.7 285.1L514.2 284.3L513.5 284.1L512.6 284.3L511.8 284.6L510.8 284.2L509.8 283.9L508.6 283.9L507.9 283.4L506.6 282.9L505.2 282.9L503.9 282.4L502.7 281.4L502.1 280.5L501.4 279.8L500.5 279.3L499.7 278.7L498.5 278.0L497.6 277.6L496.6 277.2L495.1 277.5L494.1 277.9L493.1 278.2L491.9 278.5L491.0 278.4L490.2 278.0L489.3 277.6L488.4 277.5L487.5 276.7L486.2 276.3L485.3 276.1L484.3 276.0L482.9 275.5L481.6 274.8L480.6 274.0L479.4 273.8L478.9 273.1L477.4 272.9L476.1 272.6L474.9 272.1L474.0 271.1L472.7 270.3L471.3 269.6L470.7 268.9L470.0 268.2L469.5 266.9L470.5 266.4L470.0 266.0L470.5 265.2L470.5 264.5L469.8 263.3L469.5 262.3L468.8 261.1L467.9 259.7L466.6 258.6L465.4 257.7L464.1 256.9L463.4 256.1L462.9 255.2L461.8 254.8L460.7 254.2L460.4 253.7L460.7 252.2L459.5 251.5L458.6 251.0L458.0 250.3L457.8 249.4L457.5 248.5L456.0 248.5L455.1 248.0L454.5 247.1L453.6 245.9L453.3 245.1L452.5 244.4L452.1 243.4L451.6 242.4L451.1 241.4L451.4 240.5L450.6 239.6L449.4 239.5L448.6 239.7L447.2 239.0L447.3 240.2L447.4 241.4L448.5 242.4L448.4 243.9L449.3 244.9L450.1 245.9L450.9 247.2L452.1 248.3L453.0 249.1L453.3 250.3L454.1 251.2L455.0 252.0L455.5 252.9L455.8 253.9L456.6 255.0L457.2 256.1L457.7 256.9L458.5 257.4L459.5 258.5L460.4 259.6L459.8 260.3L459.0 260.8L458.2 259.3L457.4 258.7L456.5 258.1L455.6 257.6L454.8 256.9L453.6 256.4L453.6 255.4L453.6 254.4L453.3 253.2L452.6 252.7L452.1 252.0L451.1 251.9L450.4 251.2L449.6 250.7L448.6 250.5L447.9 249.0L448.6 248.1L447.9 246.5L446.9 245.1L445.5 244.4L444.8 243.6L444.2 242.7L443.5 241.4L443.1 240.4L442.5 239.5L442.2 238.3L441.5 237.3L441.0 235.8L440.3 235.1L439.6 234.6L438.3 234.3L438.1 233.6L436.6 233.3L435.9 232.9L434.7 232.6L433.4 232.4L432.9 232.1L432.7 230.7L432.1 230.0L431.6 229.3L430.8 228.8L430.2 228.2L429.7 227.2L429.0 226.6L428.5 225.7L428.3 224.3L427.0 223.8L426.1 222.8L425.3 221.6L424.9 220.5L424.8 219.4L424.3 218.6L423.6 218.1L423.9 217.2L424.1 216.2L424.0 215.1L424.1 214.0L423.6 213.0L423.3 212.0L424.1 211.0L424.3 209.8L424.3 208.6L423.9 207.5L424.3 206.4L424.8 205.4L424.4 204.6L424.4 203.7L424.4 202.8L424.3 202.0L424.0 201.0L423.6 200.0L422.9 198.8L423.8 198.5L424.9 198.7L425.9 198.7L426.8 199.3L427.4 200.4L428.0 201.5L428.7 200.7L428.9 199.7L428.7 198.6L427.5 198.1L427.5 196.8L427.4 195.8L426.5 195.3L425.4 195.5L424.3 195.4L423.2 195.2L422.4 194.4L421.3 194.2L420.6 193.4L419.4 193.7L418.2 194.1L417.1 193.4L416.2 192.4L416.4 190.7L414.8 190.2L415.0 188.7L413.5 188.1L412.0 187.5L412.2 186.4L411.6 185.5L410.1 184.6L408.6 183.8L408.6 182.6L407.6 182.5L407.1 181.6L406.1 181.2L405.7 180.2L405.1 179.4L404.4 178.7L403.6 178.2L402.7 178.0L402.6 176.6L401.2 176.7L400.8 175.4L399.8 174.5L398.7 174.3L397.6 174.3L396.6 174.3L395.6 174.4L394.6 174.3L393.6 174.3L392.0 174.5L390.7 173.5L389.3 173.0L387.8 173.0L386.3 172.4L385.5 171.1L384.6 170.6L384.2 169.7L383.5 169.0L382.6 168.5L381.6 168.4L380.7 169.0L379.8 169.3L378.9 169.6L378.1 170.0L377.3 170.5L376.4 170.2L375.5 169.9L374.4 169.5L373.2 169.1L371.9 169.3L370.8 168.6L369.9 168.9L369.0 168.9L368.4 168.3L367.8 167.6L366.6 168.6L365.1 168.1L365.4 169.0L365.6 169.9L364.6 170.0L363.5 170.3L362.5 170.3L361.4 170.6L360.4 171.0L359.2 171.3L357.9 171.5L356.5 171.8L356.0 170.6L356.5 169.3L357.3 168.1L358.6 167.7L360.0 167.4L359.2 166.7L358.4 167.1L357.7 167.7L356.9 167.8L356.0 168.1L355.2 168.9L354.3 169.6L353.5 170.1L352.6 170.5L351.9 171.2L350.9 171.3L351.6 172.2L352.6 172.5L351.0 172.9L350.4 174.5L349.1 175.2L347.7 175.5L346.4 175.8L345.2 176.2L344.5 177.3L343.6 177.8L342.8 178.3L341.8 178.2L340.8 178.4L340.1 179.7L338.8 180.7L337.1 180.6L336.3 180.7L335.4 180.6L334.3 180.8L333.2 181.1L331.9 181.5L330.7 182.1L329.7 182.6L328.5 182.8L327.5 183.0L326.4 183.0L325.4 183.5L324.3 183.6L324.1 183.1L325.6 182.9L326.8 182.1L327.9 181.8L329.0 181.4L330.3 180.5L331.7 179.9L333.2 179.4L334.7 179.7L335.9 178.7L336.7 178.2L337.5 177.7L338.4 177.2L339.3 177.2L339.8 176.7L340.8 176.3L341.8 175.7L341.9 174.9L342.0 174.0L342.7 173.2L343.5 172.5L341.9 172.5L340.6 173.3L339.8 172.8L339.5 173.9L338.3 173.8L337.4 173.4L336.9 172.5L336.1 173.3L335.2 172.1L334.0 172.6L332.7 173.0L331.3 173.0L331.6 171.9L331.5 170.8L330.9 170.1L330.0 169.8L328.4 170.3L326.8 170.3L325.6 169.9L324.6 169.1L323.1 168.6L322.9 167.2L322.1 166.6L321.1 166.2L321.7 165.5L322.1 164.7L323.0 163.9L324.1 163.5L324.8 162.2L325.8 162.1L326.8 162.0L327.6 162.6L328.5 162.2L329.4 161.6L330.5 161.3L331.5 161.2L332.4 161.3L333.2 160.7L334.2 160.5L333.8 159.6L332.4 159.1L333.4 158.8L334.2 158.1L332.7 158.1L331.2 157.5L330.0 158.6L329.3 159.3L328.5 158.6L327.5 158.6L326.8 159.3L325.8 159.0L324.9 159.6L323.9 159.1L323.1 158.6L322.1 158.8L321.3 158.5L320.4 158.3L319.4 157.3L318.5 157.2L317.7 156.8L317.0 156.4L316.2 155.9M715.4 228.7L714.4 227.9L713.7 226.7L712.4 226.0L711.0 225.7L710.1 225.4L709.1 225.4L708.1 225.6L707.3 226.2L707.1 225.3L706.8 224.4L707.4 223.5L707.6 222.6L706.7 222.3L705.9 221.8L706.1 220.9L706.3 220.0L706.8 219.2L707.3 218.4L707.2 217.3L707.2 216.1L707.6 215.1L707.8 214.0L707.0 212.9L706.4 211.8L707.6 210.7L709.1 210.1L710.5 209.8L712.0 209.9L713.5 209.8L715.0 210.1L716.2 210.2L717.4 210.3L718.6 210.2L719.9 210.3L721.1 210.2L722.3 210.6L723.5 210.4L724.8 210.5L725.8 209.4L726.0 207.9L726.2 206.9L726.1 206.0L726.3 205.1L726.3 204.2L725.6 203.5L725.0 202.9L724.3 202.2L723.8 201.5L722.8 200.9L721.8 200.3L721.0 200.0L720.1 200.0L719.3 199.7L718.4 199.5L717.7 198.3L719.0 197.5L720.6 197.3L721.9 197.6L722.8 198.5L724.1 198.2L725.3 197.8L724.6 196.5L724.5 195.1L725.2 195.8L726.3 195.8L727.1 195.7L728.0 195.8L728.8 195.7L729.7 195.6L731.0 194.6L732.6 194.1L733.0 193.1L733.1 191.9L734.2 191.9L735.3 191.7L736.7 191.4L738.0 190.9L738.9 190.3L739.8 189.7L740.3 188.4L741.0 187.3L742.0 186.7L743.0 186.0L743.8 186.0L744.7 186.0L745.5 185.9L746.4 185.8L747.3 185.9L748.3 185.9L749.2 185.8L750.1 185.5L750.6 184.6L750.7 183.6L750.6 182.7L750.3 181.8L750.3 180.9L749.8 179.5L749.1 178.2L749.7 177.5L750.3 177.0L751.0 175.6L752.4 174.9L753.8 175.2L755.2 175.5L755.4 176.9L754.5 177.9L756.0 178.7L755.2 179.3L754.7 180.2L754.4 181.1L754.3 182.1L755.1 182.9L756.0 183.6L756.5 184.6L757.9 184.3L759.4 184.1L760.8 183.3L762.4 183.3L763.4 183.8L764.1 184.8L765.2 184.5L766.3 184.3L767.4 184.2L768.5 183.8L769.5 183.7L770.3 183.1L771.2 182.6L772.2 182.6L773.5 182.8L774.9 182.8L774.9 183.6L776.1 183.5L777.4 183.6L778.2 183.1L779.2 182.9L779.8 182.2L780.5 181.6L781.3 180.1L780.7 178.8L781.0 177.5L781.9 176.6L782.8 175.7L783.9 176.1L784.7 175.2L785.6 176.3L786.9 176.7L788.2 176.9L789.1 176.0L788.3 175.0L788.9 173.8L788.0 173.3L786.9 173.3L786.7 171.8L787.6 171.7L788.5 172.0L789.3 171.4L790.1 171.1L791.2 171.0L792.2 170.5L793.1 171.5L794.3 170.8L794.7 172.2L796.1 172.0L796.8 171.0L798.0 171.1L798.9 170.6L799.7 169.9L800.7 169.8L801.7 170.1L800.4 169.4L799.2 169.8L797.9 169.7L796.6 169.4L795.5 168.6L794.4 169.3L793.2 169.9L793.4 168.6L792.1 168.5L791.6 169.3L790.6 169.4L789.9 168.7L788.9 168.6L788.3 169.4L788.1 170.3L786.8 170.3L785.5 170.1L784.6 168.8L784.6 167.2L783.2 167.6L781.8 168.1L781.5 166.9L782.0 165.7L781.0 164.8L781.0 163.5L781.2 162.3L782.3 161.8L783.0 160.5L784.0 159.4L785.5 159.6L786.9 160.0L787.8 159.5L788.8 159.3L789.5 158.7L790.1 157.8L791.2 157.6L791.6 156.6L790.0 156.8L788.9 155.6L788.1 155.1L787.3 154.7L786.4 155.3L786.4 156.3L785.5 155.1L784.0 155.6L783.8 156.7L783.5 157.8L782.7 158.6L781.5 158.8L780.7 160.3L779.1 160.8L778.4 161.5L777.8 162.3L776.8 162.4L775.9 162.0L774.7 162.9L773.4 163.5L773.0 164.8L771.9 165.7L771.8 166.7L771.2 167.6L772.5 167.6L773.2 168.6L774.4 168.9L775.4 169.6L775.0 170.4L774.9 171.3L774.1 171.9L773.2 172.3L772.3 172.5L771.4 172.4L771.2 173.4L770.2 173.8L769.6 175.2L769.7 176.7L768.8 177.8L768.5 179.2L766.9 179.2L765.3 179.2L764.6 180.1L764.1 181.1L762.5 181.1L760.9 181.1L760.7 180.0L760.4 178.9L759.9 178.0L759.2 177.2L758.2 176.7L758.2 175.5L757.7 174.3L757.0 173.3L756.5 172.1L755.7 171.6L755.2 170.8L755.0 171.7L754.3 172.3L753.4 172.4L752.5 172.5L751.7 173.1L751.0 173.9L750.0 174.0L749.1 174.5L748.2 174.6L747.3 174.4L746.3 174.0L745.4 174.5L744.4 173.5L743.0 173.3L742.9 172.3L742.2 171.6L742.1 170.4L741.5 169.4L740.9 168.4L741.2 167.4L741.6 166.3L742.0 165.2L742.9 164.6L743.7 163.7L744.4 163.0L745.4 163.0L746.3 163.0L747.1 162.5L748.3 162.4L748.3 161.1L749.2 161.4L750.1 161.0L750.4 159.6L751.9 159.3L753.1 159.6L754.3 160.0L755.8 159.3L757.0 158.1L757.6 157.2L758.0 156.2L758.7 155.2L759.9 155.4L759.8 154.4L760.4 153.5L761.4 153.4L762.1 152.7L762.7 151.9L763.1 151.0L764.1 150.8L765.1 150.5L766.3 150.0L767.3 149.3L768.3 148.7L769.2 148.0L770.0 147.0L771.1 146.7L772.2 146.1L773.4 146.3L774.2 144.9L774.6 143.3L775.4 143.7L776.3 143.7L776.7 144.5L777.1 145.3L778.5 145.1L779.4 146.1L780.4 145.3L781.5 144.8L782.6 144.5L783.6 144.2L784.6 143.6L785.7 143.9L786.8 143.6L787.9 143.7L788.4 142.3L789.9 142.9L791.2 142.8L792.6 142.6L793.6 143.4L794.8 143.2L795.8 142.7L797.0 142.9L798.5 143.0L800.0 143.4L800.8 144.3L802.0 144.6L803.2 144.5L804.4 144.6L805.0 145.7L806.1 146.1L807.3 145.7L808.4 145.2L809.3 146.0L810.3 146.8L811.4 147.5L812.7 147.1L813.9 147.6L815.2 147.3L816.4 147.6L817.6 148.0L818.8 148.5L820.1 148.3L821.5 147.9L823.0 147.9L824.4 148.6L825.0 150.0L826.1 150.0L827.2 149.9L828.5 149.9L828.9 151.2L829.6 152.2L830.2 153.2L828.7 153.4L828.0 154.6L826.9 154.1L825.8 153.5L825.0 154.4L823.8 154.9L822.5 155.5L821.3 154.8L820.1 154.5L818.9 154.4L817.7 154.5L816.7 154.2L815.8 153.4L814.7 153.2L813.1 153.6L811.5 153.7L813.0 154.4L814.2 155.4L814.9 156.5L814.7 157.8L816.2 157.8L817.4 158.8L819.1 158.6L820.6 159.3L821.7 159.0L822.6 158.3L823.5 157.9L824.6 158.1L825.5 158.4L826.5 158.8L827.5 158.3L828.7 158.3L827.7 157.5L827.2 156.4L827.9 155.7L828.6 155.1L829.5 154.8L830.4 154.9L831.7 154.4L833.1 154.2L834.1 154.5L835.1 154.4L836.1 154.7L837.0 154.9L837.8 153.7L837.8 152.2L837.3 150.7L836.8 149.3L837.8 148.8L838.9 148.7L840.0 148.6L841.0 149.0L842.2 149.8L843.4 150.5L842.5 151.3L841.2 151.2L840.4 152.0L839.8 152.9L841.0 152.5L842.2 152.5L843.4 153.1L844.7 153.2L845.9 152.5L847.3 152.5L848.4 151.7L849.6 151.0L849.9 150.2L850.3 149.4L851.2 149.4L852.0 149.9L853.2 149.3L854.5 149.3L855.7 149.3L857.0 149.4L858.1 148.9L859.4 148.8L860.9 149.5L862.6 149.5L863.6 149.3L864.7 149.1L865.7 148.9L866.8 148.8L867.6 148.5L868.5 148.5L869.0 149.3L869.8 149.7L871.1 148.9L872.4 148.0L873.6 149.1L875.1 149.3L876.6 148.5L878.1 147.8L877.6 146.9L877.1 146.1L878.3 146.0L879.3 145.5L880.4 145.9L881.5 145.8L883.1 145.6L884.5 146.1L886.1 146.2L887.4 147.0L888.7 147.2L889.9 147.5L891.0 148.0L892.3 148.0L893.8 148.2L894.8 149.3L896.1 149.1L897.2 149.7L897.7 148.6L898.7 148.0L897.5 147.4L896.9 146.2L895.6 146.0L894.3 146.3L893.6 144.9L893.3 143.4L893.8 142.3L894.5 141.4L895.1 140.5L895.7 139.6L896.7 139.4L897.7 139.0L898.8 138.7L899.7 138.0L900.8 137.9L901.8 138.2L902.8 137.9L903.6 137.2L904.8 137.4L906.0 137.4L906.9 138.1L908.0 138.5L908.0 139.7L907.3 140.7L906.7 141.8L905.6 142.4L906.5 143.5L907.8 144.1L907.7 145.0L907.5 145.9L907.6 146.9L907.3 147.8L908.5 148.7L910.0 149.0L909.4 149.8L909.0 150.7L908.6 151.6L907.8 152.2L907.4 153.1L906.6 153.7L907.6 153.1L908.6 153.6L909.5 153.1L910.5 152.9L911.8 152.2L912.7 151.0L912.9 149.6L912.0 148.5L911.1 147.9L910.0 147.5L911.0 146.8L910.7 145.6L911.3 144.7L912.0 143.9L910.5 143.1L909.3 141.9L909.9 141.0L910.8 140.4L911.9 140.8L913.0 140.2L913.8 139.3L914.4 138.2L915.7 139.4L916.4 140.9L917.9 141.7L919.5 141.8L920.4 140.4L921.8 139.4L923.2 140.0L924.5 139.1L925.9 139.2L927.2 139.0L927.4 137.9L927.7 136.8L929.1 136.0L930.3 134.9L931.5 135.9L933.1 136.3L934.1 135.5L935.4 135.7L936.6 135.7L937.8 135.6L939.0 135.9L940.1 135.3L941.3 135.5L942.4 135.8L942.1 134.9L941.7 134.1L942.4 133.2L943.4 132.8L944.3 132.3L945.4 132.4L946.3 131.9L947.1 131.3L948.0 130.8L949.1 131.0L950.1 131.2L951.0 131.6L951.8 130.7L952.8 131.3L953.7 131.0L954.6 130.9L955.5 130.9L956.3 130.3L957.2 130.5L958.2 130.6L959.2 129.8L960.3 130.6L961.5 130.6L962.5 131.0L963.5 130.2L964.6 130.6L965.7 130.6L966.8 130.1L968.0 129.2L969.5 129.9L970.9 130.2L972.2 129.4L973.6 129.6L974.7 128.8L975.9 128.0L977.3 128.4L978.3 129.2L979.6 128.9L980.8 128.1L981.9 129.0L982.9 128.4L983.8 127.8L984.4 126.7L985.7 126.5L986.5 127.2L987.7 127.2L988.8 127.1L989.9 127.2L989.2 128.1L988.2 127.7L987.2 127.6L986.4 127.9L987.6 128.9L989.0 129.3L990.4 128.7L991.8 128.4L993.5 128.4L995.0 128.9L996.0 128.9L996.8 129.4L997.7 129.6L998.6 129.6L999.4 129.2L1000.3 129.0L1001.2 129.6L1002.1 128.9L1003.5 129.4L1004.7 130.2L1006.1 130.2L1007.5 130.1L1008.5 130.7L1009.5 131.1L1009.0 132.3L1007.8 133.3L1006.3 133.1L1004.6 132.8L1003.1 133.5L1001.5 134.0L999.9 134.3L999.0 134.7L998.0 135.0L999.4 135.7L1000.9 135.5L1001.8 134.9L1002.8 135.2L1003.6 135.8L1004.6 136.0L1005.4 136.5L1006.2 137.0L1007.1 136.8L1008.0 137.2L1009.4 137.4L1010.7 137.0L1012.0 136.7L1013.2 136.0L1014.1 135.6L1015.2 135.8L1016.2 135.3L1017.1 136.0L1018.1 136.3L1019.1 136.3L1020.1 136.1L1021.1 136.5L1022.0 136.1L1022.9 135.5L1023.6 136.3L1024.2 137.1L1025.6 138.0L1027.2 138.2L1028.4 138.7L1029.7 139.1L1030.8 138.3L1032.1 138.0L1033.3 138.4L1034.5 138.4L1035.6 139.0L1036.8 139.0L1038.3 138.3L1038.3 136.7L1039.6 136.6L1041.0 136.5L1041.9 137.2L1042.6 138.1L1043.7 137.5L1044.9 138.0L1045.7 138.6L1046.4 139.4L1045.5 140.0L1044.9 140.9L1046.5 141.4L1047.8 142.4L1048.7 143.0L1049.7 143.1L1050.7 143.4L1051.8 143.4L1052.4 142.8L1052.9 142.1L1053.5 141.4L1054.2 140.9L1055.3 140.4L1056.5 140.2L1057.5 140.9L1058.1 141.9L1059.2 141.5L1060.3 141.9L1061.3 141.4L1062.3 141.2L1063.6 141.3L1064.8 141.0L1065.9 141.5L1067.0 142.1L1068.1 142.3L1068.7 141.4L1069.7 141.8L1070.8 141.7L1071.8 142.0L1072.9 141.7L1071.4 141.0L1070.9 139.4L1071.9 139.6L1072.8 139.7L1073.6 139.1L1074.4 138.5L1075.8 137.9L1077.3 138.1L1078.7 139.1L1080.3 138.7L1081.3 138.9L1082.0 139.6L1083.0 139.8L1084.0 139.8L1085.0 139.7L1085.9 139.3L1086.9 139.8L1087.9 139.7L1089.3 138.8L1090.9 139.4L1092.5 139.4L1094.0 139.7L1095.0 140.6L1096.2 141.0L1097.4 141.4L1098.7 141.4L1099.9 142.0L1100.2 143.3L1101.4 143.3L1102.6 143.4L1103.9 142.6L1105.1 143.5L1106.3 143.2L1107.5 143.1L1108.4 142.6L1109.3 142.1L1110.3 141.9L1111.2 141.5L1112.2 141.4L1113.3 141.6L1114.2 142.1L1114.9 142.9L1116.1 142.5L1117.4 142.2L1118.6 142.8L1119.8 143.1L1120.7 143.7L1121.8 144.1L1122.1 145.1L1122.3 146.1L1123.1 146.5L1124.1 146.7L1125.0 146.6L1126.0 146.8L1127.1 146.2L1128.3 146.0L1129.6 146.3L1130.9 146.1L1132.4 146.7L1133.8 147.5L1135.4 147.0L1137.0 146.6L1138.1 146.5L1139.2 146.7L1140.3 146.2L1141.4 146.3L1142.6 146.8L1143.6 147.5L1144.6 148.3L1145.9 148.5L1147.3 148.2L1148.8 147.8L1148.7 146.4L1148.1 145.1L1149.0 145.5L1150.0 145.8L1151.0 146.2L1151.7 147.0L1153.0 147.3L1154.2 148.0L1155.4 147.2L1155.7 145.8L1157.0 146.3L1158.2 145.5L1159.5 145.9L1160.8 145.6L1161.9 145.6L1162.7 145.1L1163.8 145.5L1164.6 144.8L1165.6 145.2L1166.6 145.2L1167.6 145.8L1168.0 146.8L1168.9 146.5L1169.8 146.8L1170.6 147.3L1171.4 147.8M287.0 147.8L288.4 148.4L289.9 148.8L290.8 148.4L291.8 148.1L292.8 148.6L292.9 149.7L293.8 149.9L294.8 149.8L295.5 150.4L296.2 151.1L296.8 151.8L297.7 152.2L298.6 152.3L299.5 152.2L300.7 152.5L301.9 152.5L303.1 152.1L304.2 152.7L305.6 152.4L306.9 152.9L307.9 154.3L309.6 154.6L310.9 154.5L311.8 155.4L310.6 155.9L309.4 156.4L308.4 156.4L307.4 156.5L306.4 156.8L305.4 156.6L305.5 157.7L305.2 158.8L303.5 158.8L302.0 159.3L300.9 158.5L299.5 158.5L298.1 158.7L297.1 157.6L296.3 156.6L295.1 156.2L293.9 156.4L292.4 156.1L290.9 156.6L289.7 155.9L288.2 156.5L287.0 157.6M1171.4 157.6L1169.8 158.2L1168.2 158.6L1166.6 158.9L1165.0 158.6L1166.1 159.3L1167.2 159.8L1168.0 160.8L1168.7 161.8L1169.4 163.0L1168.3 163.5L1167.2 163.2L1166.1 163.5L1165.0 163.7L1164.1 164.5L1162.9 164.2L1162.1 163.4L1161.2 163.0L1160.4 163.6L1159.8 164.4L1158.9 164.9L1158.1 165.4L1156.9 165.3L1155.9 165.9L1155.1 166.6L1154.0 166.5L1153.2 167.1L1152.2 167.4L1151.0 167.7L1149.8 167.0L1149.3 168.1L1148.6 169.1L1147.6 170.1L1146.6 169.9L1145.6 169.6L1144.8 169.1L1144.1 168.4L1142.6 168.9L1141.0 169.4L1140.1 169.7L1139.2 169.4L1138.5 169.9L1137.7 170.3L1136.5 169.4L1135.5 170.1L1134.3 170.6L1133.4 170.5L1132.6 170.5L1131.7 170.3L1130.9 170.1L1130.2 170.8L1130.1 171.8L1129.5 172.5L1128.8 173.2L1127.9 173.7L1127.2 174.3L1127.4 175.2L1128.7 175.9L1130.1 175.7L1130.2 176.6L1130.4 177.5L1130.1 178.3L1129.9 179.2L1128.6 179.2L1127.4 179.4L1126.8 180.3L1126.4 181.4L1127.4 182.4L1126.3 182.5L1125.3 183.0L1124.2 183.3L1123.2 183.8L1123.2 185.3L1122.3 186.5L1121.5 187.1L1120.5 187.1L1119.5 187.0L1118.6 187.0L1117.8 188.3L1117.8 189.7L1116.7 189.7L1115.9 190.4L1115.3 191.3L1114.4 191.9L1113.7 191.2L1113.4 190.2L1113.1 189.3L1112.9 188.4L1112.6 187.5L1112.4 186.5L1111.9 185.2L1111.7 183.8L1111.6 182.4L1111.0 181.1L1111.3 180.3L1111.7 179.5L1112.2 178.6L1112.2 177.7L1113.4 177.1L1114.4 176.2L1114.4 175.2L1115.4 174.9L1116.3 174.7L1117.4 175.3L1118.3 174.5L1119.1 173.4L1120.2 172.4L1121.4 171.7L1122.8 171.6L1123.7 170.8L1124.9 170.4L1126.1 170.1L1126.9 169.1L1128.2 169.0L1129.2 168.2L1130.3 167.8L1131.4 167.2L1131.0 166.0L1131.7 165.0L1132.5 164.2L1133.3 163.5L1131.8 163.4L1130.4 163.7L1129.4 165.1L1127.9 165.9L1127.0 166.4L1127.1 167.5L1126.3 167.6L1125.4 167.7L1124.0 168.4L1122.5 168.6L1122.3 167.7L1121.7 167.0L1121.1 166.2L1120.5 165.4L1118.9 165.6L1117.4 166.0L1116.7 166.5L1115.9 166.9L1115.0 166.8L1114.2 166.4L1113.9 167.4L1113.1 168.0L1112.1 168.2L1111.2 168.5L1110.4 169.2L1109.3 169.0L1109.0 169.9L1108.0 170.3L1109.1 171.1L1110.0 172.1L1108.6 172.1L1107.3 172.0L1105.9 172.4L1104.6 172.5L1103.7 172.2L1102.7 171.9L1101.7 172.2L1100.9 172.8L1100.6 171.9L1100.9 171.1L1099.9 171.2L1098.9 171.7L1098.1 171.0L1097.2 170.6L1096.3 170.7L1095.4 170.6L1094.8 171.4L1094.0 171.8L1092.9 171.9L1091.8 172.0L1090.9 172.7L1090.3 173.6L1089.2 173.2L1088.2 173.1L1087.6 172.2L1086.6 171.6L1085.6 171.7L1084.6 172.0L1083.5 171.7L1082.6 172.5L1081.5 172.5L1080.6 173.1L1079.5 172.8L1078.5 172.3L1077.3 171.7L1076.0 172.1L1074.9 172.9L1073.5 173.0L1073.0 174.1L1072.2 175.1L1071.2 176.0L1070.4 177.0L1069.2 177.5L1068.0 178.2L1066.9 179.1L1065.8 179.9L1064.5 180.5L1063.3 181.2L1062.1 181.9L1061.1 182.8L1062.1 182.7L1063.0 183.3L1064.0 183.3L1065.0 183.1L1065.6 183.9L1066.3 184.6L1067.5 184.6L1068.7 185.1L1069.3 184.3L1070.2 183.8L1071.5 184.1L1072.9 184.1L1074.1 184.2L1075.0 184.9L1075.6 185.8L1076.3 186.8L1076.2 187.9L1076.6 189.0L1075.7 190.3L1074.6 191.4L1074.4 192.9L1074.4 194.4L1074.0 195.3L1073.8 196.3L1073.5 197.3L1073.4 198.3L1072.6 199.3L1071.6 200.1L1070.4 200.6L1069.7 201.7L1068.9 202.4L1068.7 203.4L1067.9 204.2L1067.3 205.2L1066.5 205.9L1065.5 206.4L1064.8 207.2L1063.8 207.8L1063.1 208.6L1062.1 209.1L1061.3 209.8L1060.6 210.5L1059.8 210.9L1058.9 211.2L1058.1 211.7L1057.2 212.0L1055.7 212.0L1055.0 211.3L1054.2 210.8L1053.1 211.3L1052.1 211.7L1051.3 212.6L1050.5 213.5L1049.5 213.2L1048.7 214.1L1047.8 215.0L1047.7 215.8L1047.8 216.7L1046.6 217.2L1045.9 217.9L1045.1 218.4L1043.6 218.5L1042.4 219.4L1042.2 220.6L1043.2 221.5L1044.4 222.3L1045.0 223.1L1045.8 223.6L1046.3 224.4L1046.6 225.3L1047.3 226.7L1047.5 228.2L1047.3 229.7L1046.4 230.9L1045.2 231.1L1044.3 231.8L1043.3 232.3L1042.2 232.4L1041.1 232.5L1040.0 232.6L1039.7 231.4L1039.9 230.4L1040.2 229.4L1039.5 228.2L1039.0 227.0L1040.0 226.7L1041.0 226.5L1039.9 225.7L1039.2 224.5L1038.0 224.0L1037.8 223.8L1036.6 223.9L1035.5 223.5L1036.4 223.0L1036.8 222.1L1036.8 221.0L1036.5 219.9L1035.6 219.5L1034.6 219.1L1033.6 219.2L1032.7 218.9L1031.9 219.3L1031.1 219.9L1030.2 220.4L1029.2 220.8L1027.9 221.3L1026.7 221.6L1027.3 221.0L1027.9 220.4L1027.4 219.4L1028.5 218.8L1029.4 217.9L1028.7 217.3L1027.9 216.7L1027.0 217.1L1026.0 217.4L1025.3 217.9L1024.6 218.5L1023.8 218.7L1023.0 219.1L1022.3 219.8L1021.5 220.6L1020.3 221.0L1019.1 220.8L1018.5 221.5L1017.9 222.1L1018.5 222.9L1019.3 223.5L1020.3 224.0L1021.3 224.0L1021.6 224.9L1022.0 225.7L1023.1 225.5L1024.1 225.2L1024.9 224.4L1026.0 224.0L1027.1 224.4L1028.2 225.0L1029.2 225.1L1030.1 225.3L1030.1 226.5L1029.3 226.9L1028.4 226.8L1027.6 226.8L1026.7 227.0L1026.1 227.8L1025.5 228.4L1024.4 229.0L1023.3 229.7L1022.7 230.5L1022.0 231.4L1023.3 232.0L1024.5 232.6L1024.9 233.9L1025.5 235.1L1026.3 236.1L1026.9 237.3L1027.5 238.5L1028.7 239.2L1028.7 240.2L1028.7 241.2L1027.2 241.7L1027.7 243.2L1029.2 243.9L1028.9 244.9L1028.9 245.9L1028.4 246.8L1028.2 247.8L1026.7 248.1L1026.2 249.5L1025.0 250.5L1024.3 251.3L1023.8 252.1L1023.3 253.0L1023.0 253.9L1022.3 254.6L1021.8 255.3L1021.0 255.9L1020.8 256.9L1020.1 257.7L1019.5 258.6L1018.5 258.9L1017.4 259.1L1016.6 259.8L1015.6 260.1L1014.8 260.7L1013.9 261.1L1012.6 261.4L1011.2 261.3L1010.6 262.1L1009.8 262.5L1008.8 261.8L1008.1 262.4L1007.3 262.8L1006.5 263.2L1005.6 263.4L1004.6 263.5L1003.9 264.0L1002.7 264.4L1001.4 264.5L1001.1 265.9L1000.4 267.2L999.2 267.2L998.8 266.3L998.5 265.5L999.2 264.5L998.3 264.3L997.5 263.8L996.6 263.7L995.7 263.7L994.8 264.0L993.4 263.9L992.1 263.5L991.3 264.3L991.1 265.5L990.2 266.9L989.4 268.4L989.0 269.2L988.9 270.1L989.4 271.7L990.6 272.8L991.5 273.5L991.5 274.6L992.3 275.3L993.0 276.0L994.2 276.6L995.3 277.5L996.6 278.0L996.7 279.4L997.1 280.8L996.2 282.0L996.9 283.1L997.7 284.1L997.3 285.1L997.2 286.2L996.8 287.3L997.5 288.3L996.1 288.7L995.5 290.0L994.6 290.0L993.8 290.2L993.3 291.0L992.6 291.5L991.9 292.9L990.6 293.7L989.9 294.2L989.0 294.6L988.4 295.3L987.6 295.9L987.2 295.1L986.7 294.4L987.0 293.5L987.4 292.7L986.5 291.8L985.4 291.2L984.4 291.3L983.5 291.0L983.0 290.2L982.5 289.5L981.8 288.3L981.3 287.0L980.1 286.6L979.0 286.1L977.9 286.1L976.8 286.1L977.3 285.1L977.3 284.1L976.2 283.7L975.1 284.1L975.0 285.4L974.9 286.8L974.3 287.6L974.0 288.5L973.8 289.5L973.6 290.5L973.4 291.5L972.9 292.4L973.0 293.4L972.9 294.4L973.8 294.6L974.6 294.4L975.2 295.4L975.6 296.6L975.5 297.8L976.1 298.8L976.8 299.3L977.3 300.0L978.8 300.5L979.5 301.0L980.0 301.7L980.8 302.0L981.5 302.7L982.1 303.5L982.9 304.1L983.2 304.9L983.5 305.8L983.2 306.7L983.0 307.9L983.2 308.6L983.5 310.1L984.4 310.8L985.0 311.9L985.2 313.0L985.2 313.8L984.3 313.4L983.5 314.0L982.3 313.1L981.3 312.0L980.4 311.8L979.7 311.2L979.2 310.4L978.3 310.1L978.1 308.9L977.2 308.3L976.6 307.4L976.3 306.3L976.3 305.2L975.4 304.0L975.4 303.1L975.6 302.2L975.1 301.0L974.1 300.3L973.6 299.1L973.3 298.1L972.4 297.6L971.9 296.8L971.2 296.4L970.7 297.8L970.4 296.4L970.7 294.9L970.7 293.7L971.4 292.7L971.1 291.7L971.2 290.7L971.6 289.9L971.9 289.0L971.2 288.4L970.9 287.5L970.9 286.2L971.2 284.8L970.2 283.6L970.0 282.1L969.5 280.7L969.5 279.7L970.0 279.0L969.5 278.2L969.0 277.5L968.4 276.5L968.0 275.5L966.8 275.7L966.3 276.7L964.8 277.4L963.6 278.5L962.1 278.2L960.6 277.7L960.9 276.1L961.4 274.5L961.2 273.4L960.9 272.3L960.6 271.5L960.1 270.7L959.5 270.1L958.9 269.4L959.4 268.7L957.9 268.2L957.1 267.1L956.2 266.2L955.5 265.0L955.2 263.7L954.7 262.5L954.3 261.8L953.7 261.1L952.6 261.0L951.5 261.1L951.8 262.0L951.0 263.5L949.8 263.0L948.8 262.8L947.8 262.8L947.6 263.7L946.7 263.7L945.9 263.7L944.3 263.8L942.9 264.2L942.9 265.2L942.9 266.2L942.2 266.7L941.7 267.4L940.8 267.7L939.8 268.0L939.0 268.5L938.3 269.1L937.8 270.1L936.8 270.6L936.2 271.5L935.3 272.1L934.6 273.0L933.6 273.6L932.4 274.5L931.1 275.3L931.1 276.3L929.9 277.0L928.8 277.4L927.7 277.8L926.5 278.0L926.0 278.9L925.7 279.9L925.5 281.6L926.2 283.1L926.1 284.1L926.5 285.1L925.6 286.0L925.5 287.3L925.0 288.3L925.1 289.4L925.1 290.4L925.5 291.5L924.0 291.7L923.5 292.7L923.0 293.7L923.8 294.4L922.6 294.7L921.6 295.1L921.2 295.9L920.6 296.6L919.6 297.3L918.3 296.4L917.4 295.1L916.8 294.4L916.5 293.5L916.3 292.6L916.2 291.7L915.8 290.4L915.2 289.2L914.4 288.0L913.7 287.0L913.2 285.8L912.9 284.2L912.5 282.6L912.0 281.2L911.4 280.3L910.9 279.4L910.5 278.5L909.8 277.7L909.8 276.5L909.9 275.3L909.0 274.3L908.8 273.1L908.1 271.5L908.0 269.9L907.2 268.4L908.0 266.9L908.1 265.7L907.6 264.5L906.6 264.4L905.8 265.0L904.9 265.4L904.1 266.0L903.2 266.1L902.4 265.7L901.5 265.0L900.4 264.6L899.9 263.7L899.2 262.8L900.2 261.8L899.4 261.1L899.0 260.3L898.2 259.8L897.5 259.3L896.7 258.8L895.8 258.5L894.8 258.4L894.4 257.4L894.0 256.4L893.1 255.6L892.3 254.7L891.2 255.2L890.0 255.2L888.8 255.2L887.7 255.2L886.7 255.1L885.7 255.1L884.7 255.2L883.7 255.2L882.9 255.1L882.0 255.3L881.1 255.3L880.3 255.4L879.1 255.2L877.9 255.3L876.7 255.1L875.6 254.7L874.3 254.1L872.9 254.2L871.6 254.2L870.2 253.9L869.5 252.4L869.2 250.8L868.0 250.5L867.0 250.6L866.0 250.9L864.8 251.4L863.6 252.0L862.1 251.6L860.6 251.2L859.1 250.6L858.2 249.3L857.0 248.8L855.7 248.5L855.1 247.4L854.2 246.3L853.6 245.7L853.2 244.8L852.7 244.0L852.3 243.2L851.1 243.4L850.2 243.0L849.3 242.7L848.6 243.6L847.0 243.4L847.6 244.6L847.4 245.9L847.8 246.6L848.5 247.3L848.7 248.2L849.1 249.0L850.3 249.5L850.8 250.5L851.6 251.2L852.5 251.5L852.6 252.5L852.3 253.5L852.5 254.2L853.3 254.9L854.0 256.1L854.2 255.2L853.8 254.4L854.5 253.2L855.2 253.0L856.0 253.7L856.0 255.2L855.5 256.6L856.0 257.6L856.9 258.2L857.8 258.2L858.7 258.3L859.5 257.9L860.4 257.6L861.0 257.0L861.8 256.4L862.7 256.4L863.6 256.1L864.3 255.2L865.3 254.7L866.0 253.7L867.0 253.0L867.8 252.2L868.0 252.5L867.8 253.5L867.5 253.9L867.8 254.9L867.8 255.9L868.4 256.7L868.7 257.6L870.2 258.4L871.1 258.5L871.9 258.8L873.4 259.1L874.1 260.4L875.4 261.3L876.1 261.8L876.1 262.3L875.3 263.3L874.9 264.5L873.9 265.2L873.7 266.2L872.9 266.9L871.7 266.7L871.2 267.4L870.9 268.7L871.2 270.1L870.9 270.6L869.7 270.6L868.2 271.3L868.0 272.6L867.5 273.1L866.0 273.1L865.1 273.8L865.1 274.8L863.8 275.4L862.4 275.3L860.9 276.0L859.6 276.0L858.8 276.4L857.9 276.7L857.4 278.0L857.4 278.7L856.1 278.8L855.0 279.7L854.0 280.1L853.0 280.3L852.1 280.7L851.1 280.9L849.9 281.8L848.8 282.6L847.6 282.9L846.9 282.6L845.6 283.6L844.7 283.5L843.9 284.1L842.9 284.2L842.0 284.3L841.2 284.3L840.7 285.1L840.0 285.2L839.7 285.8L838.5 285.8L837.8 286.1L836.9 286.0L836.1 286.1L835.3 284.6L835.6 283.1L835.1 282.4L834.6 281.6L834.6 280.7L833.9 279.7L834.3 279.4L834.1 278.5L834.3 278.0L834.3 277.0L833.9 275.8L833.1 275.0L833.1 274.0L831.9 273.3L831.2 272.2L830.4 271.1L830.1 270.1L829.7 269.1L828.9 268.2L828.0 267.4L827.0 267.2L826.1 265.9L825.3 264.7L825.0 263.0L825.3 261.5L824.5 260.2L823.8 258.8L822.6 257.9L821.3 257.4L820.6 255.9L820.6 255.4L819.9 254.2L819.1 253.7L818.7 252.7L818.1 251.7L817.5 250.7L816.7 249.8L816.2 248.8L815.4 248.1L814.2 248.1L814.7 246.8L814.7 245.9L815.1 244.9L814.2 245.6L814.0 246.6L813.7 247.6L813.2 248.8L812.5 249.3L811.6 248.2L810.5 247.3L810.4 246.3L809.8 245.4L809.4 244.5L808.8 243.6L808.9 242.7L809.2 241.9L808.7 241.1L808.6 240.2L809.6 240.2L810.6 240.2L811.7 240.3L812.7 240.5L814.2 239.7L814.7 238.3L815.4 237.1L815.4 235.8L816.1 234.9L816.4 233.8L816.7 232.6L817.4 231.6L817.4 230.8L817.1 229.9L817.9 229.2L818.0 228.1L818.1 227.0L816.7 227.2L815.6 226.9L814.4 226.7L813.3 227.1L812.7 228.2L811.8 228.3L810.9 228.1L810.0 228.5L809.0 228.4L808.3 227.4L807.1 227.2L805.8 226.8L804.4 227.0L803.9 228.0L803.0 228.1L802.2 228.4L800.8 227.9L799.7 227.0L798.4 227.2L797.0 227.0L796.0 225.9L795.5 224.5L794.5 224.1L793.8 223.3L794.5 222.4L795.0 221.3L794.4 220.6L793.6 220.1L793.6 218.9L794.5 217.9L793.7 217.5L793.1 216.9L791.6 216.7L790.4 216.7L788.9 216.9L787.4 217.2L788.3 217.9L789.1 218.6L787.8 218.7L786.4 219.0L785.9 218.3L785.2 217.7L784.7 218.9L785.7 219.7L786.4 220.8L785.6 221.6L786.9 222.6L788.2 223.3L788.2 224.5L787.1 224.1L785.9 224.0L786.7 225.3L785.2 225.5L785.4 226.7L786.2 227.7L784.5 227.7L783.5 227.1L782.5 226.7L782.0 225.8L781.5 224.8L781.3 223.9L781.0 223.1L780.1 221.8L779.5 221.2L778.8 220.6L778.8 219.9L778.3 219.6L778.2 218.9L776.9 218.1L776.6 217.2L777.0 216.3L776.9 215.5L777.1 214.7L776.9 214.2L775.6 213.2L774.6 212.8L773.5 212.2L772.2 211.9L771.0 211.0L769.7 210.9L768.5 210.3L767.6 209.4L766.5 208.6L767.0 208.3L765.8 207.4L765.8 206.4L764.3 206.1L763.5 207.1L762.9 206.4L762.9 205.4L763.3 205.2L762.4 204.9L761.4 204.9L760.5 205.4L759.4 205.6L759.7 206.9L759.4 207.6L760.2 208.8L761.2 209.5L762.4 210.1L763.1 211.0L763.6 212.0L765.0 213.0L766.3 214.1L767.3 214.0L768.3 214.1L769.0 214.7L768.3 215.2L769.4 215.1L770.3 215.6L771.4 216.0L772.2 216.7L773.2 217.4L774.4 217.9L774.6 218.4L774.2 219.4L773.5 218.6L772.7 218.1L771.7 218.0L770.7 217.9L770.1 218.6L769.5 219.4L770.5 219.8L771.5 220.4L771.2 221.6L770.0 221.8L769.4 222.8L768.8 223.8L767.8 224.0L767.8 223.3L768.3 221.8L768.8 221.3L768.2 220.1L767.8 218.9L767.0 218.9L765.8 218.4L765.3 217.4L763.8 216.9L762.6 215.9L761.8 215.6L760.9 215.7L759.9 215.2L758.9 214.7L757.8 213.9L756.7 213.0L755.7 212.6L755.0 211.8L754.5 210.6L754.3 209.3L753.0 209.1L752.0 208.6L751.1 208.1L749.8 208.6L748.6 209.6L747.4 209.8L746.1 210.3L745.2 211.3L744.0 211.1L742.8 210.9L741.7 210.7L740.5 210.5L739.6 210.8L738.7 210.9L737.8 211.2L736.8 211.3L736.5 212.8L736.6 214.2L735.8 215.5L734.4 215.9L732.7 215.9L731.2 216.4L730.9 217.2L730.0 217.7L729.4 218.6L729.0 219.6L728.5 220.6L728.8 221.4L729.4 222.1L728.7 222.5L728.0 223.1L727.7 223.9L727.5 224.8L726.6 224.9L725.8 225.3L725.0 226.2L724.0 227.0L722.6 227.1L721.2 227.2L719.8 227.2L718.4 227.0L717.7 227.6L716.9 228.0L715.9 228.9L715.4 228.7M714.7 229.2L715.6 229.2L716.4 229.2L717.2 229.7L717.9 230.4L719.1 230.3L720.4 230.2L721.6 230.4L722.8 230.7L723.8 230.7L725.1 230.1L726.3 229.4L727.5 228.8L729.0 228.9L729.7 228.4L730.4 228.0L731.7 227.9L732.9 227.2L734.0 227.5L735.0 226.8L736.0 226.7L737.1 226.7L738.0 226.3L739.0 226.4L740.0 226.4L741.0 226.5L742.2 227.0L743.5 226.6L744.7 226.0L745.9 225.6L747.1 226.0L748.1 226.5L749.0 226.4L749.8 226.5L751.1 225.7L752.5 225.5L753.4 225.7L754.3 225.7L754.3 227.0L755.2 226.4L756.2 226.0L756.5 226.5L755.7 226.9L755.2 227.7L755.2 228.9L756.0 229.4L755.9 230.5L755.7 231.6L754.7 231.9L754.0 232.9L754.5 234.1L756.0 234.1L756.4 235.0L757.2 235.8L758.7 236.6L760.4 236.5L761.4 236.3L762.4 236.4L763.3 236.8L765.0 237.1L766.5 237.8L767.0 238.9L767.8 240.0L768.9 240.0L770.0 240.5L770.8 241.0L771.7 240.9L772.5 241.3L773.4 241.4L774.6 242.4L776.1 242.7L777.4 242.2L778.0 241.6L778.6 240.9L778.2 240.0L777.8 239.0L778.6 238.0L779.6 237.5L780.5 236.8L782.0 236.5L782.9 236.4L783.8 236.6L784.6 236.9L785.5 237.0L786.2 238.0L787.2 238.0L787.9 238.5L789.2 238.5L790.4 238.7L791.1 239.5L792.7 239.5L794.3 239.5L795.5 239.9L796.8 240.2L798.1 240.3L799.2 240.9L800.2 241.2L801.2 240.9L802.2 240.5L803.1 239.7L804.2 239.7L805.3 239.5L806.2 239.7L807.1 240.0L807.7 241.2L808.6 240.2L808.8 241.1L808.8 241.9L808.7 242.8L808.8 243.6L809.3 244.9L809.6 245.7L809.5 246.6L810.5 247.2L811.0 248.3L812.0 249.1L812.5 250.3L812.7 251.6L813.0 253.0L814.0 254.2L814.5 255.5L815.2 256.6L815.6 257.7L816.4 258.6L816.4 260.3L817.2 260.9L817.9 261.4L818.6 262.0L819.4 262.5L819.9 263.3L820.1 264.4L820.6 265.5L819.9 266.9L820.3 268.4L820.8 269.9L821.3 271.3L822.4 272.1L823.5 272.8L824.2 274.3L825.0 275.8L825.1 277.0L825.7 278.0L826.3 278.6L827.0 279.2L827.7 279.9L828.7 280.4L829.6 280.8L830.4 281.4L831.0 282.1L831.6 282.9L832.4 283.6L833.1 284.3L833.9 285.1L835.1 285.8L835.6 286.5L835.6 287.6L834.1 288.3L835.1 288.8L836.1 289.2L836.6 290.2L837.5 291.5L838.8 291.5L840.0 291.0L841.2 290.7L842.5 290.7L843.7 290.5L844.8 290.1L845.9 289.7L847.1 289.5L848.1 289.0L849.3 289.0L850.3 289.0L851.3 288.5L852.8 288.3L853.8 287.5L854.7 287.5L854.7 288.3L854.7 289.6L854.5 291.0L854.0 291.7L853.9 293.1L853.5 294.4L853.1 295.8L852.3 297.1L852.0 297.9L851.5 298.7L851.3 299.5L850.8 300.3L850.0 301.0L849.3 301.9L848.9 302.9L848.6 304.0L848.2 304.8L847.5 305.3L847.1 306.1L846.4 306.7L845.7 307.4L845.0 308.2L844.1 308.9L843.7 309.8L842.3 310.7L841.2 312.0L840.2 312.6L839.6 313.5L838.6 314.0L837.5 314.3L836.2 315.1L835.1 316.2L834.4 316.9L833.6 317.6L833.2 318.6L832.4 319.2L831.9 320.4L831.4 321.1L830.6 321.6L829.7 322.1L828.9 323.1L828.2 323.3L828.0 324.2L827.7 325.0L827.0 326.0L826.5 327.5L825.5 328.5L825.1 330.0L824.3 331.4L824.5 332.9L826.0 333.6L826.2 334.4L825.5 335.8L825.7 336.6L825.5 337.8L826.2 339.3L826.3 340.7L827.2 341.7L828.2 342.2L828.7 343.4L828.9 344.7L828.4 345.9L828.4 346.9L828.9 347.8L828.9 348.8L828.7 349.8L828.6 350.8L828.9 351.8L829.4 353.0L828.8 353.7L828.7 354.7L828.4 355.7L827.7 356.4L826.9 357.1L826.2 357.9L825.1 358.6L823.8 358.9L822.5 359.6L821.1 360.1L820.6 360.9L819.7 361.4L819.0 362.1L818.4 362.8L817.4 363.0L816.8 364.3L815.7 365.0L814.7 365.5L814.4 366.3L814.4 367.2L814.9 368.3L815.7 369.2L816.2 370.4L816.2 371.1L816.7 371.1L816.4 372.3L816.4 373.6L816.2 374.6L816.7 375.1L816.4 376.0L815.2 377.0L814.2 377.4L813.2 377.8L811.6 378.2L810.3 379.2L809.3 380.0L809.5 380.9L810.0 381.2L809.8 382.2L809.8 383.1L809.8 384.8L809.0 386.3L808.3 387.6L807.5 388.2L806.6 388.8L806.1 389.0L805.1 390.3L804.4 391.5L803.9 392.5L803.1 393.2L802.4 393.8L801.8 394.6L800.9 395.2L800.2 395.9L799.4 396.7L798.5 397.4L797.6 397.9L796.8 398.3L795.4 398.7L794.1 399.3L792.8 399.6L792.6 400.3L791.1 400.3L789.9 400.3L788.6 399.9L787.2 399.8L785.7 400.1L784.7 400.1L783.5 400.9L782.0 401.0L781.1 401.3L780.1 401.3L779.3 401.8L778.6 402.3L777.4 402.3L776.4 401.5L775.6 401.3L774.4 400.3L774.4 400.6L773.9 400.1L774.2 398.6L773.7 397.7L773.2 396.9L773.9 396.4L773.9 394.7L773.3 393.4L772.4 392.2L771.5 391.4L771.2 390.3L770.5 389.6L770.4 388.6L769.9 387.8L769.2 387.1L768.6 385.9L767.5 385.1L766.8 384.4L766.5 383.4L766.0 382.4L766.0 381.3L765.6 380.3L765.3 379.2L765.0 378.3L765.0 377.4L764.8 376.4L764.6 375.5L764.5 374.1L764.6 372.6L764.3 371.1L763.3 370.2L762.8 369.2L762.1 368.2L761.8 366.5L760.6 365.2L760.3 364.4L760.2 363.5L759.3 362.3L758.2 361.3L758.1 360.3L757.9 359.4L757.7 357.9L757.9 356.8L758.2 355.7L758.8 354.7L758.9 353.5L759.2 352.3L759.4 351.1L759.9 350.0L760.4 349.1L761.1 348.3L761.9 347.6L762.6 346.4L762.5 345.5L762.9 344.7L762.9 343.2L762.1 342.4L761.4 341.0L760.9 339.5L760.9 338.9L761.6 338.0L761.1 336.9L760.9 335.6L760.6 334.7L760.4 333.9L759.9 333.1L759.2 332.4L759.4 331.9L760.4 331.7L759.4 331.2L759.3 330.3L759.2 329.5L758.4 329.2L757.7 327.7L756.5 326.7L755.8 326.1L755.2 325.5L754.6 324.9L754.0 324.2L753.2 323.2L752.3 322.1L751.5 320.9L750.8 319.6L750.8 318.9L751.3 318.2L751.6 317.2L752.0 316.2L752.5 315.4L752.5 314.5L753.3 314.3L752.7 312.8L752.8 311.3L753.0 310.3L753.3 309.3L752.7 308.6L752.3 307.9L751.1 307.4L750.6 306.2L750.1 305.9L750.1 305.2L748.9 305.7L747.6 306.2L746.6 305.9L745.7 306.7L744.7 306.4L743.7 306.4L743.1 305.7L742.5 304.9L742.0 304.0L741.5 303.2L740.7 302.2L739.8 301.5L738.0 301.5L736.9 301.5L735.8 301.5L734.9 301.9L733.9 302.0L732.9 302.3L731.9 302.5L731.2 302.7L730.2 303.0L729.2 303.2L728.0 304.0L726.5 304.7L725.4 305.0L724.4 305.4L723.3 305.0L722.1 304.7L721.1 304.7L720.2 304.4L719.4 304.2L717.9 304.2L716.4 304.1L715.0 304.7L714.1 305.2L713.2 305.4L712.0 305.9L710.8 306.4L710.3 306.2L709.6 306.2L708.5 305.2L707.1 304.7L705.8 304.2L704.9 303.2L703.6 302.9L702.7 302.0L702.1 301.0L701.2 300.3L700.5 300.0L699.6 299.5L698.7 299.1L698.2 298.4L697.5 297.8L697.0 296.8L696.8 296.0L696.8 295.1L696.3 294.3L695.5 293.7L694.6 292.7L693.3 291.9L693.1 290.7L692.8 290.2L692.1 290.0L691.3 289.4L690.6 288.8L689.6 288.8L689.2 288.0L689.2 287.6L688.4 287.0L688.2 286.5L688.0 285.6L687.9 284.6L688.2 283.6L687.5 282.7L687.2 281.6L686.0 280.9L686.9 280.4L687.8 279.7L688.2 278.7L688.7 277.5L689.6 276.5L689.8 275.5L689.6 274.5L689.4 273.7L689.2 272.8L689.0 271.5L689.2 270.1L688.9 268.9L689.2 267.7L688.7 266.4L687.9 266.0L687.2 265.5L687.4 264.5L687.5 263.3L688.4 262.5L689.2 261.3L689.2 260.6L689.5 259.7L689.9 258.8L690.6 257.9L691.4 257.1L692.1 256.9L692.8 255.4L693.5 254.0L693.8 252.5L695.3 251.7L696.2 250.4L697.0 249.0L698.2 248.3L699.4 248.3L700.5 248.1L701.5 247.3L702.4 246.3L703.7 245.6L704.8 244.8L705.6 243.6L705.2 242.1L705.1 240.5L705.6 239.5L706.1 238.5L706.4 237.0L707.3 236.5L707.8 235.6L709.0 234.8L710.3 234.3L711.3 233.9L712.2 233.3L713.4 232.3L714.0 230.9L714.2 230.0L714.7 229.2M614.2 114.4L615.3 114.3L616.3 114.1L617.4 113.9L618.4 113.6L619.0 114.9L620.4 115.4L621.9 115.2L622.6 113.9L623.7 113.6L624.7 113.2L625.9 112.9L626.8 113.7L627.9 114.2L629.0 114.0L630.1 113.8L630.9 113.0L632.1 113.3L633.2 113.0L634.3 113.3L635.3 113.7L636.3 113.6L636.6 112.6L636.7 111.7L636.7 110.9L638.0 111.8L639.5 112.3L640.6 111.7L641.5 110.9L642.6 110.2L643.7 109.9L645.1 109.2L646.6 109.6L647.3 110.9L648.1 112.0L649.2 112.1L650.2 111.7L651.2 112.1L651.7 113.1L652.6 113.6L653.6 113.4L654.3 112.7L655.4 112.7L656.3 112.3L657.4 112.4L658.0 111.6L658.9 111.2L659.9 112.3L660.2 113.7L661.4 113.0L662.6 112.2L663.2 111.1L664.4 110.7L665.3 109.9L666.2 109.2L667.2 108.1L668.6 108.6L669.6 109.3L670.8 109.8L672.0 110.0L673.1 109.8L673.8 110.8L674.8 111.4L675.8 112.1L676.1 113.2L676.9 114.1L678.1 114.2L676.9 114.6L675.9 115.4L674.6 116.0L673.4 115.2L672.6 115.5L671.9 116.1L671.9 117.0L671.9 117.9L670.8 117.4L670.1 116.4L669.3 117.3L668.8 118.3L667.5 117.8L666.3 117.2L667.0 116.0L667.7 114.9L666.8 114.3L665.9 114.6L665.2 115.6L664.1 115.2L663.6 116.4L663.6 117.8L662.2 118.0L660.9 117.8L660.2 118.7L659.2 119.1L659.9 119.8L660.5 120.8L659.9 119.9L659.3 119.2L658.5 119.9L657.6 120.2L656.6 119.8L655.9 119.0L655.1 118.3L654.3 117.7L653.2 117.6L652.2 117.0L651.5 116.3L650.8 115.4L652.1 115.9L653.4 115.6L654.5 115.0L655.8 115.6L656.4 116.9L657.6 117.1L658.8 117.1L659.4 116.0L660.7 115.7L660.7 114.1L662.3 113.9L663.5 113.5L664.7 113.6L665.2 114.7L666.3 115.3L667.8 115.0L668.3 116.4L669.3 115.7L670.6 115.8L671.7 115.2L672.9 115.7L673.8 116.3L674.9 116.6L673.8 117.8L672.2 117.9L673.5 117.8L673.7 119.1L674.6 118.8L675.6 119.0L676.2 118.2L677.2 118.3L678.0 117.8L678.6 117.1L679.7 117.0L680.6 117.4L681.8 117.4L682.3 118.5L683.1 117.8L683.7 117.0L683.3 115.8L684.4 115.1L684.6 116.1L685.6 116.6L686.3 115.9L687.3 115.8L688.1 116.3L688.7 117.0L689.4 116.2L690.4 116.2L691.5 116.7L692.7 116.6L693.2 117.7L693.9 118.6L694.9 118.1L695.8 117.4L696.7 116.9L697.8 116.6L698.3 117.4L699.2 117.6L697.9 117.8L696.5 117.4L695.1 117.7L693.9 116.8L692.2 116.6L691.6 118.1L690.3 118.7L689.2 119.3L688.1 120.0L686.9 120.0L686.0 121.0L684.7 120.4L683.6 119.8L682.4 119.4L681.1 119.5L680.1 120.3L681.5 119.9L682.9 119.5L684.4 119.9L685.7 120.6L684.3 121.6L682.8 122.3L681.7 122.8L680.8 123.8L680.8 125.2L680.8 126.7L682.1 127.9L683.8 128.2L682.5 127.9L681.8 126.8L681.0 127.7L680.1 128.4L679.1 129.2L678.0 128.7L676.9 128.9L675.9 129.2L677.2 128.3L678.8 128.5L679.8 129.6L681.0 130.4L680.5 131.5L681.0 132.6L679.7 132.9L678.3 132.6L679.4 132.7L680.1 133.5L680.4 134.6L681.5 134.8L680.2 134.9L678.8 134.8L677.5 135.1L676.1 135.0L677.6 135.4L679.1 136.0L678.1 136.8L677.0 136.2L676.4 137.2L675.5 137.1L674.7 137.2L674.0 136.4L672.9 136.8L672.1 137.0L671.2 137.2L671.7 138.2L672.7 138.4L673.4 139.2L674.4 139.0L674.4 139.9L674.2 139.0L673.2 138.5L672.6 139.2L671.9 139.8L670.7 139.3L669.5 139.0L668.3 139.7L669.0 138.7L670.2 138.5L670.9 139.4L671.7 140.2L672.6 139.2L673.8 139.9L674.7 140.5L674.9 141.7L676.1 142.3L675.6 143.6L674.7 144.1L673.6 144.1L672.5 144.1L671.5 144.1L670.6 143.5L669.5 143.1L668.0 142.5L666.6 141.9L667.3 143.4L666.4 143.5L665.6 143.6L665.5 144.8L664.3 144.8L665.5 143.8L666.9 144.3L668.4 144.4L669.4 143.4L671.1 143.3L672.5 142.4L673.5 142.7L674.5 143.0L674.5 144.1L674.4 145.1L673.7 144.4L672.8 143.8L671.8 144.1L670.8 143.8L670.2 144.6L669.3 145.1L668.3 145.2L667.4 145.6L667.6 146.9L667.5 148.2L666.1 147.9L665.1 148.9L663.9 148.4L663.1 149.4L662.2 149.0L661.2 149.0L660.2 148.3L659.4 147.4L658.0 148.0L657.1 146.8L655.9 147.2L655.4 148.3L654.4 149.0L653.8 150.0L652.4 149.7L651.1 150.0L649.6 150.0L648.6 151.0L647.8 152.2L648.0 153.7L646.6 153.4L645.2 153.4L644.4 154.1L644.2 155.2L643.0 155.1L642.4 154.1L641.0 154.5L639.8 155.2L638.3 155.9L637.7 154.9L636.6 155.4L635.8 156.0L634.9 155.9L633.8 155.8L633.2 156.8L632.4 156.1L631.4 156.4L630.3 157.2L629.2 158.1L628.9 158.9L629.2 159.8L628.1 160.1L628.0 161.3L626.7 162.2L625.5 161.2L625.2 162.6L624.1 163.2L624.1 164.4L625.0 165.2L624.4 166.3L623.6 167.3L622.9 168.4L622.6 169.6L621.7 170.3L620.9 169.7L620.0 169.5L619.1 169.8L618.4 169.0L617.7 168.1L616.6 167.5L615.5 167.6L614.3 167.1L613.0 167.1L611.7 166.8L610.5 167.6L609.1 167.6L608.3 166.4L607.8 164.9L606.6 164.0L605.2 163.2L603.7 163.6L603.6 162.1L602.4 161.0L601.7 160.2L601.2 159.3L601.1 158.2L600.7 157.1L599.6 157.1L598.6 156.6L597.1 156.4L597.3 154.9L598.9 154.7L598.3 153.2L597.6 152.3L596.5 152.2L597.3 151.6L597.8 150.8L598.5 150.0L599.0 149.3L600.0 149.1L600.9 148.8L600.7 147.8L600.4 146.9L601.8 147.4L602.7 148.5L603.7 147.5L603.5 146.5L604.2 145.6L603.2 146.2L602.0 146.1L601.2 147.0L600.0 146.8L598.9 147.5L597.8 147.0L597.4 146.1L596.6 145.5L595.5 145.4L594.8 146.3L595.0 145.4L594.6 144.6L595.6 143.4L596.8 143.5L598.0 143.4L599.6 142.8L600.7 141.5L601.6 142.8L602.9 143.9L601.6 144.0L600.9 142.9L599.9 142.4L598.8 142.4L597.6 142.2L596.5 141.7L595.4 142.2L594.1 141.9L593.0 141.7L592.1 141.2L593.3 141.9L594.5 141.3L594.3 140.1L594.8 139.0L593.3 138.1L593.0 136.5L591.4 136.5L591.3 135.3L590.1 135.0L589.2 134.5L588.4 133.8L586.9 133.2L585.2 132.8L585.2 131.8L584.9 130.8L584.1 130.1L582.9 129.8L582.5 128.7L581.3 128.7L580.1 128.6L579.4 129.5L578.6 130.4L577.3 131.1L576.0 131.8L574.3 131.6L573.4 130.1L571.8 130.5L570.1 130.7L568.5 130.2L566.8 130.4L566.1 129.8L565.6 129.0L564.8 129.2L563.9 129.2L563.0 128.8L562.1 129.1L561.8 130.0L560.9 130.4L559.6 129.5L558.0 129.6L557.4 128.4L556.0 128.5L555.0 127.9L553.8 128.2L555.2 127.3L556.9 126.8L557.9 126.8L558.4 127.6L559.3 127.6L560.2 127.4L561.4 126.9L562.6 127.4L563.9 127.1L565.1 127.2L564.7 126.1L565.0 125.1L563.9 125.0L562.8 125.3L561.3 125.2L560.0 126.0L559.1 125.7L558.1 125.8L557.8 126.7L557.6 127.6L556.3 126.8L554.8 126.7L553.9 127.4L553.6 128.4L552.6 128.2L551.6 128.4L550.9 127.9L550.3 127.1L549.8 126.3L549.1 125.7L549.4 124.7L550.3 125.9L551.8 125.8L552.9 125.1L554.1 124.6L555.2 125.6L556.7 125.5L556.5 124.5L556.7 123.5L557.7 123.3L558.7 123.5L560.1 123.6L561.4 123.4L562.0 122.1L563.0 121.1L564.2 121.8L565.1 123.0L566.2 121.7L567.8 122.3L568.8 121.3L568.1 122.1L567.3 122.8L566.3 123.2L565.3 122.8L564.2 122.5L563.2 122.4L562.8 121.4L562.1 120.6L562.9 119.7L564.1 119.6L565.7 119.7L567.2 119.2L568.5 120.1L569.0 121.7L569.0 120.0L569.3 118.3L570.2 118.4L571.1 118.8L571.8 118.1L572.7 117.9L573.9 117.5L574.7 116.6L575.2 115.4L576.4 115.0L577.6 115.1L578.8 115.2L580.1 115.1L581.1 115.9L582.0 116.3L583.0 116.1L584.1 115.9L584.9 116.6L586.0 116.7L587.0 116.7L587.8 116.1L588.7 115.4L589.7 115.7L590.8 115.4L591.7 114.8L592.5 114.1L592.2 113.0L593.3 112.5L594.2 112.6L595.0 113.1L594.8 114.7L596.3 115.4L597.7 115.5L599.0 116.2L599.9 115.8L600.8 116.3L601.6 116.7L602.4 116.9L603.5 117.0L604.4 116.6L605.0 115.9L605.4 114.9L607.0 114.5L608.3 115.4L609.8 115.3L611.3 115.7L612.0 116.3L613.0 116.3L613.9 116.5L614.7 116.0L616.0 115.4L617.4 115.4L618.4 116.6L619.9 116.6L619.1 116.1L618.6 115.3L618.0 114.7L617.3 114.1L616.5 114.4L615.5 114.4L614.9 115.2L614.0 115.4L614.2 114.4M513.0 136.8L514.3 136.6L515.5 136.1L516.9 136.1L517.9 135.3L519.2 135.3L520.5 135.5L521.9 135.7L522.8 136.8L524.0 136.1L525.3 135.7L526.5 135.2L527.7 134.5L528.9 135.4L529.7 136.6L531.2 136.0L532.7 136.3L533.4 137.0L534.3 137.4L535.2 138.0L536.2 137.9L537.2 138.2L538.1 138.5L539.0 138.8L540.0 138.7L541.0 139.0L541.8 139.6L542.7 140.0L543.6 140.1L544.5 140.6L545.4 141.0L546.4 140.6L547.4 140.9L547.9 142.0L548.8 142.8L549.8 142.3L551.0 142.4L552.2 142.2L552.8 143.3L553.8 143.2L554.8 143.4L555.6 143.0L556.6 142.9L557.3 143.5L557.8 144.3L559.3 145.0L560.9 144.8L561.8 145.5L562.7 146.0L563.7 146.5L564.6 147.0L565.4 147.4L566.1 148.0L565.7 148.9L565.8 149.7L566.6 149.3L567.5 149.4L568.3 149.9L569.0 150.4L569.9 149.6L571.0 150.0L571.8 150.7L572.0 151.7L573.2 152.5L574.7 152.4L576.1 152.9L577.4 153.4L576.5 154.9L574.9 155.4L573.6 154.6L572.3 155.5L571.7 156.7L570.7 157.6L569.8 157.1L569.0 157.6L568.5 158.4L568.3 159.3L569.3 160.7L570.5 161.8L569.4 162.7L568.3 163.7L567.1 164.5L565.8 165.2L564.5 165.1L563.3 165.1L562.3 164.1L560.9 164.0L559.9 163.6L559.1 162.7L559.1 161.6L559.1 160.5L558.1 161.2L557.9 162.2L557.0 162.8L556.0 163.0L555.4 162.0L554.2 162.1L553.1 162.2L552.3 161.5L551.8 160.0L550.6 158.8L549.6 159.1L549.1 160.0L548.2 159.6L547.4 159.1L545.9 159.6L544.4 160.1L543.8 159.6L543.0 159.2L542.1 159.3L541.3 159.6L540.1 159.2L539.4 158.1L538.3 158.4L537.1 158.6L537.8 157.4L538.8 156.6L539.8 156.8L540.6 156.2L541.5 156.0L542.5 156.1L543.4 156.1L544.3 156.2L545.2 155.5L546.2 155.9L547.1 155.6L548.0 155.4L547.5 154.3L548.6 153.7L550.1 153.2L550.4 151.7L549.5 150.6L548.9 149.5L547.5 150.4L546.2 149.5L544.9 148.5L543.7 147.6L542.1 147.6L540.5 147.8L539.4 146.9L538.0 146.2L536.5 146.3L535.1 145.6L534.2 145.2L533.3 144.8L532.2 144.7L531.4 145.5L530.6 145.1L529.6 145.0L528.7 145.0L527.8 145.3L526.4 145.0L525.0 144.8L524.4 143.5L523.7 142.3L522.3 142.0L520.9 142.4L520.3 143.7L519.2 144.6L518.2 144.2L517.4 143.6L516.5 143.3L515.5 143.7L514.5 143.3L513.5 143.8L512.6 143.5L511.8 142.9L511.5 142.0L510.6 141.6L509.9 141.1L509.3 140.4L510.8 140.2L512.0 139.4L512.8 138.2L513.0 136.8M516.7 158.8L518.0 158.3L519.5 158.3L518.9 157.5L518.7 156.5L519.5 156.0L520.4 155.6L521.3 156.0L522.2 156.2L523.1 156.2L524.1 156.4L525.3 157.2L526.7 157.5L527.8 158.4L529.0 159.3L530.5 160.1L532.2 160.5L530.6 161.0L529.0 161.0L528.0 161.3L527.0 161.0L526.2 160.4L525.3 160.0L524.0 160.6L522.7 160.6L521.5 161.2L520.4 162.0L519.1 161.8L518.0 161.3L516.7 161.3L515.5 161.0L515.7 159.7L516.7 158.8M436.9 141.7L437.6 140.9L438.6 140.7L439.1 139.9L439.3 139.0L440.7 139.2L442.0 139.0L442.6 137.6L444.1 137.2L445.3 137.7L446.6 137.4L447.9 136.9L449.1 137.2L450.1 137.7L450.7 138.6L451.7 138.7L452.7 138.7L453.6 138.4L454.6 138.5L455.5 138.4L456.5 138.5L457.3 137.8L458.3 137.6L459.2 138.1L460.2 138.1L461.1 138.0L462.0 137.8L462.9 137.4L463.9 137.5L464.6 138.1L465.1 138.8L466.0 138.7L466.9 138.4L468.5 138.1L470.0 138.5L470.6 139.6L471.3 140.6L472.0 141.7L472.5 142.9L474.0 143.2L475.5 143.8L476.4 145.1L477.4 146.3L476.4 146.5L475.5 146.2L474.6 145.9L473.7 146.2L472.7 146.1L471.8 146.4L470.9 146.8L470.0 147.0L468.8 147.4L467.6 147.7L466.3 147.6L465.1 147.8L464.2 146.9L463.0 146.9L461.9 147.4L460.8 147.7L459.5 147.5L458.8 146.5L457.6 146.6L456.5 147.0L455.6 146.9L454.7 146.6L453.8 146.6L452.8 146.5L451.9 147.0L451.1 147.7L450.1 147.5L449.1 147.0L448.1 147.8L446.9 147.6L445.7 147.8L444.6 147.9L443.3 147.6L442.8 146.3L441.8 145.6L440.5 145.6L441.2 144.7L441.8 143.9L440.7 142.8L439.2 143.0L438.0 142.4L436.9 141.7M422.1 140.7L422.9 139.7L423.7 138.7L424.6 138.0L425.8 137.5L427.0 137.6L428.1 137.2L429.1 136.6L430.0 135.9L431.2 135.6L432.1 134.9L433.2 134.6L434.4 134.8L435.9 135.4L437.4 135.5L438.2 136.1L439.0 136.5L439.6 135.8L440.5 135.5L441.7 136.4L442.6 137.6L444.1 137.2L445.5 136.8L444.3 136.4L443.1 136.1L441.8 136.1L440.6 135.9L440.2 137.2L439.2 138.1L438.0 138.5L436.9 139.2L435.8 139.8L435.3 140.9L434.2 141.0L433.2 141.7L432.3 142.2L432.1 143.1L431.2 143.3L430.4 143.5L429.5 143.4L428.6 143.6L427.6 143.7L427.0 142.9L426.4 141.5L425.0 140.9L423.6 140.6L422.1 140.7M441.8 129.9L443.0 129.8L444.3 129.9L445.5 129.5L446.7 129.1L447.8 129.9L449.1 129.5L450.4 129.8L451.6 129.4L452.5 128.2L454.0 128.1L455.0 127.1L456.4 126.9L457.9 126.7L459.4 126.6L460.9 127.3L461.4 128.9L462.5 128.5L463.7 128.5L464.2 129.4L465.0 130.3L466.0 130.4L466.9 130.2L467.9 130.6L468.8 130.9L467.8 130.8L466.9 130.5L466.1 131.1L465.0 131.0L464.1 131.6L463.1 131.1L462.4 131.8L461.4 132.1L460.0 132.4L458.6 132.5L457.2 132.6L455.9 131.9L454.6 132.7L453.1 133.1L451.7 132.5L450.4 131.6L449.2 131.6L448.2 132.1L447.1 132.0L446.0 131.6L444.9 132.0L443.8 131.7L442.9 132.4L441.8 132.6L441.4 131.2L441.8 129.9M493.4 131.8L494.2 131.0L495.2 131.4L496.3 131.8L497.1 130.9L497.7 130.0L498.7 129.6L499.7 129.5L500.7 129.6L502.2 130.3L503.8 130.0L505.3 129.5L506.9 129.4L508.4 130.0L509.9 129.8L511.5 129.6L513.0 129.4L513.9 129.6L514.7 130.0L515.6 129.5L516.5 129.5L517.5 129.7L518.0 130.5L518.6 131.1L519.1 131.9L520.6 131.1L522.0 130.1L522.8 129.8L523.7 130.2L524.4 129.8L525.3 129.6L526.2 129.6L527.0 129.4L528.0 129.4L528.6 130.1L528.9 131.0L529.7 131.5L530.5 131.8L531.4 131.8L530.5 132.7L530.2 134.0L529.0 134.1L527.8 134.1L526.8 134.3L525.9 134.6L525.0 134.4L524.0 134.3L523.1 134.3L522.2 134.3L521.2 134.3L520.4 134.9L519.6 135.6L518.7 136.2L517.8 135.3L516.6 135.6L515.9 135.0L515.0 134.6L514.0 134.2L513.0 134.3L511.9 133.7L510.6 133.6L509.4 133.3L508.2 133.0L506.8 132.7L505.7 133.5L504.4 133.4L503.2 133.6L501.9 133.4L500.6 133.3L499.4 133.9L498.1 134.0L496.9 133.4L495.8 132.7L494.6 132.2L493.4 131.8M503.2 117.9L504.1 117.5L505.1 117.7L506.1 118.1L507.1 118.0L507.8 118.9L508.9 118.7L509.9 118.7L510.9 118.6L512.2 118.9L513.5 118.8L514.6 119.3L515.8 119.7L516.0 118.4L516.9 117.5L517.7 116.5L517.9 115.2L519.0 115.4L520.1 115.2L520.8 114.3L521.3 113.3L522.2 113.0L523.2 113.1L524.2 112.6L525.1 113.1L526.1 112.9L527.1 113.0L528.2 112.9L529.0 112.2L530.0 112.3L530.8 113.0L531.6 113.6L532.7 113.5L534.3 113.2L535.8 112.5L536.7 112.1L537.5 111.8L538.2 112.3L539.1 112.6L540.0 112.7L540.9 112.8L541.6 113.4L541.9 114.3L542.8 113.9L543.7 114.3L544.4 114.8L545.0 115.5L545.5 116.3L546.1 117.1L547.1 117.4L548.1 117.3L548.8 116.4L549.2 115.4L550.5 114.9L551.4 116.0L552.7 115.0L554.2 114.4L555.6 113.5L557.2 113.2L558.8 113.7L560.2 114.4L561.5 113.4L562.2 111.9L563.7 112.3L564.6 110.9L565.9 111.6L567.3 111.3L566.5 112.5L567.5 113.5L568.6 114.1L569.7 113.4L570.5 114.8L570.9 116.3L571.3 115.5L572.0 115.0L572.7 114.5L573.5 114.2L574.7 114.6L575.3 113.5L575.9 114.3L576.9 114.7L576.3 115.6L575.7 116.4L574.5 116.4L573.4 116.9L572.3 117.1L571.1 116.9L570.1 117.3L569.1 117.8L568.3 118.8L567.1 118.9L565.8 118.0L564.4 117.5L562.9 117.3L561.5 116.8L560.3 117.8L558.8 118.1L557.9 118.9L556.8 118.8L557.2 119.8L557.2 120.8L556.1 121.5L554.9 122.2L553.7 122.8L552.3 122.5L551.2 122.1L550.0 121.9L549.2 122.8L548.8 123.9L547.8 123.5L546.8 123.5L546.0 124.1L545.0 124.2L543.9 124.1L542.9 124.4L541.9 124.8L541.3 125.7L539.8 126.3L538.2 126.6L536.5 126.7L535.1 127.7L534.1 127.2L533.2 128.0L532.4 128.4L531.5 128.9L530.8 129.6L529.7 129.8L528.8 129.5L527.8 129.4L527.1 128.6L526.2 128.1L525.2 127.8L524.3 127.3L523.4 127.8L522.3 127.8L521.4 127.2L520.3 127.1L519.3 127.3L518.6 128.0L517.6 128.2L516.9 128.9L515.9 129.0L514.9 128.9L514.1 129.8L513.0 129.6L512.1 129.2L511.3 128.4L510.4 127.9L509.3 127.7L510.2 127.9L511.1 127.5L511.8 127.0L512.2 126.2L513.8 125.9L515.5 126.2L514.2 125.6L513.0 124.7L513.9 124.6L514.9 124.6L515.8 124.0L516.8 124.3L517.5 123.7L518.5 123.5L519.5 123.6L520.4 123.3L519.3 122.6L518.0 122.2L516.8 121.6L515.5 121.3L514.1 122.0L512.6 121.5L512.3 122.3L511.9 123.1L511.0 122.9L510.1 122.9L508.7 122.4L507.3 122.0L506.4 120.9L505.6 119.6L504.0 119.3L503.2 117.9M495.8 117.6L496.7 117.5L497.6 117.3L498.3 117.8L499.1 118.1L499.8 117.6L500.4 117.0L500.3 116.0L500.9 115.3L501.9 116.4L503.1 117.1L504.4 117.7L505.6 118.4L506.3 119.3L506.8 120.4L507.6 121.3L508.5 122.0L509.8 121.9L511.0 122.1L512.0 121.5L513.0 120.8L512.1 121.6L510.9 121.9L510.3 123.0L510.0 124.2L508.9 123.7L507.9 123.2L506.9 122.5L505.6 122.8L504.5 123.4L503.4 124.1L502.1 124.5L500.7 124.5L499.7 124.1L499.2 123.1L498.5 122.2L497.4 122.3L496.4 122.1L495.4 121.7L494.4 121.9L493.4 122.0L493.5 120.7L493.8 119.4L495.1 118.8L495.8 117.6M481.1 136.3L482.2 136.7L483.4 137.0L484.5 136.5L485.4 135.6L486.5 135.5L487.6 135.2L488.7 135.4L489.7 136.0L490.4 136.8L490.3 137.8L491.2 138.3L492.1 138.5L491.6 139.7L491.0 141.0L490.0 142.1L488.4 141.9L487.4 141.3L486.2 141.2L485.1 140.6L484.4 139.6L483.3 139.7L482.1 140.0L480.9 139.9L479.8 140.4L478.7 139.4L477.4 138.5L478.5 138.2L479.5 137.8L480.3 137.1L481.1 136.3M494.6 136.0L495.9 135.3L497.4 135.2L498.8 134.8L500.0 134.2L501.2 135.2L502.7 135.5L504.2 136.0L505.6 135.5L506.4 136.0L507.2 136.5L507.7 137.3L507.4 138.2L506.3 137.8L505.2 137.5L504.2 137.8L503.1 138.2L502.4 139.1L501.8 140.1L500.6 139.9L499.5 140.4L498.2 139.8L496.8 140.1L495.5 139.5L494.6 138.5L495.0 137.2L494.6 136.0M482.3 129.4L483.5 129.0L483.9 127.7L484.9 127.1L486.0 126.7L487.0 127.3L488.2 127.5L488.7 128.6L489.7 129.4L489.3 130.2L488.6 130.8L488.5 131.7L488.4 132.6L487.2 132.2L486.0 132.3L484.7 132.3L483.5 132.8L482.4 131.9L481.1 131.4L481.8 130.4L482.3 129.4M434.4 128.2L435.6 128.8L436.9 129.4L438.2 129.1L439.6 129.1L441.1 129.5L442.7 129.4L442.9 127.8L444.2 126.7L444.7 127.5L445.2 128.2L446.1 128.4L446.7 129.2L445.7 129.0L444.7 129.2L444.0 129.9L443.0 130.1L442.2 130.5L441.2 130.5L440.3 130.5L439.3 130.6L438.4 131.4L437.2 131.8L436.1 131.2L435.0 130.8L433.8 130.7L432.7 131.0L431.8 130.2L430.7 129.9L431.7 129.5L432.3 128.5L433.3 128.2L434.4 128.2M483.5 147.8L484.8 148.1L486.1 147.7L487.0 146.7L487.7 145.7L488.9 145.8L490.0 146.3L490.9 147.1L492.1 147.3L492.4 148.1L492.9 148.9L493.8 149.2L494.6 149.5L493.3 149.3L492.1 149.8L490.9 150.5L489.7 150.7L488.9 149.5L487.4 149.3L486.1 149.4L484.8 149.5L483.6 149.0L483.5 147.8M473.7 123.8L474.7 124.2L475.8 124.2L476.9 124.8L478.0 124.6L479.1 124.7L480.2 124.9L481.4 124.7L482.3 124.0L481.4 125.0L481.1 126.2L480.1 125.9L479.1 125.7L478.0 126.1L477.3 126.9L476.4 126.8L475.4 126.7L474.6 126.2L473.7 125.7L473.6 124.7L473.7 123.8M492.1 132.3L492.8 131.7L493.6 131.5L494.3 132.1L495.2 132.2L496.7 131.5L498.3 131.6L498.8 132.5L499.5 133.3L498.1 134.2L496.5 134.6L494.9 134.2L493.4 133.8L492.8 133.1L492.1 132.3M459.0 125.0L460.3 125.9L461.8 125.6L462.5 124.2L463.8 123.5L464.7 124.6L466.2 124.7L467.5 124.9L468.8 124.7L467.6 125.5L466.6 126.4L465.2 126.4L463.9 126.2L462.6 126.1L461.4 125.6L460.0 126.0L459.0 125.0M524.1 162.7L525.2 163.4L526.4 163.9L527.6 163.1L529.0 163.5L528.1 164.8L526.5 164.5L525.4 163.5L524.1 162.7M533.2 165.4L533.5 164.6L534.4 164.2L533.9 164.9L533.2 165.4M583.5 200.3L583.3 199.2L583.3 198.0L584.7 197.6L585.7 196.6L586.6 195.7L587.5 194.9L587.9 193.8L588.2 192.7L589.2 192.3L589.9 191.6L590.6 190.8L591.6 190.4L593.1 190.7L593.0 191.6L592.3 192.3L591.9 193.1L591.6 193.9L592.9 194.6L594.1 194.9L595.3 195.3L596.6 195.7L597.8 196.3L597.3 197.2L597.0 198.0L598.0 198.6L599.0 198.8L599.3 199.7L599.7 200.5L599.2 201.5L598.8 202.5L597.5 202.7L596.0 202.2L596.4 201.3L596.5 200.3L595.8 200.9L595.1 201.7L594.1 201.9L593.1 202.0L591.9 201.3L590.9 200.3L589.9 200.3L589.0 200.0L588.1 200.2L587.2 200.4L586.3 200.4L585.4 200.5L584.5 200.0L583.5 200.3M570.7 194.6L571.6 194.9L572.4 195.5L573.2 195.9L574.0 196.2L574.9 196.2L575.8 196.3L576.7 196.6L577.6 196.6L576.2 196.3L574.9 195.8L573.8 195.6L572.8 195.5L571.7 195.2L570.7 194.6M571.0 202.7L572.4 203.0L573.9 203.1L575.4 203.2L576.9 203.2L575.5 203.9L573.9 203.7L572.6 202.8L571.0 202.7M413.8 192.4L415.0 192.8L416.2 193.4L417.0 193.9L417.8 194.5L418.6 195.3L419.7 195.1L420.7 195.9L421.1 197.1L422.1 197.2L423.0 197.2L423.7 197.9L424.6 198.3L425.4 198.3L426.3 198.3L425.5 197.5L425.6 196.3L424.5 195.8L424.4 194.6L423.4 194.6L422.4 194.9L421.3 194.4L420.1 194.7L418.7 194.6L418.4 193.1L417.2 193.9L416.1 193.0L415.0 192.4L413.8 192.4M402.5 184.3L404.0 184.8L405.7 184.6L406.0 185.9L405.2 187.0L406.6 187.8L407.4 189.2L406.2 189.4L405.4 188.6L404.4 188.2L403.7 187.5L404.1 186.5L403.3 185.8L403.6 184.7L402.5 184.3M398.8 174.8L400.0 174.8L401.0 175.5L401.4 176.6L402.5 177.2L401.4 177.9L400.5 178.7L399.3 179.0L398.0 179.2L397.4 178.2L396.3 178.3L395.8 177.4L395.6 176.5L396.3 175.9L397.0 175.2L397.9 174.9L398.8 174.8M401.7 178.9L402.0 179.8L402.1 180.7L403.0 180.9L403.7 181.6L402.2 181.7L401.0 180.9L401.6 180.0L401.7 178.9M349.6 174.8L351.0 174.5L352.4 174.5L353.8 174.5L355.0 175.0L353.8 176.1L352.6 177.2L351.7 177.2L350.8 177.0L349.9 177.1L349.2 176.5L349.4 175.6L349.6 174.8M307.1 160.5L308.0 160.3L309.0 160.3L309.8 159.8L310.8 160.0L311.6 160.6L312.0 161.5L313.1 161.4L314.0 161.8L312.4 161.5L310.8 162.0L310.0 161.4L308.9 161.4L307.8 161.4L307.1 160.5M319.4 168.9L320.4 168.9L321.2 168.5L321.9 169.1L322.6 169.6L321.5 169.6L320.7 170.3L320.2 169.5L319.4 168.9M346.2 267.4L347.5 268.4L348.9 269.1L347.7 269.7L346.7 270.6L346.4 269.6L346.0 268.7L346.2 267.4M344.2 265.5L345.2 265.6L346.2 266.0L344.7 266.4L344.2 265.5M340.3 264.0L341.8 264.7L340.8 264.7L340.3 264.0M336.6 262.5L337.9 262.8L337.1 263.3L336.6 262.5M520.5 263.3L521.9 262.5L522.6 261.8L523.3 261.1L524.2 260.7L525.1 260.3L526.1 260.2L527.0 260.1L528.1 260.2L529.1 260.6L530.2 260.7L531.2 260.3L532.3 260.7L533.4 261.1L534.3 261.3L535.0 261.8L535.9 261.9L536.8 261.8L537.8 262.0L538.4 262.6L539.1 263.1L539.8 263.7L540.7 264.4L541.3 265.3L542.4 265.3L543.5 265.5L544.4 265.7L545.3 266.1L546.2 266.5L546.9 267.2L545.7 267.7L544.6 268.1L543.5 268.2L542.6 268.0L541.6 268.2L540.7 268.2L539.8 268.2L538.3 268.2L539.0 267.5L539.8 266.9L538.7 266.2L537.3 266.2L536.6 265.1L535.9 264.0L534.4 264.0L533.4 263.4L532.2 263.5L531.1 263.8L530.1 263.4L529.1 263.1L528.2 262.5L527.3 262.0L528.2 261.5L526.9 261.3L525.5 261.3L524.9 262.0L524.1 262.5L523.2 263.1L522.1 263.3L520.5 263.3M546.2 272.1L547.5 271.5L548.9 271.6L550.1 271.4L551.3 271.8L550.7 271.2L550.4 270.4L549.7 269.5L548.9 268.9L550.4 268.2L551.7 268.4L553.1 268.7L554.1 268.3L555.3 268.2L556.3 268.5L557.2 268.9L558.1 269.6L559.2 269.6L558.3 270.1L557.5 270.6L558.5 270.9L559.4 271.2L560.4 271.2L561.4 271.3L560.4 272.3L559.0 271.8L557.5 271.8L556.0 272.3L555.2 273.0L554.5 273.8L553.1 273.3L552.2 272.9L551.3 272.3L550.4 272.3L549.5 272.3L548.5 272.4L547.7 272.8L546.2 272.1M536.8 271.8L538.1 271.8L539.3 271.6L540.6 271.8L541.8 272.3L540.5 273.1L539.3 273.0L538.1 273.1L537.5 272.4L536.8 271.8M564.1 271.6L565.1 271.4L566.1 271.2L567.1 271.5L568.0 271.8L567.3 272.8L565.7 272.8L564.1 272.8L564.1 271.6M537.6 251.5L538.9 251.0L540.0 251.7L538.8 252.5L537.6 251.5M537.8 255.4L538.5 256.6L538.8 257.9L537.9 257.5L537.1 256.9L537.8 255.4M542.5 254.4L541.6 255.0L540.8 255.7L541.8 256.4L542.0 255.4L542.5 254.4M577.1 290.5L578.4 290.2L579.6 290.5L579.3 291.3L579.3 292.2L578.2 292.3L577.1 292.2L576.9 291.3L577.1 290.5M502.9 202.5L504.0 202.2L505.1 201.9L506.2 201.9L507.1 202.7L508.3 202.1L509.7 202.0L510.8 201.2L512.0 200.7L512.9 201.5L514.0 202.0L515.4 202.2L516.7 202.9L517.8 203.3L519.0 203.4L520.2 203.2L521.4 202.9L521.4 201.6L520.9 200.3L519.4 200.0L518.2 199.3L517.4 198.4L516.5 197.6L515.4 197.3L514.4 196.9L513.3 197.0L512.3 197.1L511.4 197.4L510.5 197.9L509.9 198.7L509.1 199.3L508.2 199.6L507.6 200.4L506.8 200.8L505.9 201.0L504.5 202.0L502.9 202.5M513.5 214.7L514.9 214.2L516.5 214.2L517.0 212.9L517.4 211.5L517.3 210.3L516.9 209.1L517.5 208.4L517.9 207.6L518.4 206.9L518.9 206.1L520.0 205.5L520.9 204.7L519.9 204.5L518.9 204.4L517.7 204.7L516.5 205.2L515.2 206.0L514.0 206.9L513.8 207.7L513.7 208.6L513.4 209.4L513.3 210.3L513.8 211.3L514.0 212.5L513.8 213.6L513.5 214.7M521.6 204.4L522.7 204.3L523.8 203.9L525.0 203.9L526.2 203.8L527.4 203.9L528.5 204.2L529.9 204.8L531.2 205.6L532.6 206.2L533.2 207.6L532.1 207.2L531.1 207.1L530.0 207.1L529.0 206.6L529.4 207.4L529.5 208.3L529.2 209.4L528.5 210.3L527.4 210.6L526.8 211.5L526.7 210.5L526.3 209.6L525.3 209.1L524.3 208.8L524.7 207.9L524.6 206.9L523.7 206.4L523.0 205.7L522.2 205.2L521.6 204.4M524.1 214.7L525.3 214.6L526.4 214.6L527.7 214.6L528.7 215.2L530.0 215.2L530.9 214.2L532.0 213.9L533.2 213.5L534.4 212.8L535.4 211.8L533.9 212.2L532.4 212.5L530.9 212.4L529.5 212.5L528.4 213.1L527.2 213.1L526.1 213.4L525.1 214.0L524.1 214.7M533.2 210.8L534.1 211.0L535.1 210.8L536.5 210.6L537.8 210.7L539.2 210.8L540.5 210.8L541.3 209.9L542.0 209.1L540.6 209.1L539.3 209.3L538.1 209.2L536.9 209.3L535.7 209.6L534.6 210.3L533.2 210.8M422.1 157.6L423.3 157.0L424.5 156.3L425.8 155.8L426.6 154.7L428.0 154.2L429.4 153.9L430.7 154.4L431.9 155.1L433.1 155.0L434.3 155.2L435.0 154.3L435.4 153.2L436.4 153.5L437.3 153.8L438.3 153.9L439.3 153.9L439.0 155.1L438.0 155.9L436.6 155.4L435.6 156.4L434.6 156.0L433.5 156.2L432.7 156.9L431.9 157.6L430.7 157.4L429.5 157.6L428.3 157.9L427.0 157.8L425.8 158.1L424.5 158.3L423.4 157.8L422.1 157.6M441.8 167.4L442.7 167.0L443.8 167.0L444.8 166.6L445.4 165.8L446.0 164.8L447.1 164.6L448.1 164.4L449.1 164.2L450.3 163.6L451.6 163.5L452.9 163.4L454.0 162.7L455.2 163.1L456.4 163.2L457.7 163.8L459.0 163.5L457.5 164.2L456.1 165.1L454.4 165.4L452.8 165.9L451.3 166.3L449.7 166.1L448.2 166.7L446.7 167.2L445.5 167.0L444.2 167.1L443.1 167.9L441.8 167.4M490.9 193.1L491.2 191.8L492.1 190.7L491.5 189.6L491.3 188.3L490.4 187.3L489.7 186.3L488.4 186.1L487.2 185.8L487.9 187.0L488.4 188.2L489.3 189.5L489.1 191.0L490.4 191.8L490.9 193.1M451.8 215.0L452.7 215.7L453.6 216.4L452.6 215.9L451.8 215.0M517.9 287.5L519.2 288.5L520.4 289.5L519.2 290.0L518.5 288.8L517.9 287.5M557.2 354.5L558.4 355.5L559.7 356.2L558.5 355.9L557.8 355.2L557.2 354.5M578.6 442.7L579.7 442.9L580.8 442.7L581.9 442.8L583.0 442.7L583.9 443.1L584.8 443.3L585.8 443.4L586.7 443.5L585.6 444.3L584.3 444.9L583.1 444.4L581.8 444.5L580.6 444.8L579.3 444.4L579.1 443.5L578.6 442.7M560.7 445.9L562.2 446.0L563.7 446.4L564.5 447.8L564.6 449.3L565.6 450.2L566.6 451.1L567.9 451.2L569.3 451.1L568.1 451.3L566.9 451.3L565.7 451.4L564.6 451.8L563.3 451.7L562.6 452.9L561.6 452.2L560.4 452.5L559.3 452.8L558.2 452.5L556.9 452.6L556.0 451.8L554.8 452.2L553.6 452.2L552.6 451.3L552.3 450.1L553.1 449.3L554.0 448.7L555.0 448.2L556.0 447.6L557.3 447.4L558.3 446.7L559.5 446.4L560.7 445.9M547.4 419.4L548.6 419.9L549.2 421.5L548.6 423.1L547.7 423.3L546.7 423.1L546.6 422.0L546.1 421.1L546.9 420.4L547.4 419.4M545.0 435.9L546.0 436.9L546.7 438.3L545.1 438.7L544.2 440.0L544.5 438.9L545.4 438.1L545.3 436.9L545.0 435.9M604.4 317.2L605.8 317.0L607.2 316.9L608.6 317.3L610.1 317.4L609.7 318.4L609.0 319.2L608.8 320.1L608.6 321.1L607.7 320.3L606.6 319.9L605.6 319.4L604.4 319.4L604.5 318.3L604.4 317.2M504.4 317.7L505.4 318.3L506.1 319.2L504.9 319.4L504.8 318.5L504.4 317.7M635.8 449.3L637.1 449.4L638.3 449.6L639.4 450.5L640.8 450.1L641.3 451.3L640.2 450.9L639.3 450.4L638.2 450.0L637.1 450.3L635.8 449.3M715.2 194.1L716.6 193.6L718.1 193.6L719.5 193.3L720.8 192.9L722.1 192.9L723.2 193.6L724.4 193.3L725.5 192.9L726.6 192.5L727.8 192.1L729.0 192.4L730.2 192.4L731.3 191.7L732.6 191.4L731.7 191.3L730.9 190.7L731.6 190.1L731.9 189.2L732.6 188.7L733.4 188.2L733.1 187.3L732.3 186.6L731.4 186.1L730.4 186.2L729.4 185.8L729.1 184.4L728.2 183.3L727.2 183.6L726.3 183.1L726.1 181.7L725.3 180.6L724.3 179.9L723.1 179.7L722.6 178.9L723.4 178.2L724.3 177.7L724.6 176.7L724.8 175.7L723.2 175.5L721.6 175.5L720.5 175.4L719.4 175.7L720.3 174.3L721.6 173.3L720.4 173.3L719.3 173.4L718.1 173.0L716.9 173.3L716.7 174.3L715.6 175.0L715.0 176.2L715.2 177.3L715.4 178.4L714.0 178.7L714.2 180.3L715.4 181.4L716.4 181.0L717.2 180.4L717.2 181.3L717.2 182.1L716.9 182.8L717.9 182.6L718.9 182.6L720.4 182.5L721.8 182.2L720.8 182.4L720.4 183.3L721.1 184.0L721.8 184.8L721.6 186.3L720.7 186.3L719.8 186.4L719.0 186.4L718.1 186.0L717.9 187.5L718.6 188.0L719.1 188.7L718.1 189.0L717.4 189.7L716.4 190.2L717.6 190.4L718.9 190.4L720.0 190.8L721.1 190.9L721.8 191.4L720.4 191.8L718.9 191.4L718.0 192.3L716.9 192.9L716.1 193.5L715.2 194.1M714.5 189.0L714.1 187.6L714.0 186.3L714.0 185.4L714.2 184.6L715.0 184.0L715.7 183.3L715.1 182.4L714.5 181.6L713.0 181.4L711.5 181.4L710.2 181.4L708.8 181.6L708.3 183.1L707.3 183.3L706.3 183.4L705.3 183.5L704.4 184.1L704.4 185.1L704.9 186.0L706.0 186.2L707.1 186.5L706.2 187.6L704.9 188.2L704.6 189.1L703.9 189.7L704.6 190.5L705.6 190.7L707.0 190.5L708.3 190.4L709.3 190.4L710.3 190.1L711.2 189.7L712.0 189.2L713.2 189.0L714.5 189.0M675.2 160.3L674.2 160.2L673.4 159.8L674.1 160.4L675.1 160.5L675.0 159.5L675.6 158.8L674.5 157.6L672.9 158.3L671.7 157.5L670.2 157.8L671.5 157.5L672.7 158.1L673.2 156.7L674.7 156.6L673.3 156.0L672.2 155.0L670.8 155.3L669.5 156.1L670.6 155.6L671.5 154.7L672.9 155.1L673.9 154.2L674.4 155.2L675.4 155.8L676.6 155.3L677.6 156.1L679.0 156.0L680.3 156.4L681.7 156.1L682.5 154.9L683.6 154.3L684.5 155.2L685.5 155.0L686.4 155.7L687.5 156.0L688.4 155.3L689.0 154.5L689.9 153.9L691.1 154.0L691.8 153.0L692.6 153.8L693.6 154.2L693.3 155.6L694.2 156.1L695.1 155.8L695.6 156.5L695.8 157.3L695.0 157.7L694.1 158.1L693.1 158.2L692.6 159.1L691.2 159.0L689.9 159.6L689.0 160.9L687.4 160.5L686.4 161.0L685.5 161.5L684.4 161.4L683.3 161.5L682.1 160.7L681.0 161.7L680.1 160.7L678.8 160.8L678.2 159.9L677.1 159.7L675.9 159.2L675.2 160.3M711.3 175.7L711.9 175.2L712.5 174.5L713.1 173.8L714.0 173.5L713.3 174.2L712.7 175.0L711.3 175.7M721.3 172.3L722.3 171.6L722.1 172.5L721.3 172.3M712.0 164.2L713.0 165.2L711.5 164.9L712.0 164.2M755.7 121.8L757.1 121.7L758.5 121.8L759.8 121.3L761.1 121.1L762.1 121.2L763.0 121.0L764.0 120.9L764.8 121.4L765.8 121.0L766.6 120.5L767.6 120.5L768.5 120.8L770.0 121.2L771.6 121.1L773.1 121.0L774.6 121.1L775.2 122.0L776.0 122.8L777.1 123.2L778.2 122.8L779.1 122.0L780.1 122.4L781.1 122.0L782.0 121.8L781.1 121.7L780.2 121.8L779.3 121.5L778.3 121.4L777.3 121.4L776.7 122.3L775.8 122.5L774.9 122.8L774.5 124.1L773.5 125.0L772.3 125.4L771.0 125.2L769.8 125.3L768.9 126.1L768.2 127.0L767.3 127.7L766.3 127.5L765.3 127.5L764.3 127.2L763.3 127.2L763.6 126.2L764.3 125.5L762.8 125.2L761.3 125.5L759.9 125.0L758.4 124.7L758.5 123.5L757.8 122.6L756.7 122.3L755.7 121.8M774.6 119.8L775.8 120.0L776.7 120.8L777.9 120.9L779.0 120.5L780.1 120.3L781.1 120.0L782.2 119.9L783.2 119.6L784.3 119.5L785.2 118.9L785.8 118.1L786.0 117.0L787.1 117.1L787.8 116.3L788.8 116.3L789.7 116.1L790.4 116.7L791.3 117.0L791.8 117.8L792.7 118.2L793.3 119.0L794.0 119.5L794.5 120.4L795.5 120.6L794.6 121.0L793.8 121.5L792.8 121.7L791.8 121.7L791.1 122.4L790.2 122.8L789.4 123.3L788.4 123.5L787.5 123.0L786.8 122.1L786.0 121.3L784.8 121.4L783.7 121.2L782.6 121.0L781.3 121.1L780.8 122.3L779.1 122.1L777.4 121.8L776.6 121.4L775.8 121.1L775.3 120.4L774.6 119.8M784.5 125.2L785.3 126.1L786.3 125.5L787.3 125.3L788.2 125.0L788.3 126.1L787.8 127.0L786.7 127.1L785.7 127.4L784.5 127.4L783.2 127.2L782.1 126.7L780.8 126.7L781.7 126.3L782.7 126.0L783.6 125.8L784.5 125.2M856.9 141.7L857.4 140.1L858.6 139.0L859.4 137.7L860.6 136.8L861.6 135.9L862.4 135.0L863.2 134.0L864.3 133.3L865.3 133.6L866.3 133.5L867.4 133.5L868.2 132.8L868.8 131.9L869.7 131.3L870.6 130.9L871.7 130.9L872.6 130.6L873.5 130.2L874.5 130.1L875.2 129.4L876.2 129.3L877.2 129.1L878.2 129.5L879.1 129.9L880.1 130.4L881.2 130.6L882.4 130.7L883.5 130.9L884.6 130.4L885.6 129.8L886.7 129.6L887.7 128.9L888.9 128.9L890.1 128.3L891.3 128.1L892.6 128.4L893.8 129.0L895.0 129.9L896.6 129.8L897.5 128.4L896.7 129.2L895.7 129.3L894.8 129.9L893.8 130.1L892.1 130.0L890.8 131.0L889.3 131.5L887.8 132.1L886.9 132.4L886.2 133.1L885.4 132.6L884.7 132.0L883.1 131.9L881.5 131.8L880.0 132.2L878.6 132.8L877.6 131.6L876.4 130.7L875.4 131.6L875.0 132.9L874.0 133.7L872.9 134.5L871.3 134.8L870.4 136.2L869.5 137.4L868.0 138.0L866.8 139.1L865.8 140.4L867.0 141.4L867.6 142.9L869.1 143.1L870.5 143.9L869.0 143.3L867.4 143.3L865.9 144.0L864.3 143.9L863.1 143.6L861.9 143.2L860.6 143.6L859.4 143.1L858.4 142.0L856.9 141.7M871.7 144.4L872.3 145.0L872.8 145.7L873.8 145.8L874.5 146.3L875.4 146.4L876.2 146.2L876.9 145.5L877.8 145.6L876.6 145.9L875.4 146.1L874.7 145.1L874.0 144.2L872.9 144.5L871.7 144.4M844.7 119.1L845.5 118.3L846.6 118.8L847.4 118.2L848.3 117.7L849.1 118.2L850.1 118.2L851.0 118.8L852.0 118.6L850.8 118.9L849.5 118.9L848.2 119.0L847.1 119.8L845.8 119.9L844.7 119.1M861.9 118.6L863.0 119.5L864.1 120.3L865.5 120.0L866.8 119.4L867.8 118.5L869.1 118.3L870.4 118.4L871.7 118.1L870.8 118.5L870.0 119.2L869.1 119.9L868.0 119.6L866.5 119.4L864.9 119.1L863.4 119.1L861.9 118.6M871.7 116.4L872.9 116.1L874.2 116.3L875.4 116.5L876.6 116.8L877.8 117.1L879.0 117.0L880.3 116.7L881.5 116.9L880.2 116.9L879.1 117.6L877.9 117.5L876.6 117.6L875.5 116.8L874.4 115.9L873.1 116.5L871.7 116.4M853.3 120.8L853.8 119.7L854.9 119.3L855.7 118.5L856.8 118.1L857.8 118.9L859.0 118.6L859.7 119.6L860.6 120.3L859.8 120.7L858.8 120.9L857.9 121.0L856.9 121.1L856.2 120.3L855.1 120.5L854.2 120.8L853.3 120.8M965.0 120.1L966.3 119.8L967.5 119.1L968.6 118.4L969.7 117.6L971.0 117.8L972.3 117.6L973.7 117.7L974.9 118.4L973.8 118.7L972.8 119.0L971.6 118.9L970.7 119.5L970.2 120.5L969.5 121.4L968.5 121.9L967.5 122.5L966.1 121.7L964.6 121.0L963.0 121.1L961.4 121.6L962.3 121.1L963.1 120.5L964.0 120.3L965.0 120.1M968.7 123.8L969.7 124.2L970.8 124.2L971.8 124.6L972.9 124.7L973.6 123.9L974.8 123.7L975.0 122.5L976.0 121.9L976.8 121.1L977.9 121.4L978.9 121.3L979.8 121.2L980.8 121.5L981.8 121.3L982.5 122.1L983.5 122.5L984.2 123.3L985.2 123.7L986.2 124.0L987.2 124.5L986.3 124.4L985.4 124.3L984.6 124.7L983.8 125.0L982.7 124.9L982.3 125.9L981.6 126.5L981.2 127.3L980.3 127.2L979.4 126.9L978.2 126.7L977.7 127.8L976.7 127.9L976.1 127.1L975.4 126.4L974.9 125.7L973.2 125.6L971.5 125.7L970.6 125.7L969.9 125.1L968.8 124.8L968.7 123.8M1067.0 131.8L1067.8 131.4L1068.7 131.1L1069.4 131.7L1070.2 132.2L1071.9 132.0L1073.1 130.9L1073.9 131.7L1074.9 131.9L1075.9 131.6L1076.8 131.1L1077.7 131.1L1078.7 131.2L1079.6 131.1L1080.5 131.1L1081.1 132.0L1081.7 132.8L1081.2 133.7L1080.1 134.0L1079.2 134.4L1078.2 134.8L1077.2 134.8L1076.2 134.7L1075.2 134.4L1074.4 133.8L1073.3 133.8L1072.3 133.9L1071.5 133.3L1070.7 132.6L1069.8 132.2L1068.9 132.0L1068.0 131.9L1067.0 131.8M1087.9 131.8L1088.6 132.7L1089.5 133.3L1090.4 132.7L1091.5 132.5L1092.5 132.4L1093.4 131.8L1094.4 131.9L1095.2 132.3L1093.8 132.5L1092.8 133.6L1091.4 133.6L1090.0 133.7L1089.0 132.7L1087.9 131.8M1064.5 134.5L1064.7 135.9L1065.2 137.2L1066.5 137.7L1067.9 137.8L1069.1 137.4L1070.1 136.8L1070.8 135.8L1071.9 135.3L1070.4 135.1L1068.8 135.2L1067.2 135.2L1065.8 135.8L1065.3 135.0L1064.5 134.5M287.0 141.7L288.2 141.7L289.5 141.4L290.7 141.7L291.9 141.7L293.1 142.6L291.9 142.9L290.7 143.1L289.5 143.4L288.2 143.1L287.0 142.9M1168.9 141.7L1170.2 141.4L1171.4 141.7L1171.4 142.9L1170.4 141.8L1168.9 141.7M848.3 147.0L849.3 147.1L850.1 147.7L851.1 147.7L852.0 147.5L850.9 148.2L849.6 148.5L849.1 147.6L848.3 147.0M759.7 224.3L761.2 224.3L762.4 223.3L763.3 223.7L764.4 223.9L765.4 223.5L766.3 223.1L767.5 223.1L767.4 224.5L766.3 225.5L766.3 227.2L765.3 226.8L764.3 226.2L763.5 226.1L762.7 225.8L762.0 225.2L761.1 225.0L759.7 224.3M749.8 221.3L749.7 220.4L749.6 219.4L749.1 218.4L749.3 217.4L750.1 216.7L751.0 216.4L751.8 215.9L752.3 217.0L753.3 217.7L753.2 219.3L753.0 220.8L751.3 220.8L749.8 221.3M750.3 215.5L750.5 214.0L750.6 212.5L751.4 212.0L752.3 211.5L752.5 212.6L752.5 213.7L752.2 214.6L751.8 215.5L750.3 215.5M786.9 230.4L787.9 230.4L788.9 230.2L789.9 229.9L790.7 230.4L791.7 230.5L792.6 230.4L793.8 230.4L793.6 231.1L792.6 231.2L791.7 231.4L790.8 231.2L789.9 231.4L788.3 231.1L786.9 230.4M808.6 230.9L809.4 230.5L810.3 230.2L811.1 229.6L812.2 229.4L813.2 229.3L814.2 229.4L813.3 230.0L812.5 230.7L811.6 231.7L810.3 232.1L809.4 231.5L808.6 230.9M734.9 219.9L735.8 219.1L737.1 219.1L737.6 220.1L736.2 220.2L734.9 219.9M756.0 180.4L756.9 179.9L758.0 179.7L759.1 179.5L760.2 179.7L759.7 180.6L759.2 181.6L758.2 181.5L757.3 181.7L756.8 180.9L756.0 180.4M773.7 177.2L774.3 176.0L775.4 175.2L775.0 176.2L774.9 177.2L773.7 177.2M783.2 173.5L784.4 172.8L785.7 173.3L784.5 174.3L783.2 173.5M800.7 215.9L802.0 215.7L803.3 216.0L804.6 216.1L805.8 216.2L807.3 215.6L808.6 214.7L810.0 214.4L811.5 214.0L812.6 213.9L813.6 213.7L814.6 213.9L815.7 214.0L816.8 214.3L817.8 214.8L818.9 215.0L819.9 215.7L820.8 215.7L821.6 216.0L822.5 216.3L823.3 216.7L824.4 215.7L825.8 215.7L827.1 216.2L828.4 216.4L829.9 215.7L831.4 215.2L831.5 213.9L831.6 212.5L830.6 211.6L829.7 210.5L828.6 210.5L827.5 210.5L826.8 209.8L826.0 209.3L825.1 208.8L824.3 208.3L822.8 207.9L821.3 207.4L820.0 207.0L818.9 206.1L817.7 206.4L816.4 206.4L815.7 206.9L814.1 207.4L812.5 208.1L811.5 207.6L810.5 206.7L809.3 205.9L810.7 205.4L811.7 204.4L810.7 204.4L809.8 204.2L808.4 203.9L807.1 203.4L805.8 203.3L804.6 202.9L804.1 203.8L803.5 204.5L802.7 205.1L801.9 205.6L801.9 207.1L800.9 207.0L800.0 206.9L799.5 208.3L799.5 209.8L798.7 210.2L798.0 210.8L797.7 211.7L797.2 212.5L798.0 214.0L798.8 214.2L799.7 214.4L800.3 215.2L800.7 215.9M815.2 204.9L816.3 204.5L817.3 204.2L818.2 205.0L819.1 205.6L820.1 204.9L821.0 204.1L822.2 203.7L823.0 202.7L824.3 201.8L825.7 201.2L824.1 201.1L822.6 201.7L821.6 201.8L820.7 201.9L819.7 202.1L818.8 202.3L817.9 202.6L817.0 203.0L816.1 203.3L815.2 203.4L815.2 204.9M843.9 207.9L844.3 208.8L844.8 209.7L845.2 210.7L845.9 211.5L846.5 212.3L847.0 213.2L847.7 214.0L848.6 214.5L849.2 215.2L849.9 215.9L850.6 216.6L851.1 217.4L850.8 218.9L850.2 219.8L850.0 220.8L849.8 221.8L849.6 222.8L849.4 223.8L849.3 224.8L850.7 225.6L852.3 225.3L853.2 225.4L854.1 225.7L854.9 226.2L855.7 226.7L857.2 226.8L858.7 227.0L860.2 226.8L861.6 226.5L861.2 225.3L861.4 224.0L861.0 223.1L861.0 222.1L861.3 221.1L861.1 220.1L860.0 219.3L858.7 218.9L859.0 217.7L859.2 216.4L858.8 215.4L858.2 214.5L859.2 213.7L858.0 213.4L856.9 213.0L856.2 212.0L855.2 211.3L854.8 210.2L854.2 209.1L853.3 208.6L852.8 207.6L854.0 206.9L855.2 206.1L856.3 206.3L857.3 205.8L858.4 206.0L859.4 205.9L859.7 204.8L859.9 203.7L859.7 202.8L859.4 202.0L858.3 202.0L857.2 201.8L856.1 202.0L855.0 201.7L853.6 201.7L852.2 201.7L851.1 202.6L849.8 203.2L849.2 203.9L848.6 204.7L847.5 205.1L846.4 205.2L845.7 205.8L845.1 206.5L844.4 207.1L843.9 207.9M872.9 205.4L873.5 206.1L874.3 206.5L874.8 207.2L875.4 207.9L876.3 207.8L877.2 208.0L878.1 208.1L879.1 208.1L879.9 207.0L880.3 205.6L879.6 204.3L879.1 202.9L877.9 202.6L876.6 202.7L875.3 202.9L874.1 203.4L873.2 204.2L872.9 205.4M909.8 204.2L910.7 203.8L911.6 203.4L912.6 203.3L913.5 202.7L914.7 202.8L915.9 203.1L917.1 203.3L918.4 203.2L919.8 203.4L921.2 203.6L922.4 202.9L923.8 202.5L922.8 202.7L922.0 203.4L920.5 203.8L919.0 204.3L917.5 204.6L915.9 204.4L915.0 204.5L914.0 204.3L913.1 204.7L912.2 204.9L911.0 204.7L909.8 204.2M984.0 190.4L985.6 190.2L987.2 190.0L988.0 189.4L988.7 188.7L989.7 188.4L990.6 188.0L991.9 188.0L993.0 187.3L994.0 186.5L995.0 185.8L995.9 184.9L996.7 184.1L997.5 183.1L998.2 182.1L998.4 181.2L998.7 180.4L997.5 181.4L996.6 182.2L996.0 183.2L995.3 184.2L994.5 185.1L993.6 185.7L993.0 186.6L991.9 186.7L990.8 187.0L989.9 187.4L989.1 188.0L988.2 188.5L987.2 188.7L985.8 189.2L984.7 190.0L984.0 190.4M802.7 169.8L803.5 170.6L804.7 170.6L805.4 169.6L806.6 169.4L807.8 169.4L809.0 169.4L810.3 168.8L810.3 167.4L808.9 167.5L807.6 167.3L806.3 166.9L805.4 165.9L805.0 166.8L804.7 167.7L803.8 168.0L802.9 167.4L803.1 168.7L802.7 169.8M814.7 167.4L815.8 167.2L816.7 166.5L817.8 166.4L818.9 166.9L817.9 166.2L817.8 165.1L816.9 164.5L816.4 163.5L815.0 164.3L813.5 164.9L814.3 166.1L814.7 167.4M917.1 212.8L918.1 212.3L919.2 212.1L920.2 211.4L921.3 211.8L920.8 213.2L920.0 212.8L919.0 212.8L918.1 212.6L917.1 212.8M839.8 223.8L840.7 223.6L841.7 223.3L841.2 224.4L840.7 225.5L840.1 224.7L839.8 223.8M850.3 346.4L851.2 347.5L851.5 348.8L852.1 350.1L852.5 351.5L852.6 352.9L853.0 354.2L853.0 355.2L852.5 356.2L852.3 357.5L851.5 358.6L851.1 360.1L850.6 361.6L850.2 363.0L850.0 364.5L849.3 365.9L848.6 367.2L848.5 368.3L848.4 369.3L848.1 370.3L847.5 371.2L847.1 372.1L846.4 373.0L846.4 374.0L846.1 375.1L845.5 375.7L844.9 376.4L844.9 377.3L844.9 378.2L843.7 378.1L842.7 378.8L841.8 379.4L840.7 379.7L839.9 379.1L839.0 379.1L838.2 378.6L837.3 378.2L836.9 377.4L836.9 376.5L836.6 375.7L836.6 374.8L836.5 373.8L836.3 372.9L835.9 372.0L835.6 371.1L836.1 369.9L837.0 368.9L837.9 367.5L838.5 366.0L838.2 364.9L838.1 363.8L837.7 362.8L837.3 361.8L837.0 360.2L837.5 358.6L837.8 357.6L838.3 356.7L839.5 356.5L840.5 355.7L841.7 355.8L842.9 355.4L844.1 355.1L845.1 354.5L845.8 353.6L846.6 352.7L846.9 351.5L847.1 350.3L847.7 349.6L848.1 348.8L848.6 348.1L849.3 347.6L850.3 346.4M807.1 320.1L807.5 321.0L808.3 321.6L808.5 322.5L809.0 323.3L809.9 323.2L810.8 323.4L811.6 323.1L812.5 323.1L812.6 322.2L812.2 321.3L812.6 320.5L813.0 319.6L812.7 318.2L812.5 316.7L811.5 316.4L810.5 316.2L809.4 316.6L808.3 316.9L807.8 317.7L807.2 318.3L807.1 319.2L807.1 320.1M800.9 325.3L801.1 326.3L800.8 327.3L801.0 328.3L801.4 329.2L802.0 330.8L802.4 332.4L802.5 333.6L803.1 334.6L803.7 335.6L804.4 336.6L805.1 337.3L805.8 338.0L805.6 337.0L805.4 336.0L804.7 335.2L804.4 334.1L803.9 333.2L803.3 332.4L803.2 331.4L802.9 330.4L802.6 329.1L801.8 328.0L801.8 326.6L801.4 325.3L800.9 325.3M812.7 340.2L813.5 341.3L814.1 342.5L814.3 343.8L814.2 345.1L814.8 345.9L815.4 346.7L815.3 347.7L814.9 348.6L815.6 349.4L816.3 350.1L816.2 351.0L815.9 352.0L814.8 351.2L814.2 350.0L813.8 349.1L813.4 348.2L813.3 347.1L813.5 346.1L812.3 344.9L811.7 343.4L811.8 341.7L812.7 340.2M762.6 283.6L763.8 284.0L764.8 284.6L764.2 285.2L763.6 285.8L763.3 284.6L762.6 283.6M817.6 307.1L818.2 307.8L818.9 308.4L818.2 309.5L818.1 310.8L818.0 309.5L817.4 308.4L817.6 307.1M820.1 287.0L821.6 287.5L820.6 288.5L820.1 287.0M803.4 319.4L803.6 320.9L804.1 322.3L802.7 321.9L802.9 320.6L803.4 319.4M799.0 337.8L799.6 339.3L800.9 340.2L799.5 340.2L799.1 339.0L799.0 337.8M860.1 285.8L861.6 286.4L863.1 286.1L861.9 286.8L860.8 286.7L860.1 285.8M865.1 368.2L866.0 368.9L865.3 369.2L865.1 368.2M870.0 366.0L870.9 367.0L870.2 367.2L870.0 366.0M835.3 344.9L836.1 346.1L835.6 345.9L835.3 344.9M825.5 330.9L825.8 331.8L826.2 332.6L825.7 332.4L825.5 330.9M690.4 248.3L691.4 247.8L690.9 248.8L690.4 248.3M687.9 247.3L689.4 247.1L688.7 248.1L687.9 247.3M694.8 247.1L695.3 246.6L694.3 247.8L694.8 247.1M669.0 280.4L670.2 280.0L671.5 279.7L671.0 280.4L670.0 280.7L669.0 280.4M667.3 275.3L668.0 275.8L667.5 275.5L667.3 275.3M658.7 222.6L659.7 222.4L660.7 222.3L661.6 222.2L662.6 222.1L661.6 222.6L660.4 222.8L659.6 222.6L658.7 222.6M665.8 224.3L667.3 224.3L666.6 224.5L665.8 224.3M686.9 236.8L688.2 236.8L687.7 237.0L686.9 236.8M750.1 307.6L751.1 308.1L750.3 309.1L750.1 307.6M745.2 316.0L745.7 316.7L745.2 316.7L745.2 316.0M1078.0 204.2L1078.6 203.4L1079.4 202.8L1080.3 202.6L1081.2 202.5L1080.2 201.7L1079.5 200.5L1080.0 199.4L1080.3 198.3L1080.6 197.2L1081.0 196.1L1082.4 196.2L1083.7 196.6L1083.4 194.9L1083.0 193.3L1081.9 192.1L1081.0 190.7L1081.2 189.6L1081.5 188.6L1081.5 187.6L1081.2 186.5L1080.6 185.2L1080.0 183.8L1079.4 184.8L1078.8 185.8L1078.7 187.3L1078.9 188.9L1078.2 190.3L1078.5 191.9L1078.5 192.8L1078.6 193.7L1077.7 193.9L1077.0 194.6L1077.1 196.2L1077.8 197.6L1078.1 198.4L1078.2 199.3L1078.1 200.2L1077.8 201.0L1077.6 202.6L1078.0 204.2M1073.1 215.2L1072.9 214.0L1073.1 212.8L1073.8 212.0L1074.4 211.0L1075.4 210.7L1076.6 210.8L1076.9 209.6L1077.3 208.3L1078.1 207.0L1077.8 205.4L1078.9 206.4L1080.0 207.4L1081.3 208.2L1082.7 208.6L1083.6 208.4L1084.4 207.8L1085.3 208.1L1086.2 208.3L1086.5 209.6L1086.9 210.8L1085.2 211.0L1083.7 211.5L1083.0 212.1L1082.3 212.6L1081.8 213.3L1081.2 214.0L1080.3 213.5L1079.3 213.1L1078.3 212.8L1077.3 212.5L1076.3 213.2L1075.6 214.2L1074.3 214.7L1073.1 215.2M1075.3 215.2L1076.1 216.4L1076.8 217.7L1077.6 218.8L1078.0 220.1L1077.6 221.0L1077.0 221.7L1076.4 222.5L1075.6 223.1L1075.3 224.6L1075.3 226.2L1075.2 227.5L1074.6 228.7L1075.3 229.4L1074.1 230.2L1072.9 231.1L1071.9 230.9L1070.9 230.7L1070.2 232.1L1068.6 231.9L1067.0 231.9L1066.2 232.5L1065.3 232.9L1064.2 233.7L1063.3 234.8L1062.3 234.4L1061.3 233.8L1061.5 233.0L1061.6 232.1L1060.7 232.2L1059.8 232.2L1059.0 232.3L1058.1 232.6L1057.3 232.8L1056.5 233.2L1055.6 233.1L1054.7 233.1L1053.7 233.2L1052.9 233.7L1052.0 233.8L1051.0 233.6L1052.0 232.6L1052.7 231.9L1053.5 231.3L1054.2 230.6L1055.0 229.9L1056.2 229.7L1057.3 230.1L1058.4 229.8L1059.6 229.7L1060.9 229.7L1062.1 229.9L1063.6 229.2L1063.7 228.2L1064.2 227.4L1064.7 226.5L1065.3 225.7L1066.5 225.0L1065.9 225.7L1065.5 226.5L1066.6 226.6L1067.6 226.3L1068.6 225.8L1069.4 225.3L1070.5 224.1L1071.9 223.3L1072.6 222.4L1072.9 221.3L1073.1 219.9L1073.1 218.4L1072.9 217.4L1073.3 216.6L1073.9 215.9L1075.3 215.2M1047.8 235.3L1048.7 235.0L1049.5 234.6L1051.0 233.8L1051.8 234.6L1052.7 235.3L1052.8 236.5L1053.2 237.5L1052.6 238.8L1052.0 240.0L1051.0 240.4L1050.0 240.9L1049.1 240.0L1049.2 238.5L1049.1 237.0L1048.5 236.1L1047.8 235.3M1054.5 235.6L1055.0 234.5L1055.7 233.6L1057.2 233.0L1058.9 232.9L1059.4 233.6L1060.1 234.1L1059.5 234.9L1058.9 235.6L1057.3 235.8L1055.9 236.5L1055.4 235.8L1054.5 235.6M1087.9 207.9L1088.9 207.5L1089.8 207.1L1090.7 206.5L1091.6 205.9L1093.1 205.7L1094.8 205.6L1093.5 206.0L1092.2 205.8L1091.4 206.7L1090.3 207.4L1089.1 207.7L1087.9 207.9M1097.7 203.7L1099.1 203.3L1100.5 203.1L1101.6 202.3L1102.6 201.2L1101.3 202.1L1100.2 203.2L1098.9 203.4L1097.7 203.7M1108.8 195.6L1109.8 194.9L1111.0 194.5L1111.6 193.3L1112.4 192.4L1112.1 193.2L1111.4 193.8L1110.5 194.1L1110.0 194.9L1108.8 195.6M1026.5 255.2L1027.5 255.6L1028.7 255.9L1028.2 257.5L1027.9 259.1L1027.4 260.1L1026.6 261.0L1026.9 262.2L1026.2 263.3L1025.5 262.0L1024.5 261.1L1024.3 259.8L1024.2 258.6L1024.8 257.7L1025.3 256.9L1025.9 256.0L1026.5 255.2M996.0 269.9L996.9 268.7L998.2 267.9L999.6 267.9L1000.9 267.7L1001.9 268.9L1001.6 269.9L1000.6 270.2L1000.1 271.0L999.7 271.8L998.6 272.0L997.5 272.1L997.3 270.6L996.0 269.9M1039.2 234.8L1040.1 234.8L1041.0 234.8L1040.0 235.6L1039.2 234.8M1042.7 251.5L1043.5 251.3L1044.4 251.2L1043.8 252.1L1043.2 253.0L1042.7 251.5M1047.1 247.3L1047.8 247.6L1047.3 248.1L1047.1 247.3M1025.5 271.6L1026.3 271.2L1027.2 271.6L1028.2 272.7L1029.7 272.3L1029.9 273.8L1029.4 275.3L1028.5 275.5L1027.9 276.2L1027.2 277.0L1027.7 278.0L1028.0 278.9L1028.4 279.7L1028.1 280.7L1028.2 281.6L1029.2 281.9L1030.1 282.1L1030.9 283.1L1032.1 282.9L1032.9 284.2L1034.1 285.1L1033.6 286.1L1032.3 285.0L1031.1 283.9L1029.9 283.1L1028.4 282.9L1026.9 282.8L1025.5 282.9L1026.0 281.9L1025.5 280.9L1024.0 280.4L1024.0 279.6L1023.8 278.7L1023.8 277.8L1023.8 277.0L1025.0 276.7L1024.4 275.4L1025.0 274.0L1025.2 272.8L1025.5 271.6M1028.7 299.8L1029.4 299.2L1030.2 298.7L1031.0 298.1L1031.1 297.1L1032.1 296.0L1033.6 296.1L1034.7 295.7L1035.8 295.1L1036.7 294.1L1037.5 292.9L1038.6 293.5L1039.5 294.4L1039.1 295.6L1038.9 296.9L1039.4 298.0L1040.2 299.1L1040.5 300.6L1039.2 301.5L1038.6 302.7L1037.3 303.2L1036.3 303.2L1035.4 303.2L1034.9 302.5L1034.3 301.7L1033.7 301.0L1033.6 300.0L1032.4 299.1L1030.9 298.8L1029.6 298.9L1028.7 299.8M1034.6 286.3L1035.5 286.0L1036.4 285.9L1037.3 286.4L1038.0 287.0L1036.9 288.4L1037.5 290.0L1036.6 291.1L1036.0 292.4L1035.5 291.1L1034.6 290.0L1034.7 289.0L1035.0 288.1L1035.1 287.1L1034.6 286.3M1031.4 290.0L1031.7 290.8L1032.6 291.2L1032.4 292.2L1032.0 293.1L1031.0 293.0L1030.1 293.7L1028.8 292.8L1028.9 291.2L1030.1 290.4L1031.4 290.0M1033.6 289.5L1033.9 290.3L1034.1 291.2L1033.2 291.9L1032.1 291.8L1032.2 292.9L1032.4 293.9L1031.7 292.7L1032.2 291.5L1033.3 290.8L1033.6 289.5M1017.1 296.4L1018.0 295.0L1017.0 293.7L1016.8 292.2L1018.0 291.3L1019.1 290.6L1020.4 290.2L1021.5 289.5L1022.8 289.2L1022.0 290.2L1022.0 291.5L1021.6 292.6L1020.9 293.5L1020.3 294.7L1019.1 295.1L1017.9 295.5L1017.1 296.4M1024.7 284.1L1025.2 284.9L1026.0 285.4L1026.9 285.4L1027.7 284.8L1027.4 286.0L1026.9 287.0L1026.4 286.3L1025.9 285.5L1025.1 285.0L1024.7 284.1M1028.9 288.0L1030.3 287.7L1031.4 288.5L1029.9 289.0L1028.9 288.0M997.0 313.3L996.8 314.6L997.7 315.5L998.1 316.6L998.5 317.7L998.7 318.6L999.1 319.5L999.4 320.3L999.9 321.1L999.8 322.6L999.7 324.1L1000.7 324.7L1001.6 325.5L1002.5 324.8L1003.6 324.3L1005.2 324.4L1006.8 324.8L1007.8 325.0L1008.6 325.6L1009.4 326.5L1010.5 326.3L1011.4 326.1L1012.2 326.3L1013.1 326.3L1013.9 326.0L1014.7 324.6L1015.4 323.1L1014.7 321.8L1014.7 320.4L1015.7 320.1L1016.4 319.3L1017.2 318.7L1017.9 317.9L1017.9 316.5L1018.1 315.0L1019.8 315.3L1021.3 314.5L1020.8 313.8L1020.1 313.2L1019.5 312.6L1018.8 312.0L1019.1 310.6L1018.7 309.7L1018.6 308.8L1018.7 307.8L1018.8 306.9L1019.7 306.4L1020.6 305.9L1021.1 304.7L1022.0 303.7L1021.2 303.1L1020.1 303.0L1019.1 302.1L1018.1 301.3L1017.2 300.2L1015.9 300.0L1015.6 301.2L1014.7 302.0L1013.7 303.3L1012.7 304.7L1011.5 304.9L1010.7 305.9L1009.8 306.3L1009.0 306.9L1008.1 308.3L1006.8 309.3L1005.2 309.8L1003.6 310.1L1002.2 310.7L1001.9 312.3L1001.0 313.0L999.9 312.8L998.7 312.0L997.9 312.7L997.0 313.3M963.3 303.5L964.8 303.2L965.8 303.5L966.8 303.5L967.7 304.1L968.7 304.2L969.0 305.1L969.2 306.0L970.1 306.3L970.9 306.7L971.8 307.2L972.4 308.0L973.3 308.5L974.1 309.1L974.3 310.0L974.8 310.8L975.7 311.1L976.3 311.8L977.7 312.4L979.0 311.8L980.5 312.1L981.0 313.5L981.9 314.7L983.2 315.5L984.2 316.7L985.1 317.1L985.9 317.7L985.2 318.6L985.4 319.6L986.3 321.0L986.9 322.6L987.8 322.7L988.6 322.8L989.1 323.8L989.9 324.6L989.6 326.0L989.4 327.5L988.3 328.4L989.2 329.5L989.4 330.4L989.1 331.4L988.1 331.3L987.2 331.4L986.4 331.4L985.4 330.3L984.4 329.2L983.6 328.9L982.7 328.5L982.2 327.6L981.3 327.2L980.4 326.5L979.4 325.9L978.8 324.9L978.3 323.8L977.9 322.8L977.1 322.1L976.9 321.1L976.2 320.3L975.3 319.7L975.1 318.7L974.5 317.2L973.1 316.5L972.9 315.2L971.8 314.7L971.5 313.6L971.4 312.5L970.4 311.6L969.2 310.8L968.3 310.0L968.0 308.9L967.0 308.2L966.0 307.4L964.7 308.0L963.9 306.9L963.9 305.7L963.6 304.7L963.3 303.5M987.6 333.6L988.5 332.3L989.9 331.4L991.3 332.0L992.8 331.7L994.1 332.6L995.7 332.6L997.1 332.7L998.2 333.3L999.5 333.4L1000.7 333.9L1002.1 333.8L1003.6 333.6L1004.8 333.4L1005.8 333.9L1005.9 334.9L1006.6 335.6L1007.4 336.0L1008.3 336.3L1009.4 336.7L1010.2 336.1L1011.0 337.2L1010.7 338.5L1009.4 337.9L1008.0 337.3L1006.9 337.3L1005.8 337.5L1004.5 337.6L1003.1 337.3L1002.1 336.6L1000.9 336.8L999.5 336.3L998.0 335.8L996.5 335.3L995.3 336.1L994.2 335.8L993.1 335.5L991.9 335.8L990.8 335.1L989.5 334.5L988.1 333.9L987.6 333.6M989.1 321.9L990.0 322.2L990.8 322.6L990.8 323.6L991.6 324.3L990.5 324.3L989.6 323.8L989.3 322.8L989.1 321.9M993.5 323.3L994.3 324.0L995.3 324.3L994.0 324.8L993.5 323.3M1010.7 336.8L1011.9 336.9L1012.9 337.5L1012.0 338.5L1011.6 337.5L1010.7 336.8M1014.4 337.5L1015.0 338.2L1015.6 338.8L1014.4 338.5L1014.4 337.5M1016.6 337.5L1017.7 336.8L1019.0 336.7L1020.3 337.0L1021.5 336.8L1020.8 337.7L1019.8 338.5L1018.2 338.8L1016.6 339.0L1016.6 337.5M1023.8 338.0L1024.7 337.9L1025.6 337.5L1026.3 336.7L1027.3 336.7L1028.1 337.6L1029.2 338.0L1030.2 337.5L1031.1 336.8L1030.9 338.0L1029.5 338.5L1028.3 339.1L1026.9 338.5L1025.5 338.8L1024.6 338.4L1023.8 338.0M1032.8 342.2L1033.9 341.7L1034.5 340.7L1035.3 339.9L1036.0 339.0L1036.8 339.6L1037.5 340.0L1038.4 339.8L1039.3 339.5L1040.2 339.4L1040.9 339.0L1041.2 338.1L1041.9 337.5L1040.7 338.4L1039.5 339.2L1038.1 340.1L1036.5 340.0L1036.1 341.1L1035.2 341.9L1034.0 341.9L1032.8 342.2M1021.5 340.5L1022.7 340.0L1023.9 340.4L1025.0 340.8L1026.0 341.5L1025.2 342.2L1024.3 341.8L1023.4 341.3L1022.4 341.0L1021.5 340.5M1022.8 330.7L1023.9 331.2L1025.0 330.4L1024.5 329.7L1024.1 328.9L1023.9 328.0L1023.3 327.3L1022.9 326.3L1023.1 325.3L1023.9 324.6L1024.7 324.1L1025.5 323.5L1026.5 323.3L1026.8 324.6L1027.4 325.8L1027.9 327.0L1028.9 328.0L1029.9 328.2L1030.9 328.0L1030.1 326.8L1029.7 325.5L1029.5 324.4L1029.4 323.2L1028.3 322.7L1027.7 321.6L1028.9 321.4L1030.1 321.1L1031.2 320.5L1031.9 319.4L1030.5 319.2L1029.2 319.0L1027.8 319.3L1026.5 319.2L1025.8 318.3L1024.9 317.7L1024.4 316.8L1024.2 315.7L1025.5 314.9L1026.5 313.8L1027.3 314.7L1028.6 315.1L1030.0 315.6L1031.1 314.7L1032.6 314.7L1034.1 314.7L1035.0 314.7L1035.8 314.8L1035.7 313.6L1036.8 313.3L1035.8 313.4L1035.4 314.3L1035.2 315.2L1034.8 316.0L1033.4 315.7L1032.1 316.2L1031.0 316.1L1029.9 315.9L1028.8 315.9L1027.7 315.7L1027.0 316.6L1026.1 317.3L1025.0 317.0L1024.0 316.5L1023.5 317.2L1023.0 318.8L1022.5 320.4L1021.9 321.0L1021.5 321.9L1021.1 322.8L1021.1 323.8L1021.6 324.9L1022.8 325.5L1023.0 326.8L1023.4 328.1L1023.4 329.5L1022.8 330.7M1051.0 319.9L1052.1 319.2L1053.2 318.7L1054.2 318.1L1055.1 317.4L1056.1 317.9L1056.9 318.7L1057.7 319.4L1058.6 319.9L1059.1 320.8L1059.7 321.7L1059.6 322.8L1059.4 323.8L1060.4 325.1L1062.1 325.3L1062.8 323.8L1064.0 322.6L1064.2 321.7L1065.0 321.2L1065.9 321.4L1066.7 321.1L1067.9 320.8L1069.0 321.1L1070.0 321.8L1071.2 322.1L1072.2 323.0L1073.6 322.8L1074.5 323.4L1075.6 323.3L1076.8 323.4L1078.0 323.4L1078.6 324.5L1079.8 325.0L1081.0 325.1L1082.2 325.5L1083.3 326.1L1084.4 326.5L1085.4 327.0L1086.2 327.7L1086.6 329.1L1087.4 330.4L1088.6 330.1L1089.9 330.3L1090.8 331.1L1091.8 331.9L1092.5 333.1L1091.4 333.4L1090.3 333.4L1090.8 334.2L1090.8 335.1L1091.9 335.8L1093.0 336.6L1094.0 337.8L1094.5 339.3L1096.0 339.3L1096.0 340.2L1096.8 341.0L1097.7 341.7L1098.7 342.0L1099.7 342.2L1098.5 342.4L1097.7 343.2L1097.2 342.4L1096.3 341.5L1095.0 341.2L1093.8 341.5L1092.5 341.7L1091.0 341.8L1090.6 340.2L1090.2 339.3L1089.3 338.8L1088.7 337.7L1087.9 336.8L1087.3 336.1L1086.5 335.6L1085.6 335.5L1084.7 335.6L1083.8 336.2L1082.7 336.3L1081.2 337.1L1081.0 338.1L1081.5 339.0L1080.6 339.5L1079.5 339.8L1078.3 339.5L1076.9 339.5L1075.6 339.3L1074.8 338.1L1073.4 337.8L1072.3 336.9L1070.9 336.8L1070.4 337.5L1069.3 337.5L1068.2 337.5L1068.2 336.5L1068.5 335.6L1069.9 334.8L1069.6 333.5L1069.2 332.2L1068.8 331.0L1068.0 330.2L1066.9 329.3L1065.5 329.3L1064.3 328.9L1063.3 328.0L1062.3 328.8L1061.3 328.0L1060.3 327.5L1059.7 326.4L1058.8 325.7L1057.7 325.5L1056.9 326.8L1055.9 327.0L1055.4 326.0L1055.4 325.0L1054.4 324.5L1053.5 323.8L1054.8 323.2L1056.2 323.1L1057.0 322.8L1057.9 323.1L1057.7 322.3L1056.7 322.7L1055.8 322.4L1054.9 322.0L1054.0 322.3L1053.5 321.6L1053.0 320.9L1051.9 320.6L1050.8 320.4L1051.0 319.9M1093.5 330.4L1094.6 330.1L1095.6 329.8L1096.5 328.9L1097.7 329.2L1098.6 328.6L1099.6 328.3L1100.5 327.7L1101.4 327.2L1102.3 327.5L1102.9 328.2L1102.2 328.9L1101.5 329.4L1100.9 330.1L1100.2 330.7L1099.0 330.7L1097.9 330.5L1097.5 331.6L1096.5 332.2L1095.6 331.8L1094.6 332.0L1094.1 331.2L1093.5 330.4M1099.7 323.3L1100.8 324.0L1102.1 324.4L1102.8 325.4L1103.8 326.3L1104.8 327.2L1105.6 328.2L1104.6 327.8L1103.9 327.1L1103.1 326.4L1102.6 325.5L1101.9 324.9L1101.1 324.5L1100.4 323.8L1099.7 323.3M1110.0 331.7L1111.1 332.6L1112.2 333.6L1110.7 333.1L1110.0 331.7M1113.7 334.8L1114.6 335.2L1115.6 335.6L1116.5 335.9L1117.4 336.6L1116.4 336.3L1115.4 336.3L1114.6 335.5L1113.7 334.8M1121.0 338.3L1121.9 338.8L1122.3 339.8L1123.1 340.3L1124.0 340.7L1122.8 340.7L1121.8 340.2L1121.2 339.3L1121.0 338.3M1124.2 337.8L1125.2 339.1L1126.0 340.5L1124.7 340.0L1124.5 338.9L1124.2 337.8M1126.0 342.0L1126.9 342.8L1127.9 343.4L1126.9 343.2L1126.0 342.0M1132.1 366.5L1132.8 367.2L1133.3 368.1L1134.2 368.5L1135.1 369.0L1135.9 369.5L1136.6 370.3L1137.5 370.7L1138.2 371.4L1139.5 371.6L1138.1 370.9L1136.8 370.1L1135.6 369.1L1134.6 367.9L1133.2 367.4L1132.1 366.5M1138.2 353.7L1139.0 354.9L1140.0 355.9L1138.7 355.4L1138.7 354.5L1138.2 353.7M1141.4 356.2L1142.3 357.0L1142.9 358.1L1141.9 357.6L1141.4 356.2M1164.8 359.9L1166.4 359.9L1168.0 360.1L1167.2 361.6L1165.8 360.9L1164.8 359.9M1168.7 357.4L1170.1 357.2L1171.4 356.7L1170.6 357.2L1170.2 358.1L1168.7 357.4M1042.7 312.8L1043.1 314.1L1043.7 315.5L1044.6 314.9L1045.4 314.0L1045.0 315.2L1043.9 315.6L1043.8 316.7L1043.4 317.7L1044.2 316.5L1043.8 315.1L1043.3 313.9L1042.7 312.8M1038.5 325.0L1039.7 324.5L1041.0 324.6L1040.2 325.3L1039.2 325.8L1038.5 325.0M1043.4 325.0L1044.5 325.2L1045.3 324.4L1046.2 324.0L1047.2 324.3L1048.1 324.8L1049.0 325.0L1050.0 325.4L1050.5 326.3L1049.4 325.2L1047.8 324.8L1046.5 325.8L1044.9 325.8L1043.4 325.0M1058.4 330.4L1059.0 331.8L1060.4 332.4L1058.9 332.9L1058.5 331.7L1058.4 330.4M956.9 284.3L957.2 286.0L957.7 287.5L956.7 286.8L956.4 285.5L956.9 284.3M925.5 292.9L926.6 293.5L927.7 294.1L928.6 295.1L929.4 296.1L929.5 297.4L930.2 298.6L930.3 299.9L929.7 301.0L928.4 301.7L927.2 302.5L926.5 301.8L925.7 301.0L925.8 299.9L925.3 298.9L925.0 297.9L925.0 296.8L925.4 295.9L925.3 294.9L925.6 293.9L925.5 292.9M909.5 306.7L909.8 307.4L909.5 306.7M908.0 334.6L907.3 335.1L908.0 334.6M1008.3 371.4L1007.8 372.5L1007.6 373.6L1008.1 374.7L1008.5 375.8L1008.6 377.2L1008.7 378.7L1009.2 380.1L1009.8 381.4L1009.5 382.3L1009.0 383.1L1009.4 384.1L1009.9 385.1L1010.2 386.1L1010.7 387.1L1011.0 388.3L1011.7 389.3L1011.6 390.9L1012.0 392.5L1012.8 393.4L1013.4 394.4L1013.6 395.5L1013.3 396.5L1013.5 397.5L1013.4 398.6L1012.5 398.8L1011.7 399.3L1011.7 401.0L1012.8 401.2L1013.7 401.7L1014.6 402.3L1015.6 402.8L1017.3 402.6L1018.8 403.0L1020.3 402.4L1021.5 401.5L1022.5 400.6L1023.8 400.3L1024.6 400.1L1025.5 399.9L1026.3 400.1L1027.2 399.8L1028.7 400.1L1030.1 400.0L1031.6 399.9L1033.1 400.1L1033.9 399.0L1034.3 397.9L1035.4 397.4L1036.5 397.1L1037.8 396.6L1039.0 395.9L1040.2 395.9L1041.4 396.1L1042.8 395.5L1044.3 394.9L1045.8 394.5L1047.3 394.4L1048.5 394.3L1049.5 393.9L1050.7 393.9L1051.8 394.2L1053.4 394.7L1055.0 395.4L1056.2 395.2L1057.4 395.6L1058.3 396.3L1059.1 396.9L1059.9 398.3L1060.2 399.2L1060.9 399.8L1061.3 400.6L1061.3 401.5L1062.3 402.0L1063.3 402.5L1063.7 401.5L1064.3 400.6L1065.0 399.9L1065.4 399.0L1066.2 398.5L1067.0 397.9L1067.7 397.6L1067.9 398.5L1068.0 399.3L1067.0 400.6L1066.9 401.8L1067.0 403.0L1068.0 403.2L1068.7 402.3L1069.2 401.3L1069.7 402.5L1069.2 403.5L1068.5 404.2L1069.2 404.2L1070.6 404.6L1071.9 405.0L1072.1 406.2L1072.4 407.4L1073.0 408.6L1073.6 409.9L1074.6 409.8L1075.6 410.1L1077.2 410.2L1078.5 411.1L1080.2 411.3L1081.7 412.1L1082.9 411.1L1084.2 410.4L1085.2 410.1L1085.4 411.6L1086.5 411.9L1087.6 411.8L1088.6 412.6L1089.5 412.1L1090.3 411.6L1091.6 410.9L1092.5 409.9L1093.7 409.9L1094.8 409.6L1096.0 409.0L1097.5 408.9L1097.7 407.7L1097.7 406.4L1097.7 405.4L1098.2 404.5L1098.8 403.6L1099.4 402.8L1099.7 401.9L1099.9 401.0L1100.9 399.8L1101.5 398.7L1102.1 397.6L1103.1 397.1L1103.8 396.1L1104.1 394.9L1104.7 393.9L1104.9 392.6L1105.3 391.5L1105.5 390.3L1105.9 389.3L1106.2 388.2L1106.5 387.1L1106.3 385.6L1105.8 384.3L1105.6 382.9L1104.9 381.6L1105.3 380.2L1104.8 379.0L1103.8 378.0L1102.9 377.0L1102.3 375.6L1101.1 374.6L1100.8 373.2L1099.7 372.4L1098.9 372.1L1098.1 371.9L1097.2 371.9L1096.8 370.9L1096.5 369.9L1095.9 369.2L1095.4 368.6L1095.0 367.8L1094.8 367.0L1093.7 366.5L1092.8 365.7L1091.9 365.0L1091.0 364.2L1089.9 363.8L1088.9 363.3L1088.7 361.9L1088.4 360.6L1088.3 359.5L1087.9 358.4L1087.1 357.7L1086.4 356.9L1086.1 355.8L1086.2 354.7L1085.6 353.7L1085.2 352.7L1084.2 351.8L1083.3 352.0L1082.7 352.7L1082.5 351.7L1082.0 350.8L1082.1 349.4L1082.0 348.1L1081.3 347.2L1080.7 346.1L1080.3 344.9L1079.8 344.0L1079.3 343.2L1078.7 343.9L1078.3 344.7L1078.0 346.1L1077.3 347.4L1077.5 349.0L1077.1 350.5L1077.0 352.1L1076.8 353.7L1076.4 354.5L1076.4 355.4L1076.6 356.3L1076.6 357.2L1075.8 358.3L1075.3 359.6L1074.5 360.0L1073.6 360.3L1072.5 359.9L1071.4 359.6L1070.2 358.9L1069.0 358.1L1067.7 357.2L1066.5 356.2L1065.4 355.5L1064.0 355.2L1063.0 354.3L1061.8 353.7L1062.1 353.0L1062.7 351.5L1063.3 350.0L1064.5 349.6L1065.0 348.6L1065.5 347.4L1064.8 346.7L1064.0 346.1L1063.0 346.0L1062.1 346.4L1061.1 346.5L1060.1 346.1L1058.9 346.6L1058.3 345.8L1057.4 345.4L1056.2 345.6L1055.0 345.4L1054.5 346.6L1053.0 347.1L1051.5 346.9L1050.0 347.6L1049.3 348.8L1049.1 349.8L1048.1 351.0L1047.1 352.3L1047.6 353.7L1046.1 353.2L1044.6 353.5L1043.9 354.7L1043.3 353.4L1043.2 352.0L1042.2 351.1L1041.0 350.8L1040.0 351.3L1039.0 351.5L1038.0 352.5L1036.8 352.7L1035.8 354.0L1034.8 355.2L1034.9 356.1L1034.8 356.9L1033.6 358.0L1032.6 359.4L1031.9 358.3L1031.4 357.2L1030.5 358.3L1029.7 359.4L1029.5 360.3L1029.4 361.3L1028.8 362.3L1027.9 362.9L1027.0 363.7L1026.7 364.8L1025.8 364.7L1025.0 365.0L1024.3 365.6L1023.5 366.0L1022.2 366.2L1021.1 366.7L1019.9 367.1L1018.8 367.7L1017.4 367.4L1015.9 367.5L1015.1 367.9L1014.4 368.5L1013.6 369.0L1012.9 369.7L1011.7 369.8L1010.7 370.4L1010.3 371.3L1009.8 372.1L1009.5 371.3L1009.3 370.4L1008.3 371.4M1064.8 344.4L1065.5 345.1L1065.8 346.1L1064.5 345.6L1064.8 344.4M1049.1 344.7L1050.7 344.7L1052.3 344.9L1051.5 345.5L1050.8 346.1L1050.1 345.2L1049.1 344.7M1065.8 404.2L1067.0 404.3L1068.2 404.5L1066.7 405.2L1065.8 404.2M1084.7 416.7L1085.6 416.8L1086.4 417.0L1087.7 417.0L1088.9 417.7L1090.0 417.4L1091.2 417.3L1092.3 417.2L1093.5 417.2L1093.9 418.7L1093.5 420.2L1093.3 421.6L1092.5 422.9L1091.4 423.1L1090.3 423.4L1089.3 423.4L1088.4 423.8L1087.1 423.0L1086.4 421.6L1086.1 420.7L1085.5 419.8L1085.3 418.8L1084.7 418.0L1084.7 416.7M1153.2 401.3L1153.4 402.4L1154.2 403.2L1155.8 403.3L1157.4 403.5L1158.0 404.7L1158.6 405.9L1159.5 406.2L1160.3 406.4L1161.1 407.6L1161.3 408.9L1162.4 409.5L1163.5 409.9L1165.0 409.4L1166.5 409.1L1167.7 409.4L1167.4 410.5L1167.2 411.6L1166.6 412.2L1166.2 413.1L1164.8 413.5L1164.0 414.8L1163.4 415.7L1162.6 416.3L1162.0 417.2L1161.6 418.2L1160.6 418.7L1159.6 419.2L1158.4 418.2L1159.0 417.2L1159.6 416.2L1158.9 414.8L1157.4 414.7L1156.2 413.8L1156.9 412.7L1158.1 412.1L1158.4 411.1L1158.4 410.1L1158.0 408.5L1157.4 406.9L1156.5 406.2L1155.6 405.4L1155.0 404.3L1154.4 403.2L1153.6 402.4L1153.2 401.3M1153.7 416.2L1154.3 417.2L1154.7 418.2L1155.9 418.3L1157.2 418.4L1157.2 419.4L1156.9 420.6L1156.5 421.7L1155.2 421.9L1154.2 422.6L1153.5 424.1L1152.0 424.9L1150.5 425.6L1149.8 427.0L1149.1 428.3L1148.3 429.5L1147.5 430.4L1146.3 430.7L1145.5 430.8L1144.6 431.1L1143.8 431.2L1142.9 431.2L1142.1 430.7L1141.3 430.3L1140.4 430.2L1139.5 430.0L1138.2 429.5L1138.6 428.7L1138.7 427.8L1140.2 427.0L1141.4 426.9L1142.6 426.4L1143.5 425.6L1144.1 424.6L1145.1 424.0L1146.0 423.3L1147.0 422.8L1148.1 422.4L1148.9 421.9L1149.5 421.1L1150.1 420.3L1150.8 419.4L1151.5 418.4L1152.0 417.2L1152.8 416.7L1153.7 416.2M1140.9 431.7L1141.7 432.2L1142.4 432.7L1140.7 432.7L1140.9 431.7M294.9 424.1L296.3 424.8L295.4 425.1L294.9 424.1M898.2 436.6L899.3 436.5L900.4 436.6L901.4 437.1L902.4 437.6L901.1 438.0L899.9 438.8L899.0 437.7L898.2 436.6M855.7 430.5L856.9 431.0L856.2 431.0L855.7 430.5M821.6 431.9L822.3 432.2L821.6 431.9M909.3 446.9L910.5 447.4L909.5 447.4L909.3 446.9M1119.3 450.6L1119.6 451.3L1119.3 450.6M1137.0 440.8L1137.7 441.7L1137.0 441.5L1137.0 440.8M1144.4 445.7L1144.9 445.9L1144.4 445.7M737.3 450.3L737.8 450.6L737.3 450.3M616.2 465.5L617.1 465.4L618.0 465.5L619.0 465.7L619.9 465.8L618.6 465.7L617.4 466.0L616.2 465.5M664.1 458.7L664.6 459.1L664.1 458.7M575.7 469.4L577.1 470.1L578.6 470.5L580.2 470.5L581.8 470.4L583.1 470.1L584.4 469.8L585.7 469.4L587.0 469.0L586.0 468.9L585.0 469.2L584.0 469.3L583.0 469.4L582.1 469.2L581.2 469.4L580.3 469.4L579.3 469.4L578.4 469.3L577.5 469.3L576.6 469.4L575.7 469.4M305.4 350.0L306.7 350.5L307.9 351.0L306.7 351.0L305.4 350.0M361.7 359.9L362.7 360.6L361.9 360.8L361.7 359.9M298.5 368.7L299.3 369.2L298.5 368.7M385.3 338.5L385.8 339.0L385.3 338.5M336.6 368.9L336.9 369.2L336.6 368.9M1149.3 299.5L1150.3 299.5L1149.3 299.5M1154.2 313.5L1154.7 313.3L1154.2 313.5M1117.6 300.0L1118.1 300.3L1117.6 300.0M1102.1 298.8L1102.4 299.1L1102.1 298.8M1059.6 298.8L1060.1 298.3L1059.6 298.8M1084.7 284.3L1085.2 283.6L1084.7 284.3M1087.1 279.9L1087.4 279.4L1087.1 279.9M1138.5 269.6L1138.7 269.6L1138.5 269.6M293.4 247.8L293.6 247.8L293.4 247.8M312.8 276.0L312.8 275.8L312.8 276.0M342.8 312.3L342.3 312.0L342.8 312.3M460.4 383.4L460.9 383.6L460.4 383.4M530.7 399.3L530.9 399.6L530.7 399.3M657.2 367.2L657.5 367.2L657.2 367.2M693.8 336.3L694.1 336.6L693.8 336.3M715.2 355.9L715.2 356.2L715.2 355.9M699.0 407.9L699.2 407.9L699.0 407.9M570.0 237.8L570.3 237.5L570.0 237.8M649.6 326.3L649.6 326.5L649.6 326.3M456.8 271.1L456.5 270.9L456.8 271.1M438.6 245.9L438.8 246.1L438.6 245.9M578.1 277.0L578.9 276.7L578.1 277.0M579.3 281.2L579.6 280.7L579.3 281.2M582.8 284.8L583.0 284.3L582.8 284.8M287.0 537.6L287.0 536.7L287.1 535.8L287.1 534.8L287.0 533.9L287.1 533.0L287.2 532.1L287.1 531.2L287.0 530.2L287.0 529.3L287.0 528.4L287.0 527.5L287.0 526.6L287.0 525.6L287.1 524.7L287.0 523.8L287.0 522.9L288.2 523.2L289.4 523.6L290.6 524.1L291.8 524.5L293.0 524.4L294.3 524.2L295.5 524.1L296.8 524.1L298.0 524.1L299.3 524.2L300.5 524.1L301.7 523.9L303.0 523.9L304.2 523.9L305.4 523.8L306.7 524.1L307.7 524.2L308.9 524.2L309.9 524.1L311.1 524.1L312.1 523.8L313.2 523.5L314.3 523.4L315.4 523.3L316.5 523.4L317.6 523.7L318.7 523.6L319.8 523.5L320.8 523.9L321.8 524.5L322.8 524.9L323.9 525.3L324.9 525.4L326.0 525.7L327.1 525.7L328.1 525.8L329.2 525.8L330.3 525.8L331.4 525.7L332.4 525.8L333.5 525.8L334.6 525.8L335.6 526.2L336.7 526.2L337.8 526.1L338.9 526.1L340.0 525.9L341.0 525.8L342.3 526.0L343.5 526.1L344.8 526.2L346.0 526.2L347.1 526.9L348.4 527.1L349.7 527.1L350.9 527.2L352.2 527.1L353.4 526.9L354.6 526.8L355.9 526.6L357.1 526.2L358.3 525.9L359.5 525.5L360.7 525.3L361.8 525.3L362.9 525.5L363.9 525.3L365.0 525.1L366.1 525.4L367.2 525.4L368.2 525.5L369.3 525.5L370.4 525.5L371.5 525.5L372.6 525.3L373.6 524.8L374.6 525.1L375.7 525.0L376.8 525.2L377.9 525.3L379.3 525.8L380.8 525.7L382.3 525.8L383.8 526.0L385.3 525.8L386.8 525.9L388.3 525.6L389.7 525.1M354.3 523.6L353.2 522.7L352.2 521.7L351.5 520.5L350.9 519.2L351.4 517.6L351.9 516.0L353.3 515.8L354.7 515.7L356.2 515.8L357.6 515.9L359.0 515.6L360.4 515.2L361.7 514.6L363.2 514.6M328.0 509.7L329.5 510.0L331.0 509.9L332.5 509.9L333.9 510.0L335.4 509.7L336.9 510.2L338.3 510.5L339.8 510.6L338.9 510.9L338.0 511.4L337.1 511.8L336.1 512.1L335.1 511.9L334.1 511.5L333.0 511.4L332.0 511.2L331.0 510.8L330.1 510.3L329.0 510.0L328.0 509.7M341.0 506.5L341.9 506.5L342.8 506.2L344.3 506.9L346.0 507.1L347.7 507.2L349.4 506.8L351.0 506.5L352.5 505.9L354.2 505.6L355.8 505.2L357.0 505.4L358.1 505.2L359.2 504.8L360.3 504.4L361.4 504.2L362.6 503.9L363.7 503.9L364.9 503.8L366.5 503.5L368.1 503.3L369.6 503.0L371.3 503.0L372.2 502.6L373.0 502.0L374.0 501.6L374.9 501.2L375.9 501.2L376.9 501.1L377.9 500.9L379.0 500.8L380.0 500.9L381.0 501.0L381.9 500.6L383.0 500.6L384.0 500.6L385.0 500.8L386.0 501.0L387.0 501.1L387.9 500.8L388.9 500.5L389.8 500.2L390.8 500.0L391.8 500.0L392.7 500.1L393.7 500.1L394.7 499.9L395.7 499.9L396.7 499.9L397.6 499.9L398.6 500.0L399.6 499.9L400.6 499.6L401.5 499.4L402.5 499.1L403.3 498.7L404.2 498.5L405.1 498.4L406.0 498.2L406.9 498.0L407.8 497.7L408.7 497.3L409.6 497.1L410.5 497.0L411.4 497.2L412.3 497.3L413.3 497.4L414.2 497.3L415.1 497.3L416.0 497.2L417.0 497.1L418.1 497.4L419.3 497.4L420.3 497.8L421.5 498.0L422.6 498.1L423.8 498.3L424.9 497.9L426.0 497.5L427.2 497.3L428.3 497.0L429.5 497.0L430.6 496.9L431.7 497.2L432.9 497.5L434.0 497.6L435.1 497.9L435.9 498.3L436.7 498.7L437.6 498.9L438.5 499.2L439.4 499.4L440.3 499.5L441.2 499.5L442.0 499.7L442.9 499.7L443.8 499.6L444.7 499.6L445.6 499.4L446.5 499.2L447.4 499.1L448.3 499.0L449.1 498.9L450.4 498.8L451.6 499.0L452.7 499.3L453.9 499.6L455.1 499.6L456.3 499.6L457.5 499.7L458.7 499.8L459.7 499.8L460.6 499.8L461.6 499.8L462.5 499.7L463.5 499.6L464.4 499.5L465.4 499.5L466.3 499.2L467.2 499.2L468.2 499.3L469.1 499.6L470.0 499.7L471.0 499.9L471.9 500.0L472.8 500.2L473.7 500.6L474.7 500.3L475.8 500.5L476.8 500.6L477.9 500.5L478.9 500.6L480.0 500.5L481.0 500.4L482.1 500.3L482.8 499.8L483.6 499.4L484.3 499.0L485.0 498.3L485.8 498.1L486.7 498.1L487.6 497.9L488.4 497.9L489.2 496.9L490.2 496.2L491.3 495.7L492.4 495.2L493.4 495.1L494.4 495.2L495.3 495.0L496.3 495.1L497.3 495.0L498.3 494.8L499.3 494.8L500.3 494.7L501.3 494.9L502.2 495.2L503.2 495.4L504.1 495.6L505.1 495.6L506.1 495.7L507.1 495.6L508.1 495.9L509.3 495.8L510.6 495.7L511.8 495.8L513.0 496.1L514.2 496.5L515.4 496.9L516.7 496.8L517.9 497.1L519.1 496.9L520.4 496.8L521.6 496.6L522.8 496.4L524.1 496.4L525.3 496.5L526.6 496.6L527.8 497.1L529.4 496.8L531.1 496.7L532.7 496.3L534.2 495.4L535.9 495.4L537.6 495.5L539.2 495.1L540.8 494.5L542.2 494.4L543.7 494.6L545.1 494.6L546.6 494.5L548.0 494.9L549.4 495.3L550.8 494.9L552.3 494.9L553.3 494.7L554.3 494.5L555.2 494.4L556.2 494.4L557.2 494.5L558.2 494.5L559.2 494.4L560.2 494.5L561.1 493.1L562.0 491.8L563.1 490.6L564.1 489.3L564.4 488.5L564.7 487.7L565.0 486.8L565.2 486.0L565.8 485.3L565.9 484.4L566.4 483.7L566.8 482.9L567.6 482.0L568.4 481.2L569.3 480.4L569.9 479.4L570.7 478.5L571.8 477.9L572.6 477.1L573.4 476.3L574.7 475.7L576.1 475.2L577.4 474.9L578.7 474.1L580.1 474.0L581.5 473.7L582.8 473.4L584.3 473.4L585.8 473.2L587.4 472.8L588.9 472.3L590.4 471.9L589.2 472.7L588.1 473.4L586.8 473.9L585.5 474.3L584.5 474.8L583.4 475.2L582.4 475.6L581.3 476.0L580.2 476.3L579.1 476.5L578.2 477.1L577.1 477.5L576.5 478.8L575.7 480.0L575.4 481.0L574.8 481.9L574.3 482.9L573.8 483.9L573.0 484.6L572.3 485.4L571.5 486.1L570.7 486.9L571.7 487.4L572.6 488.0L573.7 488.3L574.7 488.8L575.7 489.3L576.7 489.6L577.7 490.2L578.6 490.8L579.2 492.1L579.7 493.4L580.4 494.6L581.1 495.9L580.2 496.7L579.4 497.5L578.4 498.1L577.4 498.8L576.4 499.3L575.3 499.7L574.4 500.5L573.4 501.1L572.0 501.0L570.5 501.1L569.0 501.2L567.6 501.5L566.3 502.2L564.8 502.6L563.5 503.3L562.1 503.8L561.2 504.0L560.3 504.2L559.3 504.1L558.4 504.4L557.5 504.6L556.5 504.9L555.6 505.1L554.8 505.6L553.8 505.2L552.9 504.9L552.0 504.6L551.0 504.5L550.0 504.5L549.1 504.8L548.1 505.0L547.2 505.0L546.0 505.9L545.0 506.8L543.6 507.3L542.5 508.2L543.1 509.5L543.7 510.8L544.2 512.2L544.7 513.6L546.3 513.9L547.7 514.6L549.3 514.8L550.9 514.8L552.5 515.1L554.1 515.3L555.6 515.4L557.2 515.5L558.2 515.6L559.1 515.4L560.1 515.5L561.0 515.8L561.9 515.9L562.8 516.0L563.8 516.1L564.7 516.2L565.6 516.6L566.5 516.7L567.4 516.8L568.3 517.2L569.2 517.5L570.1 517.7L571.1 517.8L572.0 518.0L572.9 518.1L573.8 518.1L574.6 518.4L575.5 518.6L576.4 518.7L577.3 518.9L578.2 519.0L579.0 519.3L580.0 519.4L580.8 519.6L581.8 519.5L582.6 519.2L583.5 519.3L584.4 519.2L585.3 519.2L586.2 519.2L587.9 519.3L589.5 519.0L591.1 518.6L592.7 518.2L594.3 518.2L596.0 518.1L597.6 518.0L599.2 518.0L600.5 518.0L601.7 517.9L603.0 517.9L604.1 517.1L605.3 516.7L606.4 516.3L607.5 515.7L608.8 515.6L610.0 515.5L611.2 515.1L612.5 515.2L613.7 515.4L615.0 515.5L616.2 515.8L617.4 515.8L618.7 515.5L620.2 515.4L621.8 515.2L623.2 514.7L624.8 514.5L626.3 514.3L627.9 514.1L629.4 513.9L630.9 513.6L632.0 513.2L633.1 513.1L634.1 512.9L635.2 512.8L636.3 512.9L637.4 513.2L638.5 513.1L639.5 512.9L640.6 512.8L641.7 512.5L642.8 512.4L643.8 512.2L644.9 512.1L646.0 512.2L647.1 512.1L648.1 511.9L649.0 511.6L649.8 511.2L650.7 511.2L651.6 510.9L652.5 511.1L653.4 511.3L654.3 511.0L655.2 510.9L656.1 511.0L657.0 511.1L657.9 511.0L658.8 511.0L659.7 511.1L660.6 511.0L661.5 510.8L662.4 510.9L663.4 510.3L664.4 509.6L665.2 508.8L666.2 508.1L667.1 507.4L668.1 506.7L669.1 506.2L670.2 505.7L671.1 504.9L671.8 503.8L672.6 502.9L673.4 502.0L674.5 501.3L675.7 501.0L676.8 500.4L678.0 500.0L679.0 499.4L680.1 499.0L681.3 498.6L682.4 498.2L683.4 497.5L684.6 497.3L685.8 496.9L686.9 496.7L688.0 496.1L689.2 495.9L690.3 495.5L691.4 494.9L692.5 494.5L693.5 493.8L694.8 493.6L695.8 493.0L697.0 492.9L698.1 492.6L699.2 492.3L700.3 491.8L701.4 491.6L702.6 491.7L703.7 491.5L704.9 491.3L706.3 491.3L707.7 491.2L709.2 491.2L710.6 491.5L712.0 491.4L713.4 491.1L714.9 491.2L716.3 491.0L717.7 491.1L719.1 491.5L720.6 491.5L722.0 491.3L723.4 491.3L724.9 491.3L726.3 491.2L727.7 491.3L729.0 491.0L730.4 490.7L731.7 490.7L733.0 491.2L734.4 491.1L735.7 490.8L737.0 490.9L738.3 490.8L739.6 490.2L740.9 490.1L742.2 490.0L743.6 489.7L744.9 489.8L746.2 489.5L747.5 489.3L748.9 489.3L750.0 489.3L751.1 489.1L752.1 488.5L753.2 488.0L754.3 488.0L755.4 488.1L756.5 488.1L757.7 488.1L758.8 488.1L759.9 487.8L761.0 487.6L762.1 487.4L763.2 487.8L764.4 487.9L765.4 488.3L766.5 488.6L768.0 488.4L769.6 488.3L771.0 488.0L772.6 488.1L774.1 488.0L775.6 487.9L777.1 488.2L778.6 488.4L780.1 488.5L781.6 488.8L783.1 489.0L784.7 489.2L786.2 489.0L787.7 488.7L789.1 488.1L790.6 487.8L791.9 487.9L793.2 487.7L794.5 487.7L795.8 487.7L797.1 487.6L798.3 487.2L799.6 487.2L800.9 487.2L802.2 487.1L803.5 486.8L804.7 486.2L805.8 485.6L807.1 485.6L808.4 485.7L809.7 485.4L811.0 485.1L812.3 485.5L813.6 486.2L814.8 486.7L816.1 487.1L817.5 487.4L818.8 487.7L820.2 487.9L821.6 487.8L822.6 487.8L823.6 487.3L824.6 486.9L825.5 486.4L826.6 486.1L827.5 485.6L828.5 485.5L829.5 485.1L830.6 484.9L831.6 484.5L832.6 484.1L833.6 483.8L834.6 483.5L835.7 483.5L836.6 482.9L837.5 482.4L838.6 481.8L839.8 481.3L841.0 480.9L842.2 480.7L843.5 480.4L844.7 480.2L845.9 480.1L847.2 480.0L848.3 479.4L849.5 479.0L850.7 478.5L851.9 478.0L853.1 478.2L854.4 478.3L855.7 478.4L856.9 478.0L857.8 478.2L858.7 478.5L859.6 478.6L860.4 478.8L861.3 478.7L862.2 478.9L863.1 479.1L864.0 479.0L864.9 479.2L865.8 479.4L866.7 479.5L867.6 479.5L868.5 479.7L869.4 479.9L870.1 480.3L870.9 480.7L871.9 481.3L873.0 481.5L873.9 482.0L874.9 482.4L875.9 482.5L877.0 482.9L878.0 483.0L879.1 482.8L880.2 482.6L881.3 482.6L882.1 481.9L883.1 481.4L884.1 481.7L885.2 481.6L886.2 481.8L887.2 482.0L888.3 482.1L889.3 482.3L890.3 482.4L891.3 482.4L892.2 482.8L893.0 483.1L893.8 483.5L894.6 483.9L895.4 484.4L896.0 485.1L896.7 485.6L897.5 486.1L897.6 487.0L897.7 487.8L898.0 488.7L898.0 489.5L898.2 490.4L898.1 491.3L898.0 492.1L898.0 493.0L899.4 493.3L900.8 493.5L902.2 493.5L903.6 493.5L904.4 492.1L905.4 491.0L906.4 489.8L907.3 488.6L908.8 487.9L910.3 487.3L911.2 487.1L912.3 487.0L913.3 486.8L914.3 487.1L915.3 487.1L916.3 487.0L917.3 486.8L918.4 486.9L919.2 486.2L920.2 485.8L921.1 485.3L921.9 484.8L922.8 484.2L923.7 483.6L924.7 483.5L925.7 483.2L926.9 482.8L928.2 482.4L929.4 482.5L930.7 482.5L932.0 482.6L933.2 482.6L934.5 482.9L935.7 482.9L937.0 482.7L938.1 482.1L939.4 481.9L940.5 481.5L941.8 481.2L943.0 480.9L944.2 480.5L945.4 480.2L946.5 480.3L947.6 480.4L948.7 480.2L949.7 479.6L950.8 479.5L951.9 479.5L953.0 479.5L954.0 479.9L955.1 479.6L956.1 479.1L957.2 479.0L958.2 478.7L959.3 478.9L960.4 479.2L961.5 479.3L962.6 479.5L963.7 479.6L964.9 479.6L966.0 479.6L967.2 479.5L968.3 479.2L969.5 478.8L970.6 479.0L971.8 479.2L972.9 478.9L974.1 478.7L975.2 478.9L976.4 478.8L977.6 478.8L978.7 478.9L979.9 478.9L981.0 479.0L982.2 479.1L983.3 479.0L984.5 479.0L985.7 479.1L986.7 479.5L987.9 479.8L989.0 480.0L990.2 480.3L991.3 480.2L992.5 480.2L993.7 480.1L994.8 479.9L996.0 480.0L997.1 479.9L998.3 480.0L999.4 480.0L1000.8 480.2L1002.3 480.1L1003.6 480.5L1005.0 480.6L1006.4 480.9L1007.9 480.9L1009.2 480.4L1010.6 480.2L1012.0 480.6L1013.4 480.5L1014.8 480.5L1016.2 480.5L1017.6 480.5L1019.0 480.5L1020.4 480.6L1021.8 480.7L1022.7 480.9L1023.6 480.9L1024.5 480.8L1025.4 480.7L1026.3 480.4L1027.3 480.3L1028.2 480.6L1029.1 480.8L1030.0 480.5L1030.9 480.4L1031.8 480.4L1032.7 480.4L1033.6 480.3L1034.5 480.3L1035.4 480.1L1036.3 479.7L1037.7 479.9L1039.2 479.7L1040.6 479.6L1042.0 479.6L1043.5 479.4L1044.9 479.4L1046.3 479.6L1047.8 479.7L1049.2 479.4L1050.6 479.1L1052.0 479.1L1053.4 478.8L1054.9 478.6L1056.3 478.4L1057.7 478.2L1059.1 478.0L1060.0 478.4L1060.8 478.7L1061.7 478.8L1062.5 479.2L1063.4 479.5L1064.3 479.6L1065.1 480.0L1065.9 480.4L1066.8 480.5L1067.7 480.4L1068.6 480.5L1069.5 480.5L1070.4 480.5L1071.3 480.4L1072.2 480.5L1073.1 480.5L1074.0 480.5L1074.9 480.6L1075.8 480.5L1076.7 480.7L1077.6 480.8L1078.5 480.8L1079.4 481.1L1080.3 481.0L1081.2 481.2L1082.1 481.3L1083.0 481.5L1083.9 481.6L1084.8 481.8L1085.6 482.0L1086.5 482.1L1087.4 482.4L1088.7 482.4L1090.0 482.8L1091.4 482.9L1092.7 483.1L1094.0 483.3L1095.2 483.8L1096.4 484.5L1097.7 484.9L1099.2 484.8L1100.8 484.7L1102.4 484.7L1103.9 485.0L1105.4 485.5L1106.9 485.9L1108.4 485.9L1110.0 486.1L1111.6 486.2L1113.2 486.1L1114.8 486.2L1116.5 486.4L1118.1 486.6L1119.6 487.1L1121.1 487.7L1122.8 487.8L1124.2 488.2L1125.7 488.2L1127.2 488.5L1128.7 488.7L1130.1 489.3L1131.6 489.5L1133.1 489.6L1134.6 489.8L1136.0 490.4L1137.5 490.8L1139.0 491.1L1140.5 491.2L1142.1 491.3L1143.6 491.7L1145.1 492.1L1146.6 492.2L1147.0 493.6L1148.1 494.7L1146.7 495.1L1145.2 495.1L1143.9 495.6L1142.6 496.1L1141.2 496.3L1139.7 496.4L1138.3 496.6L1137.0 497.1L1136.0 497.3L1135.1 497.6L1134.1 497.8L1133.3 498.3L1132.5 498.8L1131.7 499.3L1130.7 499.6L1129.9 500.1L1130.5 501.2L1131.0 502.3L1131.8 503.3L1132.1 504.5L1131.0 505.5L1129.6 506.1L1128.3 506.7L1127.2 507.7L1125.9 508.2L1124.8 509.0L1123.5 509.5L1122.3 510.2L1121.0 510.6L1119.6 510.9L1118.4 511.7L1117.4 512.6L1118.5 513.3L1119.7 513.9L1120.9 514.4L1122.2 514.9L1123.4 515.3L1124.7 515.7L1126.0 516.2L1127.2 516.8L1128.0 516.9L1128.8 517.3L1129.7 517.5L1130.4 517.9L1131.3 518.0L1132.1 518.3L1132.9 518.6L1133.7 519.0L1134.5 519.3L1135.4 519.3L1136.2 519.5L1137.1 519.7L1137.9 520.0L1138.7 520.3L1139.6 520.3L1140.4 520.4L1141.9 520.5L1143.3 520.8L1144.6 521.2L1146.1 521.2L1147.5 521.5L1148.9 521.8L1150.3 521.7L1151.7 521.9L1152.8 521.8L1153.9 521.9L1155.0 522.1L1156.0 522.1L1157.1 522.5L1158.1 522.8L1159.1 523.2L1160.2 523.4L1161.2 523.1L1162.3 523.0L1163.4 522.9L1164.4 522.5L1165.5 522.8L1166.5 523.0L1167.6 523.1L1168.7 523.1L1170.0 523.0L1171.4 523.1L1171.4 524.1L1171.2 524.9L1171.2 525.8L1171.3 526.8L1171.2 527.7L1171.0 528.6L1171.1 529.5L1171.2 530.4L1171.1 531.3L1171.4 532.2L1171.4 533.1L1171.4 534.0L1171.4 534.9L1171.4 535.8L1171.2 536.7L1171.4 537.6M552.3 487.3L553.2 487.5L554.1 487.8L555.1 488.0L555.9 488.3L556.9 488.2L557.8 488.2L558.7 488.5L559.7 488.6L559.0 490.1L558.3 491.6L557.6 493.1L557.2 494.7L556.3 494.4L555.3 494.2L554.5 493.8L553.5 493.5L552.7 493.0L551.8 492.5L550.8 492.5L549.9 492.2L550.4 491.0L551.4 489.9L551.8 488.6L552.3 487.3M606.4 509.4L607.9 508.9L609.4 508.4L610.8 507.7L612.3 507.2L613.9 507.4L615.5 507.3L617.1 507.6L618.7 507.7L618.1 509.1L617.4 510.4L616.6 511.7L616.2 513.1L614.7 513.2L613.1 513.0L611.6 512.9L610.0 513.3L608.5 513.3L607.0 513.6L605.4 513.7L603.9 513.8L604.5 512.7L605.3 511.7L605.7 510.5L606.4 509.4M476.2 494.2L477.1 494.1L478.0 494.1L478.9 493.7L479.8 493.6L480.7 493.3L481.7 493.4L482.6 493.4L483.5 493.3L484.4 493.3L485.4 493.3L486.3 493.5L487.2 493.8L488.1 493.9L489.1 493.7L490.0 493.6L490.9 493.5L489.7 494.3L488.4 495.2L486.9 494.8L485.4 494.9L483.9 494.5L482.3 494.4L480.8 494.0L479.2 494.2L477.7 494.0L476.2 494.2M523.8 507.2L524.7 507.0L525.5 507.0L526.4 507.0L527.3 507.1L528.1 507.3L529.0 507.4L529.9 507.3L530.7 507.2L531.6 507.4L532.4 507.4L533.3 507.6L534.2 507.4L535.0 507.5L535.9 507.7L536.7 507.8L537.6 507.9L538.6 508.9L539.7 509.6L540.7 510.6L541.8 511.4L540.3 511.2L538.8 511.3L537.4 511.2L535.9 511.1L534.5 511.1L533.0 510.9L531.6 510.6L530.2 510.1L529.4 509.8L528.6 509.4L527.8 509.0L527.0 508.6L526.2 508.3L525.4 507.9L524.7 507.4L523.8 507.2M552.3 508.9L553.6 509.2L554.9 509.4L556.3 509.3L557.6 509.3L558.9 509.5L560.2 509.5L561.6 509.6L562.9 509.7L561.8 509.9L560.6 510.0L559.5 510.3L558.5 510.9L557.0 510.1L555.6 509.3L553.9 509.2L552.3 508.9M1137.0 506.2L1137.9 506.2L1138.8 506.5L1139.7 506.7L1140.7 506.7L1141.6 506.7L1142.5 507.0L1143.4 507.1L1144.4 507.0L1143.1 506.9L1141.9 506.9L1140.7 507.1L1139.5 507.4L1138.2 506.9L1137.0 506.2M580.6 473.4L581.5 473.6L582.4 473.9L583.3 474.1L584.2 474.3L585.1 474.6L586.0 474.7L587.0 474.7L587.9 474.6L586.7 474.9L585.5 475.1L584.3 474.6L583.0 474.3L581.8 473.8L580.6 473.4" stroke="#000" stroke-width="1" fill="none" stroke-linejoin="round"/>
<rect x="287.0" y="96.3" width="884.4" height="441.3" fill="none" stroke="#707070" stroke-width="1.1"/>
<polyline points="770.7,158.4 772.5,161.1 774.4,163.7 776.3,166.4 778.3,169.0 780.2,171.7 782.3,174.4 784.6,177.0 786.7,179.7 788.2,182.4 789.4,185.0 790.5,187.7 791.4,190.3 792.3,193.0 793.1,195.7 793.9,198.3 794.8,201.0 795.6,203.6 796.4,206.3 797.2,209.0 798.0,211.6 798.7,214.3 799.5,216.9 800.3,219.6 801.1,222.3 802.0,224.9 802.8,227.6 803.5,230.3 804.2,232.9 804.9,235.6 805.5,238.2 806.1,240.9 806.6,243.6 807.2,246.2 807.8,248.9 808.3,251.5 808.8,254.2 809.3,256.9 809.9,259.5 810.4,262.2 810.9,264.9 811.4,267.5 811.9,270.2 812.5,272.8 813.0,275.5 813.6,278.2 814.1,280.8 814.7,283.5 815.2,286.1 815.7,288.8 816.3,291.5 816.8,294.1 817.4,296.8 817.9,299.5 818.4,302.1 819.0,304.8 819.5,307.4 820.0,310.1 820.6,312.8 821.1,315.4 821.7,318.1 822.2,320.7 822.7,323.4 823.3,326.1 823.8,328.7 824.3,331.4 824.9,334.0 825.4,336.7 825.9,339.4 826.5,342.0 827.0,344.7 827.5,347.4 828.0,350.0 828.5,352.7 829.0,355.3 829.5,358.0 830.0,360.7 830.5,363.3 831.0,366.0 831.5,368.6 832.0,371.3 832.6,374.0 833.1,376.6 833.6,379.3 834.2,382.0 834.8,384.6 835.4,387.3 836.1,389.9 836.7,392.6 837.4,395.3 838.2,397.9 838.9,400.6 839.7,403.2 840.5,405.9 841.3,408.6 842.1,411.2 843.0,413.9 843.8,416.6 844.7,419.2 845.6,421.9 846.6,424.5 847.5,427.2 848.5,429.9 849.4,432.5 850.5,435.2 851.5,437.8 852.6,440.5 853.7,443.2 854.9,445.8 856.1,448.5 857.4,451.1 858.7,453.8 860.0,456.5 861.5,459.1 863.0,461.8 864.5,464.5 866.1,467.1 867.7,469.8 869.4,472.4 871.1,475.1" fill="none" stroke="#ff0000" stroke-width="2.4" stroke-linecap="round" stroke-linejoin="round"/>
<text x="771.5" y="174" font-size="41" fill="#0000ff" font-family="'Liberation Sans', Arial, Helvetica, sans-serif">End:1003</text>
<text x="871.1" y="490.2" font-size="41" fill="#0000ff" font-family="'Liberation Sans', Arial, Helvetica, sans-serif">Start:1</text>
<text x="292.0" y="78.9" font-size="55" fill="#000" font-family="'Liberation Sans', Arial, Helvetica, sans-serif" style="white-space:pre">UTC:20210701  orbitNumber:18935</text>
<text y="120.4" font-size="41" fill="#262626" font-family="'Liberation Sans', Arial, Helvetica, sans-serif"><tspan x="164.3">90</tspan><tspan x="217.3" y="88.8" font-size="22" text-anchor="middle" stroke="#262626" stroke-width="0.35">&#9675;</tspan><tspan x="234.5" y="120.4">N</tspan></text>
<text y="193.7" font-size="41" fill="#262626" font-family="'Liberation Sans', Arial, Helvetica, sans-serif"><tspan x="162.8">60</tspan><tspan x="217.2" y="162.6" font-size="22" text-anchor="middle" stroke="#262626" stroke-width="0.35">&#9675;</tspan><tspan x="234.5" y="193.7">N</tspan></text>
<text y="267.0" font-size="41" fill="#262626" font-family="'Liberation Sans', Arial, Helvetica, sans-serif"><tspan x="164.5">30</tspan><tspan x="217.2" y="235.9" font-size="22" text-anchor="middle" stroke="#262626" stroke-width="0.35">&#9675;</tspan><tspan x="234.5" y="267.0">N</tspan></text>
<text y="340.3" font-size="41" fill="#262626" font-family="'Liberation Sans', Arial, Helvetica, sans-serif"><tspan x="229.4">0</tspan><tspan x="258.7" y="310.0" font-size="22" text-anchor="middle" stroke="#262626" stroke-width="0.35">&#9675;</tspan></text>
<text y="413.5" font-size="41" fill="#262626" font-family="'Liberation Sans', Arial, Helvetica, sans-serif"><tspan x="166.6">30</tspan><tspan x="220.2" y="382.5" font-size="22" text-anchor="middle" stroke="#262626" stroke-width="0.35">&#9675;</tspan><tspan x="237.0" y="413.5">S</tspan></text>
<text y="487.3" font-size="41" fill="#262626" font-family="'Liberation Sans', Arial, Helvetica, sans-serif"><tspan x="165.4">60</tspan><tspan x="220.2" y="456.3" font-size="22" text-anchor="middle" stroke="#262626" stroke-width="0.35">&#9675;</tspan><tspan x="237.3" y="487.3">S</tspan></text>
<text y="559.7" font-size="41" fill="#262626" font-family="'Liberation Sans', Arial, Helvetica, sans-serif"><tspan x="166.2">90</tspan><tspan x="220.2" y="528.7" font-size="22" text-anchor="middle" stroke="#262626" stroke-width="0.35">&#9675;</tspan><tspan x="237.3" y="559.7">S</tspan></text>
<text y="638.2" font-size="41" fill="#262626" font-family="'Liberation Sans', Arial, Helvetica, sans-serif"><tspan x="228.2">180</tspan><tspan x="303.1" y="607.2" font-size="22" text-anchor="middle" stroke="#262626" stroke-width="0.35">&#9675;</tspan><tspan x="321.0" y="638.2">W</tspan></text>
<text y="638.2" font-size="41" fill="#262626" font-family="'Liberation Sans', Arial, Helvetica, sans-serif"><tspan x="374.7">120</tspan><tspan x="449.8" y="607.2" font-size="22" text-anchor="middle" stroke="#262626" stroke-width="0.35">&#9675;</tspan><tspan x="468.2" y="638.2">W</tspan></text>
<text y="638.2" font-size="41" fill="#262626" font-family="'Liberation Sans', Arial, Helvetica, sans-serif"><tspan x="537.9">60</tspan><tspan x="591.3" y="607.2" font-size="22" text-anchor="middle" stroke="#262626" stroke-width="0.35">&#9675;</tspan><tspan x="610.0" y="638.2">W</tspan></text>
<text y="638.2" font-size="41" fill="#262626" font-family="'Liberation Sans', Arial, Helvetica, sans-serif"><tspan x="728.1">0</tspan><tspan x="757.8" y="607.2" font-size="22" text-anchor="middle" stroke="#262626" stroke-width="0.35">&#9675;</tspan></text>
<text y="638.2" font-size="41" fill="#262626" font-family="'Liberation Sans', Arial, Helvetica, sans-serif"><tspan x="837.1">60</tspan><tspan x="890.7" y="607.2" font-size="22" text-anchor="middle" stroke="#262626" stroke-width="0.35">&#9675;</tspan><tspan x="908.3" y="638.2">E</tspan></text>
<text y="638.2" font-size="41" fill="#262626" font-family="'Liberation Sans', Arial, Helvetica, sans-serif"><tspan x="968.7">120</tspan><tspan x="1043.4" y="607.2" font-size="22" text-anchor="middle" stroke="#262626" stroke-width="0.35">&#9675;</tspan><tspan x="1060.9" y="638.2">E</tspan></text>
<text y="638.2" font-size="41" fill="#262626" font-family="'Liberation Sans', Arial, Helvetica, sans-serif"><tspan x="1115.1">180</tspan><tspan x="1190.2" y="607.2" font-size="22" text-anchor="middle" stroke="#262626" stroke-width="0.35">&#9675;</tspan><tspan x="1208.0" y="638.2">E</tspan></text>
</svg></body></html>
